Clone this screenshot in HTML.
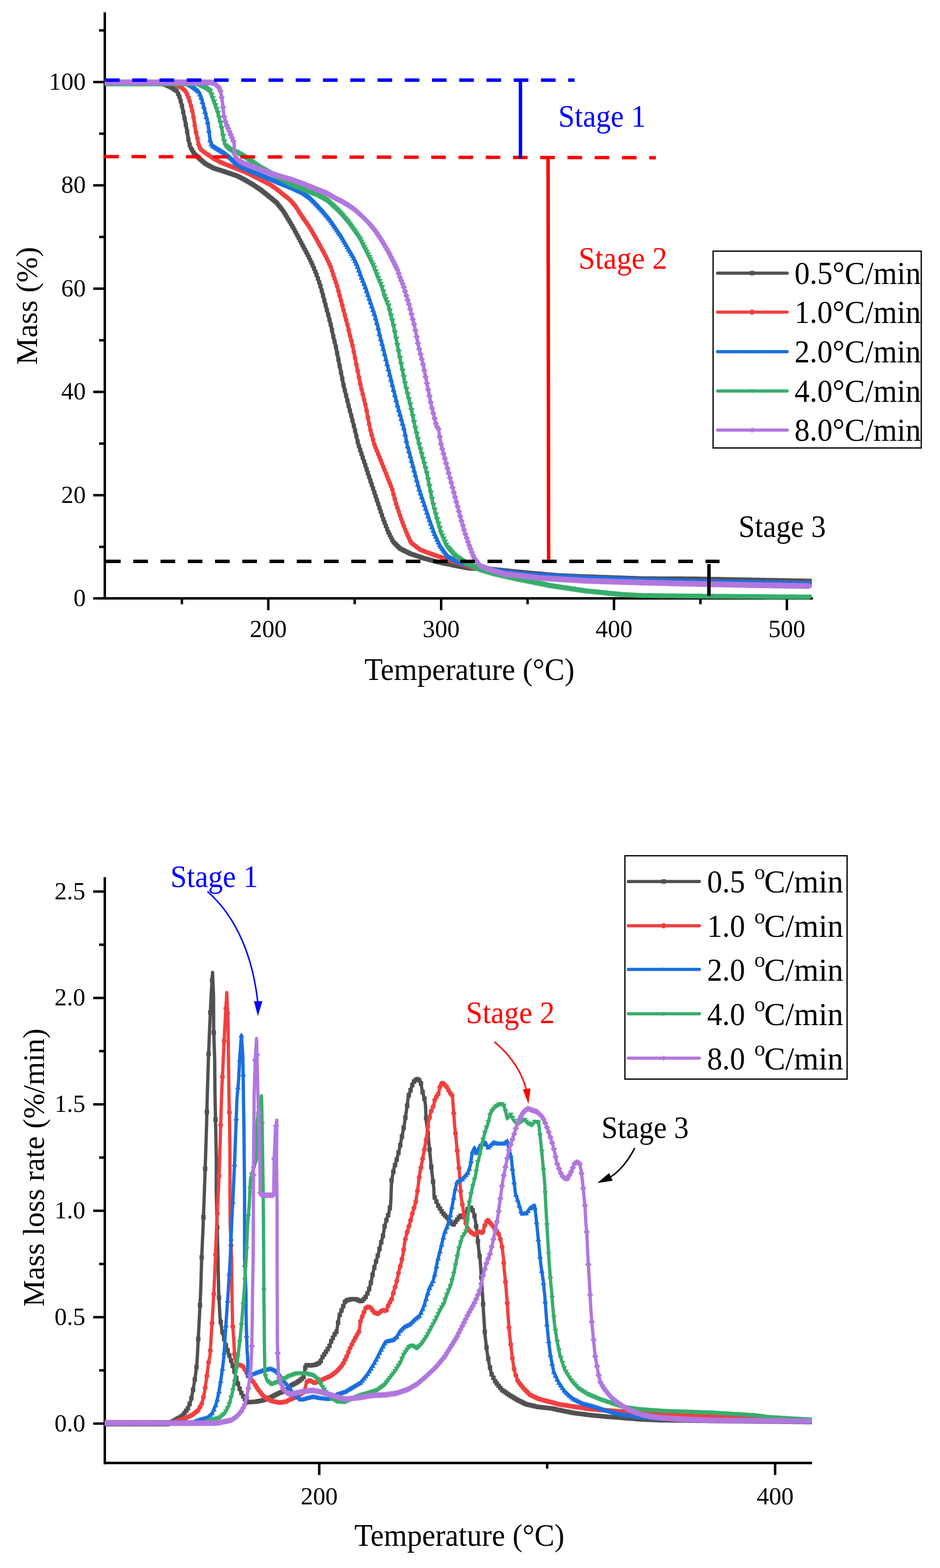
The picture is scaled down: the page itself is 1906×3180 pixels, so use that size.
<!DOCTYPE html>
<html><head><meta charset="utf-8"><title>TGA and DTG curves</title>
<style>html,body{margin:0;padding:0;background:#fff;}svg{display:block;}</style></head>
<body><svg width="1906" height="3180" viewBox="0 0 1906 3180">
<rect width="1906" height="3180" fill="#fff"/>
<g stroke="#000" stroke-width="5" fill="none">
<line x1="212.5" y1="25" x2="212.5" y2="1216"/>
<line x1="189" y1="1213.5" x2="1648" y2="1213.5"/>
<line x1="189" y1="1004.3" x2="212" y2="1004.3"/>
<line x1="189" y1="794.8" x2="212" y2="794.8"/>
<line x1="189" y1="585.4" x2="212" y2="585.4"/>
<line x1="189" y1="375.9" x2="212" y2="375.9"/>
<line x1="189" y1="166.4" x2="212" y2="166.4"/>
<line x1="201" y1="1109.1" x2="212" y2="1109.1"/>
<line x1="201" y1="899.6" x2="212" y2="899.6"/>
<line x1="201" y1="690.1" x2="212" y2="690.1"/>
<line x1="201" y1="480.6" x2="212" y2="480.6"/>
<line x1="201" y1="271.1" x2="212" y2="271.1"/>
<line x1="201" y1="61.7" x2="212" y2="61.7"/>
<line x1="544.0" y1="1213" x2="544.0" y2="1237.5"/>
<line x1="894.5" y1="1213" x2="894.5" y2="1237.5"/>
<line x1="1245.0" y1="1213" x2="1245.0" y2="1237.5"/>
<line x1="1595.5" y1="1213" x2="1595.5" y2="1237.5"/>
<line x1="368.8" y1="1213" x2="368.8" y2="1225.5"/>
<line x1="719.2" y1="1213" x2="719.2" y2="1225.5"/>
<line x1="1069.8" y1="1213" x2="1069.8" y2="1225.5"/>
<line x1="1420.2" y1="1213" x2="1420.2" y2="1225.5"/>
</g>
<defs><clipPath id="ct"><rect x="212" y="20" width="1436" height="1195.5"/></clipPath><clipPath id="cb"><rect x="212" y="1775" width="1435" height="1192.5"/></clipPath></defs>
<g fill="none" stroke-linejoin="round" stroke-linecap="butt" clip-path="url(#ct)">
<polyline points="211,169.5 330,169.5 348.1,177.6 358.9,185 364.3,197.2 369,214.7 372.3,230.9 375.7,247 379.1,264.6 381.8,282.1 385.8,298.2 393.9,311.7 402,319.5 416.5,332 433,341 448.5,345.8 464.7,351.2 480.5,356.5 497,365 513.2,374.5 529.4,385.5 545.6,398.5 560.9,411 574.3,428 585.1,445.6 594.6,461.7 604,479.2 615,500.2 625.8,520.4 635.3,540.6 643.3,560.9 650.1,581.1 655.5,601.3 660.9,621.5 666.3,641.7 671.6,661.9 675.5,681 680.6,701.3 688.7,741.7 696.8,782.2 706.9,822.6 719.2,870 726.3,900.3 736.4,930.6 746.5,961 756.6,991.3 766.7,1021.6 776.8,1051.9 786.9,1078.2 797,1098.4 811.2,1112.6 831.4,1122.7 861.7,1132.8 892,1140.9 922.4,1147 952.7,1153 1000,1154.5 1030,1157.5 1060,1160.5 1090,1163.2 1130,1166.7 1186,1169 1300,1173 1410,1173.6 1540,1176 1646,1178" stroke="#515151" stroke-width="7.6" />
<path d="M208.7 165.2h8.6v8.6h-8.6zM211.3 165.2h8.6v8.6h-8.6zM213.9 165.2h8.6v8.6h-8.6zM216.5 165.2h8.6v8.6h-8.6zM219.1 165.2h8.6v8.6h-8.6zM221.7 165.2h8.6v8.6h-8.6zM224.3 165.2h8.6v8.6h-8.6zM226.9 165.2h8.6v8.6h-8.6zM229.5 165.2h8.6v8.6h-8.6zM232.1 165.2h8.6v8.6h-8.6zM234.7 165.2h8.6v8.6h-8.6zM237.3 165.2h8.6v8.6h-8.6zM239.9 165.2h8.6v8.6h-8.6zM242.5 165.2h8.6v8.6h-8.6zM245.1 165.2h8.6v8.6h-8.6zM247.7 165.2h8.6v8.6h-8.6zM250.3 165.2h8.6v8.6h-8.6zM252.9 165.2h8.6v8.6h-8.6zM255.5 165.2h8.6v8.6h-8.6zM258.1 165.2h8.6v8.6h-8.6zM260.7 165.2h8.6v8.6h-8.6zM263.3 165.2h8.6v8.6h-8.6zM265.9 165.2h8.6v8.6h-8.6zM268.5 165.2h8.6v8.6h-8.6zM271.1 165.2h8.6v8.6h-8.6zM273.7 165.2h8.6v8.6h-8.6zM276.3 165.2h8.6v8.6h-8.6zM278.9 165.2h8.6v8.6h-8.6zM281.5 165.2h8.6v8.6h-8.6zM284.1 165.2h8.6v8.6h-8.6zM286.7 165.2h8.6v8.6h-8.6zM289.3 165.2h8.6v8.6h-8.6zM291.9 165.2h8.6v8.6h-8.6zM294.5 165.2h8.6v8.6h-8.6zM297.1 165.2h8.6v8.6h-8.6zM299.7 165.2h8.6v8.6h-8.6zM302.3 165.2h8.6v8.6h-8.6zM304.9 165.2h8.6v8.6h-8.6zM307.5 165.2h8.6v8.6h-8.6zM310.1 165.2h8.6v8.6h-8.6zM312.7 165.2h8.6v8.6h-8.6zM315.3 165.2h8.6v8.6h-8.6zM317.9 165.2h8.6v8.6h-8.6zM320.5 165.2h8.6v8.6h-8.6zM323.1 165.2h8.6v8.6h-8.6zM325.7 165.2h8.6v8.6h-8.6zM328.3 166.4h8.6v8.6h-8.6zM330.9 167.5h8.6v8.6h-8.6zM333.5 168.7h8.6v8.6h-8.6zM336.1 169.9h8.6v8.6h-8.6zM338.7 171h8.6v8.6h-8.6zM341.3 172.2h8.6v8.6h-8.6zM343.9 173.4h8.6v8.6h-8.6zM346.5 175.2h8.6v8.6h-8.6zM349.1 176.9h8.6v8.6h-8.6zM351.7 178.7h8.6v8.6h-8.6zM354.3 180.5h8.6v8.6h-8.6zM356.9 185.9h8.6v8.6h-8.6zM359.5 191.8h8.6v8.6h-8.6zM362.1 200.7h8.6v8.6h-8.6zM364.7 210.4h8.6v8.6h-8.6zM367.3 223.2h8.6v8.6h-8.6zM369.9 235.6h8.6v8.6h-8.6zM372.5 248.4h8.6v8.6h-8.6zM375.1 262.2h8.6v8.6h-8.6zM377.7 278.6h8.6v8.6h-8.6zM380.3 289.1h8.6v8.6h-8.6zM382.9 296.2h8.6v8.6h-8.6zM385.5 300.6h8.6v8.6h-8.6zM388.1 304.9h8.6v8.6h-8.6zM390.7 308.5h8.6v8.6h-8.6zM393.3 311h8.6v8.6h-8.6zM395.9 313.5h8.6v8.6h-8.6zM398.5 315.9h8.6v8.6h-8.6zM401.1 318.1h8.6v8.6h-8.6zM403.7 320.4h8.6v8.6h-8.6zM406.3 322.6h8.6v8.6h-8.6zM408.9 324.9h8.6v8.6h-8.6zM411.5 327.1h8.6v8.6h-8.6zM414.1 328.7h8.6v8.6h-8.6zM416.7 330.2h8.6v8.6h-8.6zM419.3 331.6h8.6v8.6h-8.6zM421.9 333h8.6v8.6h-8.6zM424.5 334.4h8.6v8.6h-8.6zM427.1 335.8h8.6v8.6h-8.6zM429.7 337h8.6v8.6h-8.6zM432.3 337.8h8.6v8.6h-8.6zM434.9 338.6h8.6v8.6h-8.6zM437.5 339.4h8.6v8.6h-8.6zM440.1 340.2h8.6v8.6h-8.6zM442.7 341h8.6v8.6h-8.6zM445.3 341.9h8.6v8.6h-8.6zM447.9 342.7h8.6v8.6h-8.6zM450.5 343.6h8.6v8.6h-8.6zM453.1 344.5h8.6v8.6h-8.6zM455.7 345.3h8.6v8.6h-8.6zM458.3 346.2h8.6v8.6h-8.6zM460.9 347.1h8.6v8.6h-8.6zM463.5 347.9h8.6v8.6h-8.6zM466.1 348.8h8.6v8.6h-8.6zM468.7 349.7h8.6v8.6h-8.6zM471.3 350.6h8.6v8.6h-8.6zM473.9 351.4h8.6v8.6h-8.6zM476.5 352.4h8.6v8.6h-8.6zM479.1 353.7h8.6v8.6h-8.6zM481.7 355h8.6v8.6h-8.6zM484.3 356.4h8.6v8.6h-8.6zM486.9 357.7h8.6v8.6h-8.6zM489.5 359.1h8.6v8.6h-8.6zM492.1 360.4h8.6v8.6h-8.6zM494.7 361.9h8.6v8.6h-8.6zM497.3 363.4h8.6v8.6h-8.6zM499.9 364.9h8.6v8.6h-8.6zM502.5 366.4h8.6v8.6h-8.6zM505.1 368h8.6v8.6h-8.6zM507.7 369.5h8.6v8.6h-8.6zM510.3 371.2h8.6v8.6h-8.6zM512.9 372.9h8.6v8.6h-8.6zM515.5 374.7h8.6v8.6h-8.6zM518.1 376.4h8.6v8.6h-8.6zM520.7 378.2h8.6v8.6h-8.6zM523.3 380h8.6v8.6h-8.6zM525.9 381.8h8.6v8.6h-8.6zM528.5 383.9h8.6v8.6h-8.6zM531.1 386h8.6v8.6h-8.6zM533.7 388.1h8.6v8.6h-8.6zM536.3 390.2h8.6v8.6h-8.6zM538.9 392.3h8.6v8.6h-8.6zM541.5 394.4h8.6v8.6h-8.6zM544.1 396.5h8.6v8.6h-8.6zM546.7 398.6h8.6v8.6h-8.6zM549.3 400.7h8.6v8.6h-8.6zM551.9 402.9h8.6v8.6h-8.6zM554.5 405h8.6v8.6h-8.6zM557.1 407.3h8.6v8.6h-8.6zM559.7 410.6h8.6v8.6h-8.6zM562.3 413.9h8.6v8.6h-8.6zM564.9 417.2h8.6v8.6h-8.6zM567.5 420.5h8.6v8.6h-8.6zM570.1 423.9h8.6v8.6h-8.6zM572.7 428.1h8.6v8.6h-8.6zM575.3 432.3h8.6v8.6h-8.6zM577.9 436.6h8.6v8.6h-8.6zM580.5 440.8h8.6v8.6h-8.6zM583.1 445.2h8.6v8.6h-8.6zM585.7 449.6h8.6v8.6h-8.6zM588.3 454h8.6v8.6h-8.6zM590.9 458.5h8.6v8.6h-8.6zM593.5 463.4h8.6v8.6h-8.6zM596.1 468.2h8.6v8.6h-8.6zM598.7 473h8.6v8.6h-8.6zM601.3 478h8.6v8.6h-8.6zM603.9 482.9h8.6v8.6h-8.6zM606.5 487.9h8.6v8.6h-8.6zM609.1 492.8h8.6v8.6h-8.6zM611.7 497.8h8.6v8.6h-8.6zM614.3 502.6h8.6v8.6h-8.6zM616.9 507.5h8.6v8.6h-8.6zM619.5 512.4h8.6v8.6h-8.6zM622.1 517.4h8.6v8.6h-8.6zM624.7 522.9h8.6v8.6h-8.6zM627.3 528.4h8.6v8.6h-8.6zM629.9 534h8.6v8.6h-8.6zM632.5 540.1h8.6v8.6h-8.6zM635.1 546.7h8.6v8.6h-8.6zM637.7 553.3h8.6v8.6h-8.6zM640.3 560.5h8.6v8.6h-8.6zM642.9 568.2h8.6v8.6h-8.6zM645.5 575.9h8.6v8.6h-8.6zM648.1 585.4h8.6v8.6h-8.6zM650.7 595.1h8.6v8.6h-8.6zM653.3 604.9h8.6v8.6h-8.6zM655.9 614.6h8.6v8.6h-8.6zM658.5 624.3h8.6v8.6h-8.6zM661.1 634h8.6v8.6h-8.6zM663.7 643.9h8.6v8.6h-8.6zM666.3 653.8h8.6v8.6h-8.6zM668.9 665.4h8.6v8.6h-8.6zM671.5 677.9h8.6v8.6h-8.6zM674.1 688.2h8.6v8.6h-8.6zM676.7 699h8.6v8.6h-8.6zM679.3 712h8.6v8.6h-8.6zM681.9 724.9h8.6v8.6h-8.6zM684.5 737.9h8.6v8.6h-8.6zM687.1 750.9h8.6v8.6h-8.6zM689.7 763.9h8.6v8.6h-8.6zM692.3 776.9h8.6v8.6h-8.6zM694.9 787.5h8.6v8.6h-8.6zM697.5 797.9h8.6v8.6h-8.6zM700.1 808.3h8.6v8.6h-8.6zM702.7 818.7h8.6v8.6h-8.6zM705.3 828.7h8.6v8.6h-8.6zM707.9 838.7h8.6v8.6h-8.6zM710.5 848.7h8.6v8.6h-8.6zM713.1 858.8h8.6v8.6h-8.6zM715.7 869.1h8.6v8.6h-8.6zM718.3 880.2h8.6v8.6h-8.6zM720.9 891.3h8.6v8.6h-8.6zM723.5 900.5h8.6v8.6h-8.6zM726.1 908.3h8.6v8.6h-8.6zM728.7 916.1h8.6v8.6h-8.6zM731.3 923.9h8.6v8.6h-8.6zM733.9 931.7h8.6v8.6h-8.6zM736.5 939.5h8.6v8.6h-8.6zM739.1 947.4h8.6v8.6h-8.6zM741.7 955.2h8.6v8.6h-8.6zM744.3 963h8.6v8.6h-8.6zM746.9 970.8h8.6v8.6h-8.6zM749.5 978.6h8.6v8.6h-8.6zM752.1 986.4h8.6v8.6h-8.6zM754.7 994.2h8.6v8.6h-8.6zM757.3 1002h8.6v8.6h-8.6zM759.9 1009.8h8.6v8.6h-8.6zM762.5 1017.6h8.6v8.6h-8.6zM765.1 1025.4h8.6v8.6h-8.6zM767.7 1033.2h8.6v8.6h-8.6zM770.3 1041h8.6v8.6h-8.6zM772.9 1048.6h8.6v8.6h-8.6zM775.5 1055.4h8.6v8.6h-8.6zM778.1 1062.2h8.6v8.6h-8.6zM780.7 1069h8.6v8.6h-8.6zM783.3 1075.3h8.6v8.6h-8.6zM785.9 1080.5h8.6v8.6h-8.6zM788.5 1085.7h8.6v8.6h-8.6zM791.1 1090.9h8.6v8.6h-8.6zM793.7 1095.1h8.6v8.6h-8.6zM796.3 1097.7h8.6v8.6h-8.6zM798.9 1100.3h8.6v8.6h-8.6zM801.5 1102.9h8.6v8.6h-8.6zM804.1 1105.5h8.6v8.6h-8.6zM806.7 1108.1h8.6v8.6h-8.6zM809.3 1109.5h8.6v8.6h-8.6zM811.9 1110.8h8.6v8.6h-8.6zM814.5 1112.1h8.6v8.6h-8.6zM817.1 1113.4h8.6v8.6h-8.6zM819.7 1114.7h8.6v8.6h-8.6zM822.3 1116h8.6v8.6h-8.6zM824.9 1117.3h8.6v8.6h-8.6zM827.5 1118.5h8.6v8.6h-8.6zM830.1 1119.4h8.6v8.6h-8.6zM832.7 1120.3h8.6v8.6h-8.6zM835.3 1121.1h8.6v8.6h-8.6zM837.9 1122h8.6v8.6h-8.6zM840.5 1122.9h8.6v8.6h-8.6zM843.1 1123.7h8.6v8.6h-8.6zM845.7 1124.6h8.6v8.6h-8.6zM848.3 1125.5h8.6v8.6h-8.6zM850.9 1126.3h8.6v8.6h-8.6zM853.5 1127.2h8.6v8.6h-8.6zM856.1 1128.1h8.6v8.6h-8.6zM858.7 1128.8h8.6v8.6h-8.6zM861.3 1129.5h8.6v8.6h-8.6zM863.9 1130.2h8.6v8.6h-8.6zM866.5 1130.9h8.6v8.6h-8.6zM869.1 1131.6h8.6v8.6h-8.6zM871.7 1132.3h8.6v8.6h-8.6zM874.3 1133h8.6v8.6h-8.6zM876.9 1133.7h8.6v8.6h-8.6zM879.5 1134.4h8.6v8.6h-8.6zM882.1 1135.1h8.6v8.6h-8.6zM884.7 1135.8h8.6v8.6h-8.6zM887.3 1136.5h8.6v8.6h-8.6zM889.9 1137h8.6v8.6h-8.6zM892.5 1137.6h8.6v8.6h-8.6zM895.1 1138.1h8.6v8.6h-8.6zM897.7 1138.6h8.6v8.6h-8.6zM900.3 1139.1h8.6v8.6h-8.6zM902.9 1139.7h8.6v8.6h-8.6zM905.5 1140.2h8.6v8.6h-8.6zM908.1 1140.7h8.6v8.6h-8.6zM910.7 1141.2h8.6v8.6h-8.6zM913.3 1141.7h8.6v8.6h-8.6zM915.9 1142.3h8.6v8.6h-8.6zM918.5 1142.8h8.6v8.6h-8.6zM921.1 1143.3h8.6v8.6h-8.6zM923.7 1143.8h8.6v8.6h-8.6zM926.3 1144.3h8.6v8.6h-8.6zM928.9 1144.8h8.6v8.6h-8.6zM931.5 1145.4h8.6v8.6h-8.6zM934.1 1145.9h8.6v8.6h-8.6zM936.7 1146.4h8.6v8.6h-8.6zM939.3 1146.9h8.6v8.6h-8.6zM941.9 1147.4h8.6v8.6h-8.6zM944.5 1147.9h8.6v8.6h-8.6zM947.1 1148.4h8.6v8.6h-8.6zM949.7 1148.7h8.6v8.6h-8.6zM952.3 1148.8h8.6v8.6h-8.6zM954.9 1148.9h8.6v8.6h-8.6zM957.5 1149h8.6v8.6h-8.6zM960.1 1149.1h8.6v8.6h-8.6zM962.7 1149.2h8.6v8.6h-8.6zM965.3 1149.2h8.6v8.6h-8.6zM967.9 1149.3h8.6v8.6h-8.6zM970.5 1149.4h8.6v8.6h-8.6zM973.1 1149.5h8.6v8.6h-8.6zM975.7 1149.6h8.6v8.6h-8.6zM978.3 1149.6h8.6v8.6h-8.6zM980.9 1149.7h8.6v8.6h-8.6zM983.5 1149.8h8.6v8.6h-8.6zM986.1 1149.9h8.6v8.6h-8.6zM988.7 1150h8.6v8.6h-8.6zM991.3 1150.1h8.6v8.6h-8.6zM993.9 1150.1h8.6v8.6h-8.6zM996.5 1150.3h8.6v8.6h-8.6zM999.1 1150.5h8.6v8.6h-8.6zM1001.7 1150.8h8.6v8.6h-8.6zM1004.3 1151.1h8.6v8.6h-8.6zM1006.9 1151.3h8.6v8.6h-8.6zM1009.5 1151.6h8.6v8.6h-8.6zM1012.1 1151.8h8.6v8.6h-8.6zM1014.7 1152.1h8.6v8.6h-8.6zM1017.3 1152.4h8.6v8.6h-8.6zM1019.9 1152.6h8.6v8.6h-8.6zM1022.5 1152.9h8.6v8.6h-8.6zM1025.1 1153.1h8.6v8.6h-8.6zM1027.7 1153.4h8.6v8.6h-8.6zM1030.3 1153.7h8.6v8.6h-8.6zM1032.9 1153.9h8.6v8.6h-8.6zM1035.5 1154.2h8.6v8.6h-8.6zM1038.1 1154.4h8.6v8.6h-8.6zM1040.7 1154.7h8.6v8.6h-8.6zM1043.3 1155h8.6v8.6h-8.6zM1045.9 1155.2h8.6v8.6h-8.6zM1048.5 1155.5h8.6v8.6h-8.6zM1051.1 1155.7h8.6v8.6h-8.6zM1053.7 1156h8.6v8.6h-8.6zM1056.3 1156.3h8.6v8.6h-8.6zM1058.9 1156.5h8.6v8.6h-8.6zM1061.5 1156.7h8.6v8.6h-8.6zM1064.1 1157h8.6v8.6h-8.6zM1066.7 1157.2h8.6v8.6h-8.6zM1069.3 1157.4h8.6v8.6h-8.6zM1071.9 1157.7h8.6v8.6h-8.6zM1074.5 1157.9h8.6v8.6h-8.6zM1077.1 1158.1h8.6v8.6h-8.6zM1079.7 1158.4h8.6v8.6h-8.6zM1082.3 1158.6h8.6v8.6h-8.6zM1084.9 1158.8h8.6v8.6h-8.6zM1087.5 1159.1h8.6v8.6h-8.6zM1090.1 1159.3h8.6v8.6h-8.6zM1092.7 1159.5h8.6v8.6h-8.6zM1095.3 1159.7h8.6v8.6h-8.6zM1097.9 1160h8.6v8.6h-8.6zM1100.5 1160.2h8.6v8.6h-8.6zM1103.1 1160.4h8.6v8.6h-8.6zM1105.7 1160.7h8.6v8.6h-8.6zM1108.3 1160.9h8.6v8.6h-8.6zM1110.9 1161.1h8.6v8.6h-8.6zM1113.5 1161.3h8.6v8.6h-8.6zM1116.1 1161.6h8.6v8.6h-8.6zM1118.7 1161.8h8.6v8.6h-8.6zM1121.3 1162h8.6v8.6h-8.6zM1123.9 1162.2h8.6v8.6h-8.6zM1126.5 1162.4h8.6v8.6h-8.6zM1129.1 1162.5h8.6v8.6h-8.6zM1131.7 1162.6h8.6v8.6h-8.6zM1134.3 1162.8h8.6v8.6h-8.6zM1136.9 1162.9h8.6v8.6h-8.6zM1139.5 1163h8.6v8.6h-8.6zM1142.1 1163.1h8.6v8.6h-8.6zM1144.7 1163.2h8.6v8.6h-8.6zM1147.3 1163.3h8.6v8.6h-8.6zM1149.9 1163.4h8.6v8.6h-8.6zM1152.5 1163.5h8.6v8.6h-8.6zM1155.1 1163.6h8.6v8.6h-8.6zM1157.7 1163.7h8.6v8.6h-8.6zM1160.3 1163.8h8.6v8.6h-8.6zM1162.9 1163.9h8.6v8.6h-8.6zM1165.5 1164h8.6v8.6h-8.6zM1168.1 1164.1h8.6v8.6h-8.6zM1170.7 1164.2h8.6v8.6h-8.6zM1173.3 1164.4h8.6v8.6h-8.6zM1175.9 1164.5h8.6v8.6h-8.6zM1178.5 1164.6h8.6v8.6h-8.6zM1181.1 1164.7h8.6v8.6h-8.6zM1183.7 1164.8h8.6v8.6h-8.6zM1186.3 1164.9h8.6v8.6h-8.6zM1188.9 1165h8.6v8.6h-8.6zM1191.5 1165h8.6v8.6h-8.6zM1194.1 1165.1h8.6v8.6h-8.6zM1196.7 1165.2h8.6v8.6h-8.6zM1199.3 1165.3h8.6v8.6h-8.6zM1201.9 1165.4h8.6v8.6h-8.6zM1204.5 1165.5h8.6v8.6h-8.6zM1207.1 1165.6h8.6v8.6h-8.6zM1209.7 1165.7h8.6v8.6h-8.6zM1212.3 1165.8h8.6v8.6h-8.6zM1214.9 1165.9h8.6v8.6h-8.6zM1217.5 1166h8.6v8.6h-8.6zM1220.1 1166h8.6v8.6h-8.6zM1222.7 1166.1h8.6v8.6h-8.6zM1225.3 1166.2h8.6v8.6h-8.6zM1227.9 1166.3h8.6v8.6h-8.6zM1230.5 1166.4h8.6v8.6h-8.6zM1233.1 1166.5h8.6v8.6h-8.6zM1235.7 1166.6h8.6v8.6h-8.6zM1238.3 1166.7h8.6v8.6h-8.6zM1240.9 1166.8h8.6v8.6h-8.6zM1243.5 1166.9h8.6v8.6h-8.6zM1246.1 1167h8.6v8.6h-8.6zM1248.7 1167.1h8.6v8.6h-8.6zM1251.3 1167.1h8.6v8.6h-8.6zM1253.9 1167.2h8.6v8.6h-8.6zM1256.5 1167.3h8.6v8.6h-8.6zM1259.1 1167.4h8.6v8.6h-8.6zM1261.7 1167.5h8.6v8.6h-8.6zM1264.3 1167.6h8.6v8.6h-8.6zM1266.9 1167.7h8.6v8.6h-8.6zM1269.5 1167.8h8.6v8.6h-8.6zM1272.1 1167.9h8.6v8.6h-8.6zM1274.7 1168h8.6v8.6h-8.6zM1277.3 1168.1h8.6v8.6h-8.6zM1279.9 1168.1h8.6v8.6h-8.6zM1282.5 1168.2h8.6v8.6h-8.6zM1285.1 1168.3h8.6v8.6h-8.6zM1287.7 1168.4h8.6v8.6h-8.6zM1290.3 1168.5h8.6v8.6h-8.6zM1292.9 1168.6h8.6v8.6h-8.6zM1295.5 1168.7h8.6v8.6h-8.6zM1298.1 1168.7h8.6v8.6h-8.6zM1300.7 1168.7h8.6v8.6h-8.6zM1303.3 1168.7h8.6v8.6h-8.6zM1305.9 1168.8h8.6v8.6h-8.6zM1308.5 1168.8h8.6v8.6h-8.6zM1311.1 1168.8h8.6v8.6h-8.6zM1313.7 1168.8h8.6v8.6h-8.6zM1316.3 1168.8h8.6v8.6h-8.6zM1318.9 1168.8h8.6v8.6h-8.6zM1321.5 1168.8h8.6v8.6h-8.6zM1324.1 1168.9h8.6v8.6h-8.6zM1326.7 1168.9h8.6v8.6h-8.6zM1329.3 1168.9h8.6v8.6h-8.6zM1331.9 1168.9h8.6v8.6h-8.6zM1334.5 1168.9h8.6v8.6h-8.6zM1337.1 1168.9h8.6v8.6h-8.6zM1339.7 1168.9h8.6v8.6h-8.6zM1342.3 1169h8.6v8.6h-8.6zM1344.9 1169h8.6v8.6h-8.6zM1347.5 1169h8.6v8.6h-8.6zM1350.1 1169h8.6v8.6h-8.6zM1352.7 1169h8.6v8.6h-8.6zM1355.3 1169h8.6v8.6h-8.6zM1357.9 1169h8.6v8.6h-8.6zM1360.5 1169.1h8.6v8.6h-8.6zM1363.1 1169.1h8.6v8.6h-8.6zM1365.7 1169.1h8.6v8.6h-8.6zM1368.3 1169.1h8.6v8.6h-8.6zM1370.9 1169.1h8.6v8.6h-8.6zM1373.5 1169.1h8.6v8.6h-8.6zM1376.1 1169.1h8.6v8.6h-8.6zM1378.7 1169.2h8.6v8.6h-8.6zM1381.3 1169.2h8.6v8.6h-8.6zM1383.9 1169.2h8.6v8.6h-8.6zM1386.5 1169.2h8.6v8.6h-8.6zM1389.1 1169.2h8.6v8.6h-8.6zM1391.7 1169.2h8.6v8.6h-8.6zM1394.3 1169.2h8.6v8.6h-8.6zM1396.9 1169.3h8.6v8.6h-8.6zM1399.5 1169.3h8.6v8.6h-8.6zM1402.1 1169.3h8.6v8.6h-8.6zM1404.7 1169.3h8.6v8.6h-8.6zM1407.3 1169.3h8.6v8.6h-8.6zM1409.9 1169.4h8.6v8.6h-8.6zM1412.5 1169.4h8.6v8.6h-8.6zM1415.1 1169.5h8.6v8.6h-8.6zM1417.7 1169.5h8.6v8.6h-8.6zM1420.3 1169.6h8.6v8.6h-8.6zM1422.9 1169.6h8.6v8.6h-8.6zM1425.5 1169.7h8.6v8.6h-8.6zM1428.1 1169.7h8.6v8.6h-8.6zM1430.7 1169.8h8.6v8.6h-8.6zM1433.3 1169.8h8.6v8.6h-8.6zM1435.9 1169.9h8.6v8.6h-8.6zM1438.5 1169.9h8.6v8.6h-8.6zM1441.1 1170h8.6v8.6h-8.6zM1443.7 1170h8.6v8.6h-8.6zM1446.3 1170h8.6v8.6h-8.6zM1448.9 1170.1h8.6v8.6h-8.6zM1451.5 1170.1h8.6v8.6h-8.6zM1454.1 1170.2h8.6v8.6h-8.6zM1456.7 1170.2h8.6v8.6h-8.6zM1459.3 1170.3h8.6v8.6h-8.6zM1461.9 1170.3h8.6v8.6h-8.6zM1464.5 1170.4h8.6v8.6h-8.6zM1467.1 1170.4h8.6v8.6h-8.6zM1469.7 1170.5h8.6v8.6h-8.6zM1472.3 1170.5h8.6v8.6h-8.6zM1474.9 1170.6h8.6v8.6h-8.6zM1477.5 1170.6h8.6v8.6h-8.6zM1480.1 1170.7h8.6v8.6h-8.6zM1482.7 1170.7h8.6v8.6h-8.6zM1485.3 1170.8h8.6v8.6h-8.6zM1487.9 1170.8h8.6v8.6h-8.6zM1490.5 1170.9h8.6v8.6h-8.6zM1493.1 1170.9h8.6v8.6h-8.6zM1495.7 1171h8.6v8.6h-8.6zM1498.3 1171h8.6v8.6h-8.6zM1500.9 1171.1h8.6v8.6h-8.6zM1503.5 1171.1h8.6v8.6h-8.6zM1506.1 1171.2h8.6v8.6h-8.6zM1508.7 1171.2h8.6v8.6h-8.6zM1511.3 1171.2h8.6v8.6h-8.6zM1513.9 1171.3h8.6v8.6h-8.6zM1516.5 1171.3h8.6v8.6h-8.6zM1519.1 1171.4h8.6v8.6h-8.6zM1521.7 1171.4h8.6v8.6h-8.6zM1524.3 1171.5h8.6v8.6h-8.6zM1526.9 1171.5h8.6v8.6h-8.6zM1529.5 1171.6h8.6v8.6h-8.6zM1532.1 1171.6h8.6v8.6h-8.6zM1534.7 1171.7h8.6v8.6h-8.6zM1537.3 1171.7h8.6v8.6h-8.6zM1539.9 1171.8h8.6v8.6h-8.6zM1542.5 1171.8h8.6v8.6h-8.6zM1545.1 1171.9h8.6v8.6h-8.6zM1547.7 1171.9h8.6v8.6h-8.6zM1550.3 1172h8.6v8.6h-8.6zM1552.9 1172h8.6v8.6h-8.6zM1555.5 1172.1h8.6v8.6h-8.6zM1558.1 1172.1h8.6v8.6h-8.6zM1560.7 1172.2h8.6v8.6h-8.6zM1563.3 1172.2h8.6v8.6h-8.6zM1565.9 1172.3h8.6v8.6h-8.6zM1568.5 1172.3h8.6v8.6h-8.6zM1571.1 1172.4h8.6v8.6h-8.6zM1573.7 1172.4h8.6v8.6h-8.6zM1576.3 1172.5h8.6v8.6h-8.6zM1578.9 1172.5h8.6v8.6h-8.6zM1581.5 1172.6h8.6v8.6h-8.6zM1584.1 1172.6h8.6v8.6h-8.6zM1586.7 1172.7h8.6v8.6h-8.6zM1589.3 1172.7h8.6v8.6h-8.6zM1591.9 1172.8h8.6v8.6h-8.6zM1594.5 1172.8h8.6v8.6h-8.6zM1597.1 1172.9h8.6v8.6h-8.6zM1599.7 1172.9h8.6v8.6h-8.6zM1602.3 1173h8.6v8.6h-8.6zM1604.9 1173h8.6v8.6h-8.6zM1607.5 1173.1h8.6v8.6h-8.6zM1610.1 1173.1h8.6v8.6h-8.6zM1612.7 1173.2h8.6v8.6h-8.6zM1615.3 1173.2h8.6v8.6h-8.6zM1617.9 1173.3h8.6v8.6h-8.6zM1620.5 1173.3h8.6v8.6h-8.6zM1623.1 1173.3h8.6v8.6h-8.6zM1625.7 1173.4h8.6v8.6h-8.6zM1628.3 1173.4h8.6v8.6h-8.6zM1630.9 1173.5h8.6v8.6h-8.6zM1633.5 1173.5h8.6v8.6h-8.6zM1636.1 1173.6h8.6v8.6h-8.6z" fill="#515151" stroke="none"/>
<polyline points="211,169.5 350,169.5 367,177 376.4,185 383.1,199.9 387.2,214.7 391.2,230.9 393.9,247 396.6,264.6 400.6,282.1 403.3,295.6 407,303 416.2,310.2 432.3,321 448.5,329.6 464.7,336.1 480.9,342.5 497,348.9 513.5,356.8 533.9,367.4 547.4,374.1 560.9,383.6 574.3,394.3 587.8,405.1 598.6,417.3 608,432.1 618.8,448.2 628.2,461.7 638.5,479.5 650.1,500.2 660.9,520.4 670.3,540.6 677,560.9 683.8,581.1 689.2,601.3 694.6,621.5 699.9,641.7 705.3,661.9 709.4,680 715,701.3 723.1,741.7 731.2,782.2 741.3,822.6 750.5,870 758.6,900.3 770.8,930.6 782.9,961 795,991.3 803.1,1021.6 813.2,1051.9 823.3,1078.2 833.4,1100.5 851.6,1114.6 877.9,1124.7 902.2,1132.8 932.5,1142.9 962.8,1152 1000,1155.5 1030,1161 1060,1164.5 1090,1166.8 1130,1169.3 1186,1172 1300,1176.5 1410,1179.6 1540,1181.8 1570,1181.5 1646,1182.5" stroke="#F14040" stroke-width="7.4" />
<path d="M208.2 169.5a4.8 4.8 0 1 0 9.6 0a4.8 4.8 0 1 0 -9.6 0M210.8 169.5a4.8 4.8 0 1 0 9.6 0a4.8 4.8 0 1 0 -9.6 0M213.4 169.5a4.8 4.8 0 1 0 9.6 0a4.8 4.8 0 1 0 -9.6 0M216 169.5a4.8 4.8 0 1 0 9.6 0a4.8 4.8 0 1 0 -9.6 0M218.6 169.5a4.8 4.8 0 1 0 9.6 0a4.8 4.8 0 1 0 -9.6 0M221.2 169.5a4.8 4.8 0 1 0 9.6 0a4.8 4.8 0 1 0 -9.6 0M223.8 169.5a4.8 4.8 0 1 0 9.6 0a4.8 4.8 0 1 0 -9.6 0M226.4 169.5a4.8 4.8 0 1 0 9.6 0a4.8 4.8 0 1 0 -9.6 0M229 169.5a4.8 4.8 0 1 0 9.6 0a4.8 4.8 0 1 0 -9.6 0M231.6 169.5a4.8 4.8 0 1 0 9.6 0a4.8 4.8 0 1 0 -9.6 0M234.2 169.5a4.8 4.8 0 1 0 9.6 0a4.8 4.8 0 1 0 -9.6 0M236.8 169.5a4.8 4.8 0 1 0 9.6 0a4.8 4.8 0 1 0 -9.6 0M239.4 169.5a4.8 4.8 0 1 0 9.6 0a4.8 4.8 0 1 0 -9.6 0M242 169.5a4.8 4.8 0 1 0 9.6 0a4.8 4.8 0 1 0 -9.6 0M244.6 169.5a4.8 4.8 0 1 0 9.6 0a4.8 4.8 0 1 0 -9.6 0M247.2 169.5a4.8 4.8 0 1 0 9.6 0a4.8 4.8 0 1 0 -9.6 0M249.8 169.5a4.8 4.8 0 1 0 9.6 0a4.8 4.8 0 1 0 -9.6 0M252.4 169.5a4.8 4.8 0 1 0 9.6 0a4.8 4.8 0 1 0 -9.6 0M255 169.5a4.8 4.8 0 1 0 9.6 0a4.8 4.8 0 1 0 -9.6 0M257.6 169.5a4.8 4.8 0 1 0 9.6 0a4.8 4.8 0 1 0 -9.6 0M260.2 169.5a4.8 4.8 0 1 0 9.6 0a4.8 4.8 0 1 0 -9.6 0M262.8 169.5a4.8 4.8 0 1 0 9.6 0a4.8 4.8 0 1 0 -9.6 0M265.4 169.5a4.8 4.8 0 1 0 9.6 0a4.8 4.8 0 1 0 -9.6 0M268 169.5a4.8 4.8 0 1 0 9.6 0a4.8 4.8 0 1 0 -9.6 0M270.6 169.5a4.8 4.8 0 1 0 9.6 0a4.8 4.8 0 1 0 -9.6 0M273.2 169.5a4.8 4.8 0 1 0 9.6 0a4.8 4.8 0 1 0 -9.6 0M275.8 169.5a4.8 4.8 0 1 0 9.6 0a4.8 4.8 0 1 0 -9.6 0M278.4 169.5a4.8 4.8 0 1 0 9.6 0a4.8 4.8 0 1 0 -9.6 0M281 169.5a4.8 4.8 0 1 0 9.6 0a4.8 4.8 0 1 0 -9.6 0M283.6 169.5a4.8 4.8 0 1 0 9.6 0a4.8 4.8 0 1 0 -9.6 0M286.2 169.5a4.8 4.8 0 1 0 9.6 0a4.8 4.8 0 1 0 -9.6 0M288.8 169.5a4.8 4.8 0 1 0 9.6 0a4.8 4.8 0 1 0 -9.6 0M291.4 169.5a4.8 4.8 0 1 0 9.6 0a4.8 4.8 0 1 0 -9.6 0M294 169.5a4.8 4.8 0 1 0 9.6 0a4.8 4.8 0 1 0 -9.6 0M296.6 169.5a4.8 4.8 0 1 0 9.6 0a4.8 4.8 0 1 0 -9.6 0M299.2 169.5a4.8 4.8 0 1 0 9.6 0a4.8 4.8 0 1 0 -9.6 0M301.8 169.5a4.8 4.8 0 1 0 9.6 0a4.8 4.8 0 1 0 -9.6 0M304.4 169.5a4.8 4.8 0 1 0 9.6 0a4.8 4.8 0 1 0 -9.6 0M307 169.5a4.8 4.8 0 1 0 9.6 0a4.8 4.8 0 1 0 -9.6 0M309.6 169.5a4.8 4.8 0 1 0 9.6 0a4.8 4.8 0 1 0 -9.6 0M312.2 169.5a4.8 4.8 0 1 0 9.6 0a4.8 4.8 0 1 0 -9.6 0M314.8 169.5a4.8 4.8 0 1 0 9.6 0a4.8 4.8 0 1 0 -9.6 0M317.4 169.5a4.8 4.8 0 1 0 9.6 0a4.8 4.8 0 1 0 -9.6 0M320 169.5a4.8 4.8 0 1 0 9.6 0a4.8 4.8 0 1 0 -9.6 0M322.6 169.5a4.8 4.8 0 1 0 9.6 0a4.8 4.8 0 1 0 -9.6 0M325.2 169.5a4.8 4.8 0 1 0 9.6 0a4.8 4.8 0 1 0 -9.6 0M327.8 169.5a4.8 4.8 0 1 0 9.6 0a4.8 4.8 0 1 0 -9.6 0M330.4 169.5a4.8 4.8 0 1 0 9.6 0a4.8 4.8 0 1 0 -9.6 0M333 169.5a4.8 4.8 0 1 0 9.6 0a4.8 4.8 0 1 0 -9.6 0M335.6 169.5a4.8 4.8 0 1 0 9.6 0a4.8 4.8 0 1 0 -9.6 0M338.2 169.5a4.8 4.8 0 1 0 9.6 0a4.8 4.8 0 1 0 -9.6 0M340.8 169.5a4.8 4.8 0 1 0 9.6 0a4.8 4.8 0 1 0 -9.6 0M343.4 169.5a4.8 4.8 0 1 0 9.6 0a4.8 4.8 0 1 0 -9.6 0M346 169.9a4.8 4.8 0 1 0 9.6 0a4.8 4.8 0 1 0 -9.6 0M348.6 171a4.8 4.8 0 1 0 9.6 0a4.8 4.8 0 1 0 -9.6 0M351.2 172.1a4.8 4.8 0 1 0 9.6 0a4.8 4.8 0 1 0 -9.6 0M353.8 173.3a4.8 4.8 0 1 0 9.6 0a4.8 4.8 0 1 0 -9.6 0M356.4 174.4a4.8 4.8 0 1 0 9.6 0a4.8 4.8 0 1 0 -9.6 0M359 175.6a4.8 4.8 0 1 0 9.6 0a4.8 4.8 0 1 0 -9.6 0M361.6 176.7a4.8 4.8 0 1 0 9.6 0a4.8 4.8 0 1 0 -9.6 0M364.2 178.7a4.8 4.8 0 1 0 9.6 0a4.8 4.8 0 1 0 -9.6 0M366.8 180.9a4.8 4.8 0 1 0 9.6 0a4.8 4.8 0 1 0 -9.6 0M369.4 183.1a4.8 4.8 0 1 0 9.6 0a4.8 4.8 0 1 0 -9.6 0M372 185.9a4.8 4.8 0 1 0 9.6 0a4.8 4.8 0 1 0 -9.6 0M374.6 191.7a4.8 4.8 0 1 0 9.6 0a4.8 4.8 0 1 0 -9.6 0M377.2 197.5a4.8 4.8 0 1 0 9.6 0a4.8 4.8 0 1 0 -9.6 0M379.8 205.3a4.8 4.8 0 1 0 9.6 0a4.8 4.8 0 1 0 -9.6 0M382.4 214.7a4.8 4.8 0 1 0 9.6 0a4.8 4.8 0 1 0 -9.6 0M385 225.2a4.8 4.8 0 1 0 9.6 0a4.8 4.8 0 1 0 -9.6 0M387.6 238.1a4.8 4.8 0 1 0 9.6 0a4.8 4.8 0 1 0 -9.6 0M390.2 254.2a4.8 4.8 0 1 0 9.6 0a4.8 4.8 0 1 0 -9.6 0M392.8 269a4.8 4.8 0 1 0 9.6 0a4.8 4.8 0 1 0 -9.6 0M395.4 280.4a4.8 4.8 0 1 0 9.6 0a4.8 4.8 0 1 0 -9.6 0M398 293.1a4.8 4.8 0 1 0 9.6 0a4.8 4.8 0 1 0 -9.6 0M400.6 299.8a4.8 4.8 0 1 0 9.6 0a4.8 4.8 0 1 0 -9.6 0M403.2 303.8a4.8 4.8 0 1 0 9.6 0a4.8 4.8 0 1 0 -9.6 0M405.8 305.8a4.8 4.8 0 1 0 9.6 0a4.8 4.8 0 1 0 -9.6 0M408.4 307.9a4.8 4.8 0 1 0 9.6 0a4.8 4.8 0 1 0 -9.6 0M411 309.9a4.8 4.8 0 1 0 9.6 0a4.8 4.8 0 1 0 -9.6 0M413.6 311.7a4.8 4.8 0 1 0 9.6 0a4.8 4.8 0 1 0 -9.6 0M416.2 313.4a4.8 4.8 0 1 0 9.6 0a4.8 4.8 0 1 0 -9.6 0M418.8 315.2a4.8 4.8 0 1 0 9.6 0a4.8 4.8 0 1 0 -9.6 0M421.4 316.9a4.8 4.8 0 1 0 9.6 0a4.8 4.8 0 1 0 -9.6 0M424 318.7a4.8 4.8 0 1 0 9.6 0a4.8 4.8 0 1 0 -9.6 0M426.6 320.4a4.8 4.8 0 1 0 9.6 0a4.8 4.8 0 1 0 -9.6 0M429.2 321.9a4.8 4.8 0 1 0 9.6 0a4.8 4.8 0 1 0 -9.6 0M431.8 323.3a4.8 4.8 0 1 0 9.6 0a4.8 4.8 0 1 0 -9.6 0M434.4 324.7a4.8 4.8 0 1 0 9.6 0a4.8 4.8 0 1 0 -9.6 0M437 326a4.8 4.8 0 1 0 9.6 0a4.8 4.8 0 1 0 -9.6 0M439.6 327.4a4.8 4.8 0 1 0 9.6 0a4.8 4.8 0 1 0 -9.6 0M442.2 328.8a4.8 4.8 0 1 0 9.6 0a4.8 4.8 0 1 0 -9.6 0M444.8 330a4.8 4.8 0 1 0 9.6 0a4.8 4.8 0 1 0 -9.6 0M447.4 331.1a4.8 4.8 0 1 0 9.6 0a4.8 4.8 0 1 0 -9.6 0M450 332.1a4.8 4.8 0 1 0 9.6 0a4.8 4.8 0 1 0 -9.6 0M452.6 333.2a4.8 4.8 0 1 0 9.6 0a4.8 4.8 0 1 0 -9.6 0M455.2 334.2a4.8 4.8 0 1 0 9.6 0a4.8 4.8 0 1 0 -9.6 0M457.8 335.3a4.8 4.8 0 1 0 9.6 0a4.8 4.8 0 1 0 -9.6 0M460.4 336.3a4.8 4.8 0 1 0 9.6 0a4.8 4.8 0 1 0 -9.6 0M463 337.3a4.8 4.8 0 1 0 9.6 0a4.8 4.8 0 1 0 -9.6 0M465.6 338.4a4.8 4.8 0 1 0 9.6 0a4.8 4.8 0 1 0 -9.6 0M468.2 339.4a4.8 4.8 0 1 0 9.6 0a4.8 4.8 0 1 0 -9.6 0M470.8 340.4a4.8 4.8 0 1 0 9.6 0a4.8 4.8 0 1 0 -9.6 0M473.4 341.4a4.8 4.8 0 1 0 9.6 0a4.8 4.8 0 1 0 -9.6 0M476 342.5a4.8 4.8 0 1 0 9.6 0a4.8 4.8 0 1 0 -9.6 0M478.6 343.5a4.8 4.8 0 1 0 9.6 0a4.8 4.8 0 1 0 -9.6 0M481.2 344.5a4.8 4.8 0 1 0 9.6 0a4.8 4.8 0 1 0 -9.6 0M483.8 345.6a4.8 4.8 0 1 0 9.6 0a4.8 4.8 0 1 0 -9.6 0M486.4 346.6a4.8 4.8 0 1 0 9.6 0a4.8 4.8 0 1 0 -9.6 0M489 347.6a4.8 4.8 0 1 0 9.6 0a4.8 4.8 0 1 0 -9.6 0M491.6 348.7a4.8 4.8 0 1 0 9.6 0a4.8 4.8 0 1 0 -9.6 0M494.2 349.9a4.8 4.8 0 1 0 9.6 0a4.8 4.8 0 1 0 -9.6 0M496.8 351.1a4.8 4.8 0 1 0 9.6 0a4.8 4.8 0 1 0 -9.6 0M499.4 352.3a4.8 4.8 0 1 0 9.6 0a4.8 4.8 0 1 0 -9.6 0M502 353.6a4.8 4.8 0 1 0 9.6 0a4.8 4.8 0 1 0 -9.6 0M504.6 354.8a4.8 4.8 0 1 0 9.6 0a4.8 4.8 0 1 0 -9.6 0M507.2 356.1a4.8 4.8 0 1 0 9.6 0a4.8 4.8 0 1 0 -9.6 0M509.8 357.4a4.8 4.8 0 1 0 9.6 0a4.8 4.8 0 1 0 -9.6 0M512.4 358.7a4.8 4.8 0 1 0 9.6 0a4.8 4.8 0 1 0 -9.6 0M515 360.1a4.8 4.8 0 1 0 9.6 0a4.8 4.8 0 1 0 -9.6 0M517.6 361.4a4.8 4.8 0 1 0 9.6 0a4.8 4.8 0 1 0 -9.6 0M520.2 362.8a4.8 4.8 0 1 0 9.6 0a4.8 4.8 0 1 0 -9.6 0M522.8 364.1a4.8 4.8 0 1 0 9.6 0a4.8 4.8 0 1 0 -9.6 0M525.4 365.5a4.8 4.8 0 1 0 9.6 0a4.8 4.8 0 1 0 -9.6 0M528 366.8a4.8 4.8 0 1 0 9.6 0a4.8 4.8 0 1 0 -9.6 0M530.6 368.1a4.8 4.8 0 1 0 9.6 0a4.8 4.8 0 1 0 -9.6 0M533.2 369.4a4.8 4.8 0 1 0 9.6 0a4.8 4.8 0 1 0 -9.6 0M535.8 370.7a4.8 4.8 0 1 0 9.6 0a4.8 4.8 0 1 0 -9.6 0M538.4 372a4.8 4.8 0 1 0 9.6 0a4.8 4.8 0 1 0 -9.6 0M541 373.3a4.8 4.8 0 1 0 9.6 0a4.8 4.8 0 1 0 -9.6 0M543.6 374.8a4.8 4.8 0 1 0 9.6 0a4.8 4.8 0 1 0 -9.6 0M546.2 376.6a4.8 4.8 0 1 0 9.6 0a4.8 4.8 0 1 0 -9.6 0M548.8 378.5a4.8 4.8 0 1 0 9.6 0a4.8 4.8 0 1 0 -9.6 0M551.4 380.3a4.8 4.8 0 1 0 9.6 0a4.8 4.8 0 1 0 -9.6 0M554 382.1a4.8 4.8 0 1 0 9.6 0a4.8 4.8 0 1 0 -9.6 0M556.6 384a4.8 4.8 0 1 0 9.6 0a4.8 4.8 0 1 0 -9.6 0M559.2 386.1a4.8 4.8 0 1 0 9.6 0a4.8 4.8 0 1 0 -9.6 0M561.8 388.2a4.8 4.8 0 1 0 9.6 0a4.8 4.8 0 1 0 -9.6 0M564.4 390.2a4.8 4.8 0 1 0 9.6 0a4.8 4.8 0 1 0 -9.6 0M567 392.3a4.8 4.8 0 1 0 9.6 0a4.8 4.8 0 1 0 -9.6 0M569.6 394.4a4.8 4.8 0 1 0 9.6 0a4.8 4.8 0 1 0 -9.6 0M572.2 396.5a4.8 4.8 0 1 0 9.6 0a4.8 4.8 0 1 0 -9.6 0M574.8 398.5a4.8 4.8 0 1 0 9.6 0a4.8 4.8 0 1 0 -9.6 0M577.4 400.6a4.8 4.8 0 1 0 9.6 0a4.8 4.8 0 1 0 -9.6 0M580 402.7a4.8 4.8 0 1 0 9.6 0a4.8 4.8 0 1 0 -9.6 0M582.6 404.8a4.8 4.8 0 1 0 9.6 0a4.8 4.8 0 1 0 -9.6 0M585.2 407.6a4.8 4.8 0 1 0 9.6 0a4.8 4.8 0 1 0 -9.6 0M587.8 410.5a4.8 4.8 0 1 0 9.6 0a4.8 4.8 0 1 0 -9.6 0M590.4 413.5a4.8 4.8 0 1 0 9.6 0a4.8 4.8 0 1 0 -9.6 0M593 416.4a4.8 4.8 0 1 0 9.6 0a4.8 4.8 0 1 0 -9.6 0M595.6 420.1a4.8 4.8 0 1 0 9.6 0a4.8 4.8 0 1 0 -9.6 0M598.2 424.2a4.8 4.8 0 1 0 9.6 0a4.8 4.8 0 1 0 -9.6 0M600.8 428.3a4.8 4.8 0 1 0 9.6 0a4.8 4.8 0 1 0 -9.6 0M603.4 432.4a4.8 4.8 0 1 0 9.6 0a4.8 4.8 0 1 0 -9.6 0M606 436.3a4.8 4.8 0 1 0 9.6 0a4.8 4.8 0 1 0 -9.6 0M608.6 440.2a4.8 4.8 0 1 0 9.6 0a4.8 4.8 0 1 0 -9.6 0M611.2 444a4.8 4.8 0 1 0 9.6 0a4.8 4.8 0 1 0 -9.6 0M613.8 447.9a4.8 4.8 0 1 0 9.6 0a4.8 4.8 0 1 0 -9.6 0M616.4 451.6a4.8 4.8 0 1 0 9.6 0a4.8 4.8 0 1 0 -9.6 0M619 455.4a4.8 4.8 0 1 0 9.6 0a4.8 4.8 0 1 0 -9.6 0M621.6 459.1a4.8 4.8 0 1 0 9.6 0a4.8 4.8 0 1 0 -9.6 0M624.2 463.1a4.8 4.8 0 1 0 9.6 0a4.8 4.8 0 1 0 -9.6 0M626.8 467.6a4.8 4.8 0 1 0 9.6 0a4.8 4.8 0 1 0 -9.6 0M629.4 472.1a4.8 4.8 0 1 0 9.6 0a4.8 4.8 0 1 0 -9.6 0M632 476.6a4.8 4.8 0 1 0 9.6 0a4.8 4.8 0 1 0 -9.6 0M634.6 481.1a4.8 4.8 0 1 0 9.6 0a4.8 4.8 0 1 0 -9.6 0M637.2 485.7a4.8 4.8 0 1 0 9.6 0a4.8 4.8 0 1 0 -9.6 0M639.8 490.4a4.8 4.8 0 1 0 9.6 0a4.8 4.8 0 1 0 -9.6 0M642.4 495a4.8 4.8 0 1 0 9.6 0a4.8 4.8 0 1 0 -9.6 0M645 499.7a4.8 4.8 0 1 0 9.6 0a4.8 4.8 0 1 0 -9.6 0M647.6 504.5a4.8 4.8 0 1 0 9.6 0a4.8 4.8 0 1 0 -9.6 0M650.2 509.4a4.8 4.8 0 1 0 9.6 0a4.8 4.8 0 1 0 -9.6 0M652.8 514.2a4.8 4.8 0 1 0 9.6 0a4.8 4.8 0 1 0 -9.6 0M655.4 519.1a4.8 4.8 0 1 0 9.6 0a4.8 4.8 0 1 0 -9.6 0M658 524.5a4.8 4.8 0 1 0 9.6 0a4.8 4.8 0 1 0 -9.6 0M660.6 530.1a4.8 4.8 0 1 0 9.6 0a4.8 4.8 0 1 0 -9.6 0M663.2 535.7a4.8 4.8 0 1 0 9.6 0a4.8 4.8 0 1 0 -9.6 0M665.8 541.5a4.8 4.8 0 1 0 9.6 0a4.8 4.8 0 1 0 -9.6 0M668.4 549.4a4.8 4.8 0 1 0 9.6 0a4.8 4.8 0 1 0 -9.6 0M671 557.3a4.8 4.8 0 1 0 9.6 0a4.8 4.8 0 1 0 -9.6 0M673.6 565.1a4.8 4.8 0 1 0 9.6 0a4.8 4.8 0 1 0 -9.6 0M676.2 572.8a4.8 4.8 0 1 0 9.6 0a4.8 4.8 0 1 0 -9.6 0M678.8 580.5a4.8 4.8 0 1 0 9.6 0a4.8 4.8 0 1 0 -9.6 0M681.4 590.1a4.8 4.8 0 1 0 9.6 0a4.8 4.8 0 1 0 -9.6 0M684 599.8a4.8 4.8 0 1 0 9.6 0a4.8 4.8 0 1 0 -9.6 0M686.6 609.5a4.8 4.8 0 1 0 9.6 0a4.8 4.8 0 1 0 -9.6 0M689.2 619.3a4.8 4.8 0 1 0 9.6 0a4.8 4.8 0 1 0 -9.6 0M691.8 629.1a4.8 4.8 0 1 0 9.6 0a4.8 4.8 0 1 0 -9.6 0M694.4 639a4.8 4.8 0 1 0 9.6 0a4.8 4.8 0 1 0 -9.6 0M697 648.8a4.8 4.8 0 1 0 9.6 0a4.8 4.8 0 1 0 -9.6 0M699.6 658.5a4.8 4.8 0 1 0 9.6 0a4.8 4.8 0 1 0 -9.6 0M702.2 669.4a4.8 4.8 0 1 0 9.6 0a4.8 4.8 0 1 0 -9.6 0M704.8 680.8a4.8 4.8 0 1 0 9.6 0a4.8 4.8 0 1 0 -9.6 0M707.4 690.7a4.8 4.8 0 1 0 9.6 0a4.8 4.8 0 1 0 -9.6 0M710 700.5a4.8 4.8 0 1 0 9.6 0a4.8 4.8 0 1 0 -9.6 0M712.6 713.3a4.8 4.8 0 1 0 9.6 0a4.8 4.8 0 1 0 -9.6 0M715.2 726.2a4.8 4.8 0 1 0 9.6 0a4.8 4.8 0 1 0 -9.6 0M717.8 739.2a4.8 4.8 0 1 0 9.6 0a4.8 4.8 0 1 0 -9.6 0M720.4 752.2a4.8 4.8 0 1 0 9.6 0a4.8 4.8 0 1 0 -9.6 0M723 765.2a4.8 4.8 0 1 0 9.6 0a4.8 4.8 0 1 0 -9.6 0M725.6 778.2a4.8 4.8 0 1 0 9.6 0a4.8 4.8 0 1 0 -9.6 0M728.2 789.4a4.8 4.8 0 1 0 9.6 0a4.8 4.8 0 1 0 -9.6 0M730.8 799.8a4.8 4.8 0 1 0 9.6 0a4.8 4.8 0 1 0 -9.6 0M733.4 810.2a4.8 4.8 0 1 0 9.6 0a4.8 4.8 0 1 0 -9.6 0M736 820.6a4.8 4.8 0 1 0 9.6 0a4.8 4.8 0 1 0 -9.6 0M738.6 833.4a4.8 4.8 0 1 0 9.6 0a4.8 4.8 0 1 0 -9.6 0M741.2 846.8a4.8 4.8 0 1 0 9.6 0a4.8 4.8 0 1 0 -9.6 0M743.8 860.2a4.8 4.8 0 1 0 9.6 0a4.8 4.8 0 1 0 -9.6 0M746.4 872.6a4.8 4.8 0 1 0 9.6 0a4.8 4.8 0 1 0 -9.6 0M749 882.3a4.8 4.8 0 1 0 9.6 0a4.8 4.8 0 1 0 -9.6 0M751.6 892.1a4.8 4.8 0 1 0 9.6 0a4.8 4.8 0 1 0 -9.6 0M754.2 901.3a4.8 4.8 0 1 0 9.6 0a4.8 4.8 0 1 0 -9.6 0M756.8 907.8a4.8 4.8 0 1 0 9.6 0a4.8 4.8 0 1 0 -9.6 0M759.4 914.2a4.8 4.8 0 1 0 9.6 0a4.8 4.8 0 1 0 -9.6 0M762 920.7a4.8 4.8 0 1 0 9.6 0a4.8 4.8 0 1 0 -9.6 0M764.6 927.1a4.8 4.8 0 1 0 9.6 0a4.8 4.8 0 1 0 -9.6 0M767.2 933.6a4.8 4.8 0 1 0 9.6 0a4.8 4.8 0 1 0 -9.6 0M769.8 940.1a4.8 4.8 0 1 0 9.6 0a4.8 4.8 0 1 0 -9.6 0M772.4 946.7a4.8 4.8 0 1 0 9.6 0a4.8 4.8 0 1 0 -9.6 0M775 953.2a4.8 4.8 0 1 0 9.6 0a4.8 4.8 0 1 0 -9.6 0M777.6 959.7a4.8 4.8 0 1 0 9.6 0a4.8 4.8 0 1 0 -9.6 0M780.2 966.3a4.8 4.8 0 1 0 9.6 0a4.8 4.8 0 1 0 -9.6 0M782.8 972.8a4.8 4.8 0 1 0 9.6 0a4.8 4.8 0 1 0 -9.6 0M785.4 979.3a4.8 4.8 0 1 0 9.6 0a4.8 4.8 0 1 0 -9.6 0M788 985.8a4.8 4.8 0 1 0 9.6 0a4.8 4.8 0 1 0 -9.6 0M790.6 992.8a4.8 4.8 0 1 0 9.6 0a4.8 4.8 0 1 0 -9.6 0M793.2 1002.5a4.8 4.8 0 1 0 9.6 0a4.8 4.8 0 1 0 -9.6 0M795.8 1012.2a4.8 4.8 0 1 0 9.6 0a4.8 4.8 0 1 0 -9.6 0M798.4 1021.9a4.8 4.8 0 1 0 9.6 0a4.8 4.8 0 1 0 -9.6 0M801 1029.7a4.8 4.8 0 1 0 9.6 0a4.8 4.8 0 1 0 -9.6 0M803.6 1037.5a4.8 4.8 0 1 0 9.6 0a4.8 4.8 0 1 0 -9.6 0M806.2 1045.3a4.8 4.8 0 1 0 9.6 0a4.8 4.8 0 1 0 -9.6 0M808.8 1052.9a4.8 4.8 0 1 0 9.6 0a4.8 4.8 0 1 0 -9.6 0M811.4 1059.7a4.8 4.8 0 1 0 9.6 0a4.8 4.8 0 1 0 -9.6 0M814 1066.5a4.8 4.8 0 1 0 9.6 0a4.8 4.8 0 1 0 -9.6 0M816.6 1073.3a4.8 4.8 0 1 0 9.6 0a4.8 4.8 0 1 0 -9.6 0M819.2 1079.7a4.8 4.8 0 1 0 9.6 0a4.8 4.8 0 1 0 -9.6 0M821.8 1085.5a4.8 4.8 0 1 0 9.6 0a4.8 4.8 0 1 0 -9.6 0M824.4 1091.2a4.8 4.8 0 1 0 9.6 0a4.8 4.8 0 1 0 -9.6 0M827 1097a4.8 4.8 0 1 0 9.6 0a4.8 4.8 0 1 0 -9.6 0M829.6 1101.3a4.8 4.8 0 1 0 9.6 0a4.8 4.8 0 1 0 -9.6 0M832.2 1103.3a4.8 4.8 0 1 0 9.6 0a4.8 4.8 0 1 0 -9.6 0M834.8 1105.3a4.8 4.8 0 1 0 9.6 0a4.8 4.8 0 1 0 -9.6 0M837.4 1107.3a4.8 4.8 0 1 0 9.6 0a4.8 4.8 0 1 0 -9.6 0M840 1109.3a4.8 4.8 0 1 0 9.6 0a4.8 4.8 0 1 0 -9.6 0M842.6 1111.3a4.8 4.8 0 1 0 9.6 0a4.8 4.8 0 1 0 -9.6 0M845.2 1113.4a4.8 4.8 0 1 0 9.6 0a4.8 4.8 0 1 0 -9.6 0M847.8 1115a4.8 4.8 0 1 0 9.6 0a4.8 4.8 0 1 0 -9.6 0M850.4 1116a4.8 4.8 0 1 0 9.6 0a4.8 4.8 0 1 0 -9.6 0M853 1117a4.8 4.8 0 1 0 9.6 0a4.8 4.8 0 1 0 -9.6 0M855.6 1118a4.8 4.8 0 1 0 9.6 0a4.8 4.8 0 1 0 -9.6 0M858.2 1119a4.8 4.8 0 1 0 9.6 0a4.8 4.8 0 1 0 -9.6 0M860.8 1120a4.8 4.8 0 1 0 9.6 0a4.8 4.8 0 1 0 -9.6 0M863.4 1121a4.8 4.8 0 1 0 9.6 0a4.8 4.8 0 1 0 -9.6 0M866 1122a4.8 4.8 0 1 0 9.6 0a4.8 4.8 0 1 0 -9.6 0M868.6 1123a4.8 4.8 0 1 0 9.6 0a4.8 4.8 0 1 0 -9.6 0M871.2 1124a4.8 4.8 0 1 0 9.6 0a4.8 4.8 0 1 0 -9.6 0M873.8 1124.9a4.8 4.8 0 1 0 9.6 0a4.8 4.8 0 1 0 -9.6 0M876.4 1125.8a4.8 4.8 0 1 0 9.6 0a4.8 4.8 0 1 0 -9.6 0M879 1126.7a4.8 4.8 0 1 0 9.6 0a4.8 4.8 0 1 0 -9.6 0M881.6 1127.5a4.8 4.8 0 1 0 9.6 0a4.8 4.8 0 1 0 -9.6 0M884.2 1128.4a4.8 4.8 0 1 0 9.6 0a4.8 4.8 0 1 0 -9.6 0M886.8 1129.3a4.8 4.8 0 1 0 9.6 0a4.8 4.8 0 1 0 -9.6 0M889.4 1130.1a4.8 4.8 0 1 0 9.6 0a4.8 4.8 0 1 0 -9.6 0M892 1131a4.8 4.8 0 1 0 9.6 0a4.8 4.8 0 1 0 -9.6 0M894.6 1131.9a4.8 4.8 0 1 0 9.6 0a4.8 4.8 0 1 0 -9.6 0M897.2 1132.7a4.8 4.8 0 1 0 9.6 0a4.8 4.8 0 1 0 -9.6 0M899.8 1133.6a4.8 4.8 0 1 0 9.6 0a4.8 4.8 0 1 0 -9.6 0M902.4 1134.5a4.8 4.8 0 1 0 9.6 0a4.8 4.8 0 1 0 -9.6 0M905 1135.3a4.8 4.8 0 1 0 9.6 0a4.8 4.8 0 1 0 -9.6 0M907.6 1136.2a4.8 4.8 0 1 0 9.6 0a4.8 4.8 0 1 0 -9.6 0M910.2 1137.1a4.8 4.8 0 1 0 9.6 0a4.8 4.8 0 1 0 -9.6 0M912.8 1137.9a4.8 4.8 0 1 0 9.6 0a4.8 4.8 0 1 0 -9.6 0M915.4 1138.8a4.8 4.8 0 1 0 9.6 0a4.8 4.8 0 1 0 -9.6 0M918 1139.7a4.8 4.8 0 1 0 9.6 0a4.8 4.8 0 1 0 -9.6 0M920.6 1140.5a4.8 4.8 0 1 0 9.6 0a4.8 4.8 0 1 0 -9.6 0M923.2 1141.4a4.8 4.8 0 1 0 9.6 0a4.8 4.8 0 1 0 -9.6 0M925.8 1142.3a4.8 4.8 0 1 0 9.6 0a4.8 4.8 0 1 0 -9.6 0M928.4 1143.1a4.8 4.8 0 1 0 9.6 0a4.8 4.8 0 1 0 -9.6 0M931 1143.9a4.8 4.8 0 1 0 9.6 0a4.8 4.8 0 1 0 -9.6 0M933.6 1144.7a4.8 4.8 0 1 0 9.6 0a4.8 4.8 0 1 0 -9.6 0M936.2 1145.5a4.8 4.8 0 1 0 9.6 0a4.8 4.8 0 1 0 -9.6 0M938.8 1146.2a4.8 4.8 0 1 0 9.6 0a4.8 4.8 0 1 0 -9.6 0M941.4 1147a4.8 4.8 0 1 0 9.6 0a4.8 4.8 0 1 0 -9.6 0M944 1147.8a4.8 4.8 0 1 0 9.6 0a4.8 4.8 0 1 0 -9.6 0M946.6 1148.6a4.8 4.8 0 1 0 9.6 0a4.8 4.8 0 1 0 -9.6 0M949.2 1149.4a4.8 4.8 0 1 0 9.6 0a4.8 4.8 0 1 0 -9.6 0M951.8 1150.1a4.8 4.8 0 1 0 9.6 0a4.8 4.8 0 1 0 -9.6 0M954.4 1150.9a4.8 4.8 0 1 0 9.6 0a4.8 4.8 0 1 0 -9.6 0M957 1151.7a4.8 4.8 0 1 0 9.6 0a4.8 4.8 0 1 0 -9.6 0M959.6 1152.2a4.8 4.8 0 1 0 9.6 0a4.8 4.8 0 1 0 -9.6 0M962.2 1152.4a4.8 4.8 0 1 0 9.6 0a4.8 4.8 0 1 0 -9.6 0M964.8 1152.6a4.8 4.8 0 1 0 9.6 0a4.8 4.8 0 1 0 -9.6 0M967.4 1152.9a4.8 4.8 0 1 0 9.6 0a4.8 4.8 0 1 0 -9.6 0M970 1153.1a4.8 4.8 0 1 0 9.6 0a4.8 4.8 0 1 0 -9.6 0M972.6 1153.4a4.8 4.8 0 1 0 9.6 0a4.8 4.8 0 1 0 -9.6 0M975.2 1153.6a4.8 4.8 0 1 0 9.6 0a4.8 4.8 0 1 0 -9.6 0M977.8 1153.9a4.8 4.8 0 1 0 9.6 0a4.8 4.8 0 1 0 -9.6 0M980.4 1154.1a4.8 4.8 0 1 0 9.6 0a4.8 4.8 0 1 0 -9.6 0M983 1154.4a4.8 4.8 0 1 0 9.6 0a4.8 4.8 0 1 0 -9.6 0M985.6 1154.6a4.8 4.8 0 1 0 9.6 0a4.8 4.8 0 1 0 -9.6 0M988.2 1154.8a4.8 4.8 0 1 0 9.6 0a4.8 4.8 0 1 0 -9.6 0M990.8 1155.1a4.8 4.8 0 1 0 9.6 0a4.8 4.8 0 1 0 -9.6 0M993.4 1155.3a4.8 4.8 0 1 0 9.6 0a4.8 4.8 0 1 0 -9.6 0M996 1155.6a4.8 4.8 0 1 0 9.6 0a4.8 4.8 0 1 0 -9.6 0M998.6 1156.1a4.8 4.8 0 1 0 9.6 0a4.8 4.8 0 1 0 -9.6 0M1001.2 1156.6a4.8 4.8 0 1 0 9.6 0a4.8 4.8 0 1 0 -9.6 0M1003.8 1157.1a4.8 4.8 0 1 0 9.6 0a4.8 4.8 0 1 0 -9.6 0M1006.4 1157.6a4.8 4.8 0 1 0 9.6 0a4.8 4.8 0 1 0 -9.6 0M1009 1158a4.8 4.8 0 1 0 9.6 0a4.8 4.8 0 1 0 -9.6 0M1011.6 1158.5a4.8 4.8 0 1 0 9.6 0a4.8 4.8 0 1 0 -9.6 0M1014.2 1159a4.8 4.8 0 1 0 9.6 0a4.8 4.8 0 1 0 -9.6 0M1016.8 1159.5a4.8 4.8 0 1 0 9.6 0a4.8 4.8 0 1 0 -9.6 0M1019.4 1159.9a4.8 4.8 0 1 0 9.6 0a4.8 4.8 0 1 0 -9.6 0M1022 1160.4a4.8 4.8 0 1 0 9.6 0a4.8 4.8 0 1 0 -9.6 0M1024.6 1160.9a4.8 4.8 0 1 0 9.6 0a4.8 4.8 0 1 0 -9.6 0M1027.2 1161.2a4.8 4.8 0 1 0 9.6 0a4.8 4.8 0 1 0 -9.6 0M1029.8 1161.5a4.8 4.8 0 1 0 9.6 0a4.8 4.8 0 1 0 -9.6 0M1032.4 1161.8a4.8 4.8 0 1 0 9.6 0a4.8 4.8 0 1 0 -9.6 0M1035 1162.1a4.8 4.8 0 1 0 9.6 0a4.8 4.8 0 1 0 -9.6 0M1037.6 1162.4a4.8 4.8 0 1 0 9.6 0a4.8 4.8 0 1 0 -9.6 0M1040.2 1162.8a4.8 4.8 0 1 0 9.6 0a4.8 4.8 0 1 0 -9.6 0M1042.8 1163.1a4.8 4.8 0 1 0 9.6 0a4.8 4.8 0 1 0 -9.6 0M1045.4 1163.4a4.8 4.8 0 1 0 9.6 0a4.8 4.8 0 1 0 -9.6 0M1048 1163.7a4.8 4.8 0 1 0 9.6 0a4.8 4.8 0 1 0 -9.6 0M1050.6 1164a4.8 4.8 0 1 0 9.6 0a4.8 4.8 0 1 0 -9.6 0M1053.2 1164.3a4.8 4.8 0 1 0 9.6 0a4.8 4.8 0 1 0 -9.6 0M1055.8 1164.5a4.8 4.8 0 1 0 9.6 0a4.8 4.8 0 1 0 -9.6 0M1058.4 1164.7a4.8 4.8 0 1 0 9.6 0a4.8 4.8 0 1 0 -9.6 0M1061 1164.9a4.8 4.8 0 1 0 9.6 0a4.8 4.8 0 1 0 -9.6 0M1063.6 1165.1a4.8 4.8 0 1 0 9.6 0a4.8 4.8 0 1 0 -9.6 0M1066.2 1165.3a4.8 4.8 0 1 0 9.6 0a4.8 4.8 0 1 0 -9.6 0M1068.8 1165.5a4.8 4.8 0 1 0 9.6 0a4.8 4.8 0 1 0 -9.6 0M1071.4 1165.7a4.8 4.8 0 1 0 9.6 0a4.8 4.8 0 1 0 -9.6 0M1074 1165.9a4.8 4.8 0 1 0 9.6 0a4.8 4.8 0 1 0 -9.6 0M1076.6 1166.1a4.8 4.8 0 1 0 9.6 0a4.8 4.8 0 1 0 -9.6 0M1079.2 1166.3a4.8 4.8 0 1 0 9.6 0a4.8 4.8 0 1 0 -9.6 0M1081.8 1166.5a4.8 4.8 0 1 0 9.6 0a4.8 4.8 0 1 0 -9.6 0M1084.4 1166.7a4.8 4.8 0 1 0 9.6 0a4.8 4.8 0 1 0 -9.6 0M1087 1166.9a4.8 4.8 0 1 0 9.6 0a4.8 4.8 0 1 0 -9.6 0M1089.6 1167.1a4.8 4.8 0 1 0 9.6 0a4.8 4.8 0 1 0 -9.6 0M1092.2 1167.2a4.8 4.8 0 1 0 9.6 0a4.8 4.8 0 1 0 -9.6 0M1094.8 1167.4a4.8 4.8 0 1 0 9.6 0a4.8 4.8 0 1 0 -9.6 0M1097.4 1167.6a4.8 4.8 0 1 0 9.6 0a4.8 4.8 0 1 0 -9.6 0M1100 1167.7a4.8 4.8 0 1 0 9.6 0a4.8 4.8 0 1 0 -9.6 0M1102.6 1167.9a4.8 4.8 0 1 0 9.6 0a4.8 4.8 0 1 0 -9.6 0M1105.2 1168.1a4.8 4.8 0 1 0 9.6 0a4.8 4.8 0 1 0 -9.6 0M1107.8 1168.2a4.8 4.8 0 1 0 9.6 0a4.8 4.8 0 1 0 -9.6 0M1110.4 1168.4a4.8 4.8 0 1 0 9.6 0a4.8 4.8 0 1 0 -9.6 0M1113 1168.5a4.8 4.8 0 1 0 9.6 0a4.8 4.8 0 1 0 -9.6 0M1115.6 1168.7a4.8 4.8 0 1 0 9.6 0a4.8 4.8 0 1 0 -9.6 0M1118.2 1168.9a4.8 4.8 0 1 0 9.6 0a4.8 4.8 0 1 0 -9.6 0M1120.8 1169a4.8 4.8 0 1 0 9.6 0a4.8 4.8 0 1 0 -9.6 0M1123.4 1169.2a4.8 4.8 0 1 0 9.6 0a4.8 4.8 0 1 0 -9.6 0M1126 1169.3a4.8 4.8 0 1 0 9.6 0a4.8 4.8 0 1 0 -9.6 0M1128.6 1169.5a4.8 4.8 0 1 0 9.6 0a4.8 4.8 0 1 0 -9.6 0M1131.2 1169.6a4.8 4.8 0 1 0 9.6 0a4.8 4.8 0 1 0 -9.6 0M1133.8 1169.7a4.8 4.8 0 1 0 9.6 0a4.8 4.8 0 1 0 -9.6 0M1136.4 1169.8a4.8 4.8 0 1 0 9.6 0a4.8 4.8 0 1 0 -9.6 0M1139 1170a4.8 4.8 0 1 0 9.6 0a4.8 4.8 0 1 0 -9.6 0M1141.6 1170.1a4.8 4.8 0 1 0 9.6 0a4.8 4.8 0 1 0 -9.6 0M1144.2 1170.2a4.8 4.8 0 1 0 9.6 0a4.8 4.8 0 1 0 -9.6 0M1146.8 1170.3a4.8 4.8 0 1 0 9.6 0a4.8 4.8 0 1 0 -9.6 0M1149.4 1170.5a4.8 4.8 0 1 0 9.6 0a4.8 4.8 0 1 0 -9.6 0M1152 1170.6a4.8 4.8 0 1 0 9.6 0a4.8 4.8 0 1 0 -9.6 0M1154.6 1170.7a4.8 4.8 0 1 0 9.6 0a4.8 4.8 0 1 0 -9.6 0M1157.2 1170.8a4.8 4.8 0 1 0 9.6 0a4.8 4.8 0 1 0 -9.6 0M1159.8 1171a4.8 4.8 0 1 0 9.6 0a4.8 4.8 0 1 0 -9.6 0M1162.4 1171.1a4.8 4.8 0 1 0 9.6 0a4.8 4.8 0 1 0 -9.6 0M1165 1171.2a4.8 4.8 0 1 0 9.6 0a4.8 4.8 0 1 0 -9.6 0M1167.6 1171.3a4.8 4.8 0 1 0 9.6 0a4.8 4.8 0 1 0 -9.6 0M1170.2 1171.5a4.8 4.8 0 1 0 9.6 0a4.8 4.8 0 1 0 -9.6 0M1172.8 1171.6a4.8 4.8 0 1 0 9.6 0a4.8 4.8 0 1 0 -9.6 0M1175.4 1171.7a4.8 4.8 0 1 0 9.6 0a4.8 4.8 0 1 0 -9.6 0M1178 1171.8a4.8 4.8 0 1 0 9.6 0a4.8 4.8 0 1 0 -9.6 0M1180.6 1172a4.8 4.8 0 1 0 9.6 0a4.8 4.8 0 1 0 -9.6 0M1183.2 1172.1a4.8 4.8 0 1 0 9.6 0a4.8 4.8 0 1 0 -9.6 0M1185.8 1172.2a4.8 4.8 0 1 0 9.6 0a4.8 4.8 0 1 0 -9.6 0M1188.4 1172.3a4.8 4.8 0 1 0 9.6 0a4.8 4.8 0 1 0 -9.6 0M1191 1172.4a4.8 4.8 0 1 0 9.6 0a4.8 4.8 0 1 0 -9.6 0M1193.6 1172.5a4.8 4.8 0 1 0 9.6 0a4.8 4.8 0 1 0 -9.6 0M1196.2 1172.6a4.8 4.8 0 1 0 9.6 0a4.8 4.8 0 1 0 -9.6 0M1198.8 1172.7a4.8 4.8 0 1 0 9.6 0a4.8 4.8 0 1 0 -9.6 0M1201.4 1172.8a4.8 4.8 0 1 0 9.6 0a4.8 4.8 0 1 0 -9.6 0M1204 1172.9a4.8 4.8 0 1 0 9.6 0a4.8 4.8 0 1 0 -9.6 0M1206.6 1173a4.8 4.8 0 1 0 9.6 0a4.8 4.8 0 1 0 -9.6 0M1209.2 1173.1a4.8 4.8 0 1 0 9.6 0a4.8 4.8 0 1 0 -9.6 0M1211.8 1173.2a4.8 4.8 0 1 0 9.6 0a4.8 4.8 0 1 0 -9.6 0M1214.4 1173.3a4.8 4.8 0 1 0 9.6 0a4.8 4.8 0 1 0 -9.6 0M1217 1173.4a4.8 4.8 0 1 0 9.6 0a4.8 4.8 0 1 0 -9.6 0M1219.6 1173.5a4.8 4.8 0 1 0 9.6 0a4.8 4.8 0 1 0 -9.6 0M1222.2 1173.6a4.8 4.8 0 1 0 9.6 0a4.8 4.8 0 1 0 -9.6 0M1224.8 1173.7a4.8 4.8 0 1 0 9.6 0a4.8 4.8 0 1 0 -9.6 0M1227.4 1173.8a4.8 4.8 0 1 0 9.6 0a4.8 4.8 0 1 0 -9.6 0M1230 1173.9a4.8 4.8 0 1 0 9.6 0a4.8 4.8 0 1 0 -9.6 0M1232.6 1174a4.8 4.8 0 1 0 9.6 0a4.8 4.8 0 1 0 -9.6 0M1235.2 1174.1a4.8 4.8 0 1 0 9.6 0a4.8 4.8 0 1 0 -9.6 0M1237.8 1174.2a4.8 4.8 0 1 0 9.6 0a4.8 4.8 0 1 0 -9.6 0M1240.4 1174.3a4.8 4.8 0 1 0 9.6 0a4.8 4.8 0 1 0 -9.6 0M1243 1174.4a4.8 4.8 0 1 0 9.6 0a4.8 4.8 0 1 0 -9.6 0M1245.6 1174.5a4.8 4.8 0 1 0 9.6 0a4.8 4.8 0 1 0 -9.6 0M1248.2 1174.6a4.8 4.8 0 1 0 9.6 0a4.8 4.8 0 1 0 -9.6 0M1250.8 1174.7a4.8 4.8 0 1 0 9.6 0a4.8 4.8 0 1 0 -9.6 0M1253.4 1174.8a4.8 4.8 0 1 0 9.6 0a4.8 4.8 0 1 0 -9.6 0M1256 1175a4.8 4.8 0 1 0 9.6 0a4.8 4.8 0 1 0 -9.6 0M1258.6 1175.1a4.8 4.8 0 1 0 9.6 0a4.8 4.8 0 1 0 -9.6 0M1261.2 1175.2a4.8 4.8 0 1 0 9.6 0a4.8 4.8 0 1 0 -9.6 0M1263.8 1175.3a4.8 4.8 0 1 0 9.6 0a4.8 4.8 0 1 0 -9.6 0M1266.4 1175.4a4.8 4.8 0 1 0 9.6 0a4.8 4.8 0 1 0 -9.6 0M1269 1175.5a4.8 4.8 0 1 0 9.6 0a4.8 4.8 0 1 0 -9.6 0M1271.6 1175.6a4.8 4.8 0 1 0 9.6 0a4.8 4.8 0 1 0 -9.6 0M1274.2 1175.7a4.8 4.8 0 1 0 9.6 0a4.8 4.8 0 1 0 -9.6 0M1276.8 1175.8a4.8 4.8 0 1 0 9.6 0a4.8 4.8 0 1 0 -9.6 0M1279.4 1175.9a4.8 4.8 0 1 0 9.6 0a4.8 4.8 0 1 0 -9.6 0M1282 1176a4.8 4.8 0 1 0 9.6 0a4.8 4.8 0 1 0 -9.6 0M1284.6 1176.1a4.8 4.8 0 1 0 9.6 0a4.8 4.8 0 1 0 -9.6 0M1287.2 1176.2a4.8 4.8 0 1 0 9.6 0a4.8 4.8 0 1 0 -9.6 0M1289.8 1176.3a4.8 4.8 0 1 0 9.6 0a4.8 4.8 0 1 0 -9.6 0M1292.4 1176.4a4.8 4.8 0 1 0 9.6 0a4.8 4.8 0 1 0 -9.6 0M1295 1176.5a4.8 4.8 0 1 0 9.6 0a4.8 4.8 0 1 0 -9.6 0M1297.6 1176.6a4.8 4.8 0 1 0 9.6 0a4.8 4.8 0 1 0 -9.6 0M1300.2 1176.6a4.8 4.8 0 1 0 9.6 0a4.8 4.8 0 1 0 -9.6 0M1302.8 1176.7a4.8 4.8 0 1 0 9.6 0a4.8 4.8 0 1 0 -9.6 0M1305.4 1176.8a4.8 4.8 0 1 0 9.6 0a4.8 4.8 0 1 0 -9.6 0M1308 1176.9a4.8 4.8 0 1 0 9.6 0a4.8 4.8 0 1 0 -9.6 0M1310.6 1176.9a4.8 4.8 0 1 0 9.6 0a4.8 4.8 0 1 0 -9.6 0M1313.2 1177a4.8 4.8 0 1 0 9.6 0a4.8 4.8 0 1 0 -9.6 0M1315.8 1177.1a4.8 4.8 0 1 0 9.6 0a4.8 4.8 0 1 0 -9.6 0M1318.4 1177.2a4.8 4.8 0 1 0 9.6 0a4.8 4.8 0 1 0 -9.6 0M1321 1177.2a4.8 4.8 0 1 0 9.6 0a4.8 4.8 0 1 0 -9.6 0M1323.6 1177.3a4.8 4.8 0 1 0 9.6 0a4.8 4.8 0 1 0 -9.6 0M1326.2 1177.4a4.8 4.8 0 1 0 9.6 0a4.8 4.8 0 1 0 -9.6 0M1328.8 1177.4a4.8 4.8 0 1 0 9.6 0a4.8 4.8 0 1 0 -9.6 0M1331.4 1177.5a4.8 4.8 0 1 0 9.6 0a4.8 4.8 0 1 0 -9.6 0M1334 1177.6a4.8 4.8 0 1 0 9.6 0a4.8 4.8 0 1 0 -9.6 0M1336.6 1177.7a4.8 4.8 0 1 0 9.6 0a4.8 4.8 0 1 0 -9.6 0M1339.2 1177.7a4.8 4.8 0 1 0 9.6 0a4.8 4.8 0 1 0 -9.6 0M1341.8 1177.8a4.8 4.8 0 1 0 9.6 0a4.8 4.8 0 1 0 -9.6 0M1344.4 1177.9a4.8 4.8 0 1 0 9.6 0a4.8 4.8 0 1 0 -9.6 0M1347 1178a4.8 4.8 0 1 0 9.6 0a4.8 4.8 0 1 0 -9.6 0M1349.6 1178a4.8 4.8 0 1 0 9.6 0a4.8 4.8 0 1 0 -9.6 0M1352.2 1178.1a4.8 4.8 0 1 0 9.6 0a4.8 4.8 0 1 0 -9.6 0M1354.8 1178.2a4.8 4.8 0 1 0 9.6 0a4.8 4.8 0 1 0 -9.6 0M1357.4 1178.3a4.8 4.8 0 1 0 9.6 0a4.8 4.8 0 1 0 -9.6 0M1360 1178.3a4.8 4.8 0 1 0 9.6 0a4.8 4.8 0 1 0 -9.6 0M1362.6 1178.4a4.8 4.8 0 1 0 9.6 0a4.8 4.8 0 1 0 -9.6 0M1365.2 1178.5a4.8 4.8 0 1 0 9.6 0a4.8 4.8 0 1 0 -9.6 0M1367.8 1178.5a4.8 4.8 0 1 0 9.6 0a4.8 4.8 0 1 0 -9.6 0M1370.4 1178.6a4.8 4.8 0 1 0 9.6 0a4.8 4.8 0 1 0 -9.6 0M1373 1178.7a4.8 4.8 0 1 0 9.6 0a4.8 4.8 0 1 0 -9.6 0M1375.6 1178.8a4.8 4.8 0 1 0 9.6 0a4.8 4.8 0 1 0 -9.6 0M1378.2 1178.8a4.8 4.8 0 1 0 9.6 0a4.8 4.8 0 1 0 -9.6 0M1380.8 1178.9a4.8 4.8 0 1 0 9.6 0a4.8 4.8 0 1 0 -9.6 0M1383.4 1179a4.8 4.8 0 1 0 9.6 0a4.8 4.8 0 1 0 -9.6 0M1386 1179.1a4.8 4.8 0 1 0 9.6 0a4.8 4.8 0 1 0 -9.6 0M1388.6 1179.1a4.8 4.8 0 1 0 9.6 0a4.8 4.8 0 1 0 -9.6 0M1391.2 1179.2a4.8 4.8 0 1 0 9.6 0a4.8 4.8 0 1 0 -9.6 0M1393.8 1179.3a4.8 4.8 0 1 0 9.6 0a4.8 4.8 0 1 0 -9.6 0M1396.4 1179.4a4.8 4.8 0 1 0 9.6 0a4.8 4.8 0 1 0 -9.6 0M1399 1179.4a4.8 4.8 0 1 0 9.6 0a4.8 4.8 0 1 0 -9.6 0M1401.6 1179.5a4.8 4.8 0 1 0 9.6 0a4.8 4.8 0 1 0 -9.6 0M1404.2 1179.6a4.8 4.8 0 1 0 9.6 0a4.8 4.8 0 1 0 -9.6 0M1406.8 1179.6a4.8 4.8 0 1 0 9.6 0a4.8 4.8 0 1 0 -9.6 0M1409.4 1179.7a4.8 4.8 0 1 0 9.6 0a4.8 4.8 0 1 0 -9.6 0M1412 1179.7a4.8 4.8 0 1 0 9.6 0a4.8 4.8 0 1 0 -9.6 0M1414.6 1179.8a4.8 4.8 0 1 0 9.6 0a4.8 4.8 0 1 0 -9.6 0M1417.2 1179.8a4.8 4.8 0 1 0 9.6 0a4.8 4.8 0 1 0 -9.6 0M1419.8 1179.8a4.8 4.8 0 1 0 9.6 0a4.8 4.8 0 1 0 -9.6 0M1422.4 1179.9a4.8 4.8 0 1 0 9.6 0a4.8 4.8 0 1 0 -9.6 0M1425 1179.9a4.8 4.8 0 1 0 9.6 0a4.8 4.8 0 1 0 -9.6 0M1427.6 1180a4.8 4.8 0 1 0 9.6 0a4.8 4.8 0 1 0 -9.6 0M1430.2 1180a4.8 4.8 0 1 0 9.6 0a4.8 4.8 0 1 0 -9.6 0M1432.8 1180.1a4.8 4.8 0 1 0 9.6 0a4.8 4.8 0 1 0 -9.6 0M1435.4 1180.1a4.8 4.8 0 1 0 9.6 0a4.8 4.8 0 1 0 -9.6 0M1438 1180.2a4.8 4.8 0 1 0 9.6 0a4.8 4.8 0 1 0 -9.6 0M1440.6 1180.2a4.8 4.8 0 1 0 9.6 0a4.8 4.8 0 1 0 -9.6 0M1443.2 1180.2a4.8 4.8 0 1 0 9.6 0a4.8 4.8 0 1 0 -9.6 0M1445.8 1180.3a4.8 4.8 0 1 0 9.6 0a4.8 4.8 0 1 0 -9.6 0M1448.4 1180.3a4.8 4.8 0 1 0 9.6 0a4.8 4.8 0 1 0 -9.6 0M1451 1180.4a4.8 4.8 0 1 0 9.6 0a4.8 4.8 0 1 0 -9.6 0M1453.6 1180.4a4.8 4.8 0 1 0 9.6 0a4.8 4.8 0 1 0 -9.6 0M1456.2 1180.5a4.8 4.8 0 1 0 9.6 0a4.8 4.8 0 1 0 -9.6 0M1458.8 1180.5a4.8 4.8 0 1 0 9.6 0a4.8 4.8 0 1 0 -9.6 0M1461.4 1180.6a4.8 4.8 0 1 0 9.6 0a4.8 4.8 0 1 0 -9.6 0M1464 1180.6a4.8 4.8 0 1 0 9.6 0a4.8 4.8 0 1 0 -9.6 0M1466.6 1180.6a4.8 4.8 0 1 0 9.6 0a4.8 4.8 0 1 0 -9.6 0M1469.2 1180.7a4.8 4.8 0 1 0 9.6 0a4.8 4.8 0 1 0 -9.6 0M1471.8 1180.7a4.8 4.8 0 1 0 9.6 0a4.8 4.8 0 1 0 -9.6 0M1474.4 1180.8a4.8 4.8 0 1 0 9.6 0a4.8 4.8 0 1 0 -9.6 0M1477 1180.8a4.8 4.8 0 1 0 9.6 0a4.8 4.8 0 1 0 -9.6 0M1479.6 1180.9a4.8 4.8 0 1 0 9.6 0a4.8 4.8 0 1 0 -9.6 0M1482.2 1180.9a4.8 4.8 0 1 0 9.6 0a4.8 4.8 0 1 0 -9.6 0M1484.8 1180.9a4.8 4.8 0 1 0 9.6 0a4.8 4.8 0 1 0 -9.6 0M1487.4 1181a4.8 4.8 0 1 0 9.6 0a4.8 4.8 0 1 0 -9.6 0M1490 1181a4.8 4.8 0 1 0 9.6 0a4.8 4.8 0 1 0 -9.6 0M1492.6 1181.1a4.8 4.8 0 1 0 9.6 0a4.8 4.8 0 1 0 -9.6 0M1495.2 1181.1a4.8 4.8 0 1 0 9.6 0a4.8 4.8 0 1 0 -9.6 0M1497.8 1181.2a4.8 4.8 0 1 0 9.6 0a4.8 4.8 0 1 0 -9.6 0M1500.4 1181.2a4.8 4.8 0 1 0 9.6 0a4.8 4.8 0 1 0 -9.6 0M1503 1181.3a4.8 4.8 0 1 0 9.6 0a4.8 4.8 0 1 0 -9.6 0M1505.6 1181.3a4.8 4.8 0 1 0 9.6 0a4.8 4.8 0 1 0 -9.6 0M1508.2 1181.3a4.8 4.8 0 1 0 9.6 0a4.8 4.8 0 1 0 -9.6 0M1510.8 1181.4a4.8 4.8 0 1 0 9.6 0a4.8 4.8 0 1 0 -9.6 0M1513.4 1181.4a4.8 4.8 0 1 0 9.6 0a4.8 4.8 0 1 0 -9.6 0M1516 1181.5a4.8 4.8 0 1 0 9.6 0a4.8 4.8 0 1 0 -9.6 0M1518.6 1181.5a4.8 4.8 0 1 0 9.6 0a4.8 4.8 0 1 0 -9.6 0M1521.2 1181.6a4.8 4.8 0 1 0 9.6 0a4.8 4.8 0 1 0 -9.6 0M1523.8 1181.6a4.8 4.8 0 1 0 9.6 0a4.8 4.8 0 1 0 -9.6 0M1526.4 1181.7a4.8 4.8 0 1 0 9.6 0a4.8 4.8 0 1 0 -9.6 0M1529 1181.7a4.8 4.8 0 1 0 9.6 0a4.8 4.8 0 1 0 -9.6 0M1531.6 1181.7a4.8 4.8 0 1 0 9.6 0a4.8 4.8 0 1 0 -9.6 0M1534.2 1181.8a4.8 4.8 0 1 0 9.6 0a4.8 4.8 0 1 0 -9.6 0M1536.8 1181.8a4.8 4.8 0 1 0 9.6 0a4.8 4.8 0 1 0 -9.6 0M1539.4 1181.8a4.8 4.8 0 1 0 9.6 0a4.8 4.8 0 1 0 -9.6 0M1542 1181.7a4.8 4.8 0 1 0 9.6 0a4.8 4.8 0 1 0 -9.6 0M1544.6 1181.7a4.8 4.8 0 1 0 9.6 0a4.8 4.8 0 1 0 -9.6 0M1547.2 1181.7a4.8 4.8 0 1 0 9.6 0a4.8 4.8 0 1 0 -9.6 0M1549.8 1181.7a4.8 4.8 0 1 0 9.6 0a4.8 4.8 0 1 0 -9.6 0M1552.4 1181.6a4.8 4.8 0 1 0 9.6 0a4.8 4.8 0 1 0 -9.6 0M1555 1181.6a4.8 4.8 0 1 0 9.6 0a4.8 4.8 0 1 0 -9.6 0M1557.6 1181.6a4.8 4.8 0 1 0 9.6 0a4.8 4.8 0 1 0 -9.6 0M1560.2 1181.6a4.8 4.8 0 1 0 9.6 0a4.8 4.8 0 1 0 -9.6 0M1562.8 1181.5a4.8 4.8 0 1 0 9.6 0a4.8 4.8 0 1 0 -9.6 0M1565.4 1181.5a4.8 4.8 0 1 0 9.6 0a4.8 4.8 0 1 0 -9.6 0M1568 1181.5a4.8 4.8 0 1 0 9.6 0a4.8 4.8 0 1 0 -9.6 0M1570.6 1181.6a4.8 4.8 0 1 0 9.6 0a4.8 4.8 0 1 0 -9.6 0M1573.2 1181.6a4.8 4.8 0 1 0 9.6 0a4.8 4.8 0 1 0 -9.6 0M1575.8 1181.6a4.8 4.8 0 1 0 9.6 0a4.8 4.8 0 1 0 -9.6 0M1578.4 1181.7a4.8 4.8 0 1 0 9.6 0a4.8 4.8 0 1 0 -9.6 0M1581 1181.7a4.8 4.8 0 1 0 9.6 0a4.8 4.8 0 1 0 -9.6 0M1583.6 1181.7a4.8 4.8 0 1 0 9.6 0a4.8 4.8 0 1 0 -9.6 0M1586.2 1181.8a4.8 4.8 0 1 0 9.6 0a4.8 4.8 0 1 0 -9.6 0M1588.8 1181.8a4.8 4.8 0 1 0 9.6 0a4.8 4.8 0 1 0 -9.6 0M1591.4 1181.8a4.8 4.8 0 1 0 9.6 0a4.8 4.8 0 1 0 -9.6 0M1594 1181.9a4.8 4.8 0 1 0 9.6 0a4.8 4.8 0 1 0 -9.6 0M1596.6 1181.9a4.8 4.8 0 1 0 9.6 0a4.8 4.8 0 1 0 -9.6 0M1599.2 1181.9a4.8 4.8 0 1 0 9.6 0a4.8 4.8 0 1 0 -9.6 0M1601.8 1182a4.8 4.8 0 1 0 9.6 0a4.8 4.8 0 1 0 -9.6 0M1604.4 1182a4.8 4.8 0 1 0 9.6 0a4.8 4.8 0 1 0 -9.6 0M1607 1182a4.8 4.8 0 1 0 9.6 0a4.8 4.8 0 1 0 -9.6 0M1609.6 1182.1a4.8 4.8 0 1 0 9.6 0a4.8 4.8 0 1 0 -9.6 0M1612.2 1182.1a4.8 4.8 0 1 0 9.6 0a4.8 4.8 0 1 0 -9.6 0M1614.8 1182.2a4.8 4.8 0 1 0 9.6 0a4.8 4.8 0 1 0 -9.6 0M1617.4 1182.2a4.8 4.8 0 1 0 9.6 0a4.8 4.8 0 1 0 -9.6 0M1620 1182.2a4.8 4.8 0 1 0 9.6 0a4.8 4.8 0 1 0 -9.6 0M1622.6 1182.3a4.8 4.8 0 1 0 9.6 0a4.8 4.8 0 1 0 -9.6 0M1625.2 1182.3a4.8 4.8 0 1 0 9.6 0a4.8 4.8 0 1 0 -9.6 0M1627.8 1182.3a4.8 4.8 0 1 0 9.6 0a4.8 4.8 0 1 0 -9.6 0M1630.4 1182.4a4.8 4.8 0 1 0 9.6 0a4.8 4.8 0 1 0 -9.6 0M1633 1182.4a4.8 4.8 0 1 0 9.6 0a4.8 4.8 0 1 0 -9.6 0M1635.6 1182.4a4.8 4.8 0 1 0 9.6 0a4.8 4.8 0 1 0 -9.6 0" fill="#F14040" stroke="none"/>
<polyline points="211,169.5 380,169.5 393.9,178.3 403.3,186.4 408.7,199.9 412.8,214.7 416.8,230.9 420.9,247 423.6,264.6 426,284 429.5,294.5 440,301.6 454.2,310 466.8,320 478,331 491.6,339.5 507.8,346.5 524,353 540.2,359.5 554.1,365.5 574.3,374.1 594.6,382.2 614.8,391.6 628.2,401.1 641.7,414.6 655.2,429.4 668.7,445.6 680,462 692,480 704,500.8 716,521 724.8,540 732,560.5 740.4,581.1 747.1,601.3 753.9,621.5 760.6,641.7 766,661.9 770,680 775.7,701.3 785.8,741.7 795.9,782.2 806,822.6 819.3,870 825.3,900.3 833.4,930.6 841.5,961 849.6,991.3 859.7,1021.6 869.8,1051.9 879.9,1080.2 892,1106.5 908.2,1128.8 932.5,1140.9 962.8,1149 1000,1155 1030,1160.5 1060,1164 1090,1166.3 1130,1168.8 1186,1171.5 1300,1176 1410,1179.1 1540,1181.3 1646,1183.5" stroke="#1A6FDF" stroke-width="7" />
<path d="M213 163.4l6 10.2h-12zM215.6 163.4l6 10.2h-12zM218.2 163.4l6 10.2h-12zM220.8 163.4l6 10.2h-12zM223.4 163.4l6 10.2h-12zM226 163.4l6 10.2h-12zM228.6 163.4l6 10.2h-12zM231.2 163.4l6 10.2h-12zM233.8 163.4l6 10.2h-12zM236.4 163.4l6 10.2h-12zM239 163.4l6 10.2h-12zM241.6 163.4l6 10.2h-12zM244.2 163.4l6 10.2h-12zM246.8 163.4l6 10.2h-12zM249.4 163.4l6 10.2h-12zM252 163.4l6 10.2h-12zM254.6 163.4l6 10.2h-12zM257.2 163.4l6 10.2h-12zM259.8 163.4l6 10.2h-12zM262.4 163.4l6 10.2h-12zM265 163.4l6 10.2h-12zM267.6 163.4l6 10.2h-12zM270.2 163.4l6 10.2h-12zM272.8 163.4l6 10.2h-12zM275.4 163.4l6 10.2h-12zM278 163.4l6 10.2h-12zM280.6 163.4l6 10.2h-12zM283.2 163.4l6 10.2h-12zM285.8 163.4l6 10.2h-12zM288.4 163.4l6 10.2h-12zM291 163.4l6 10.2h-12zM293.6 163.4l6 10.2h-12zM296.2 163.4l6 10.2h-12zM298.8 163.4l6 10.2h-12zM301.4 163.4l6 10.2h-12zM304 163.4l6 10.2h-12zM306.6 163.4l6 10.2h-12zM309.2 163.4l6 10.2h-12zM311.8 163.4l6 10.2h-12zM314.4 163.4l6 10.2h-12zM317 163.4l6 10.2h-12zM319.6 163.4l6 10.2h-12zM322.2 163.4l6 10.2h-12zM324.8 163.4l6 10.2h-12zM327.4 163.4l6 10.2h-12zM330 163.4l6 10.2h-12zM332.6 163.4l6 10.2h-12zM335.2 163.4l6 10.2h-12zM337.8 163.4l6 10.2h-12zM340.4 163.4l6 10.2h-12zM343 163.4l6 10.2h-12zM345.6 163.4l6 10.2h-12zM348.2 163.4l6 10.2h-12zM350.8 163.4l6 10.2h-12zM353.4 163.4l6 10.2h-12zM356 163.4l6 10.2h-12zM358.6 163.4l6 10.2h-12zM361.2 163.4l6 10.2h-12zM363.8 163.4l6 10.2h-12zM366.4 163.4l6 10.2h-12zM369 163.4l6 10.2h-12zM371.6 163.4l6 10.2h-12zM374.2 163.4l6 10.2h-12zM376.8 163.4l6 10.2h-12zM379.4 163.4l6 10.2h-12zM382 164.6l6 10.2h-12zM384.6 166.3l6 10.2h-12zM387.2 167.9l6 10.2h-12zM389.8 169.6l6 10.2h-12zM392.4 171.2l6 10.2h-12zM395 173.1l6 10.2h-12zM397.6 175.4l6 10.2h-12zM400.2 177.6l6 10.2h-12zM402.8 179.8l6 10.2h-12zM405.4 185.5l6 10.2h-12zM408 192l6 10.2h-12zM410.6 200.6l6 10.2h-12zM413.2 210.2l6 10.2h-12zM415.8 220.7l6 10.2h-12zM418.4 231.1l6 10.2h-12zM421 241.5l6 10.2h-12zM423.6 258.5l6 10.2h-12zM426.2 278.5l6 10.2h-12zM428.8 286.3l6 10.2h-12zM431.4 289.7l6 10.2h-12zM434 291.4l6 10.2h-12zM436.6 293.2l6 10.2h-12zM439.2 294.9l6 10.2h-12zM441.8 296.5l6 10.2h-12zM444.4 298.1l6 10.2h-12zM447 299.6l6 10.2h-12zM449.6 301.2l6 10.2h-12zM452.2 302.7l6 10.2h-12zM454.8 304.4l6 10.2h-12zM457.4 306.4l6 10.2h-12zM460 308.5l6 10.2h-12zM462.6 310.5l6 10.2h-12zM465.2 312.6l6 10.2h-12zM467.8 314.9l6 10.2h-12zM470.4 317.4l6 10.2h-12zM473 320l6 10.2h-12zM475.6 322.5l6 10.2h-12zM478.2 325l6 10.2h-12zM480.8 326.6l6 10.2h-12zM483.4 328.3l6 10.2h-12zM486 329.9l6 10.2h-12zM488.6 331.5l6 10.2h-12zM491.2 333.1l6 10.2h-12zM493.8 334.3l6 10.2h-12zM496.4 335.5l6 10.2h-12zM499 336.6l6 10.2h-12zM501.6 337.7l6 10.2h-12zM504.2 338.8l6 10.2h-12zM506.8 339.9l6 10.2h-12zM509.4 341l6 10.2h-12zM512 342.1l6 10.2h-12zM514.6 343.1l6 10.2h-12zM517.2 344.2l6 10.2h-12zM519.8 345.2l6 10.2h-12zM522.4 346.2l6 10.2h-12zM525 347.3l6 10.2h-12zM527.6 348.3l6 10.2h-12zM530.2 349.4l6 10.2h-12zM532.8 350.4l6 10.2h-12zM535.4 351.5l6 10.2h-12zM538 352.5l6 10.2h-12zM540.6 353.6l6 10.2h-12zM543.2 354.7l6 10.2h-12zM545.8 355.8l6 10.2h-12zM548.4 356.9l6 10.2h-12zM551 358l6 10.2h-12zM553.6 359.2l6 10.2h-12zM556.2 360.3l6 10.2h-12zM558.8 361.4l6 10.2h-12zM561.4 362.5l6 10.2h-12zM564 363.6l6 10.2h-12zM566.6 364.7l6 10.2h-12zM569.2 365.8l6 10.2h-12zM571.8 366.9l6 10.2h-12zM574.4 368l6 10.2h-12zM577 369.1l6 10.2h-12zM579.6 370.1l6 10.2h-12zM582.2 371.1l6 10.2h-12zM584.8 372.2l6 10.2h-12zM587.4 373.2l6 10.2h-12zM590 374.2l6 10.2h-12zM592.6 375.3l6 10.2h-12zM595.2 376.4l6 10.2h-12zM597.8 377.6l6 10.2h-12zM600.4 378.8l6 10.2h-12zM603 380l6 10.2h-12zM605.6 381.2l6 10.2h-12zM608.2 382.4l6 10.2h-12zM610.8 383.6l6 10.2h-12zM613.4 384.8l6 10.2h-12zM616 386.3l6 10.2h-12zM618.6 388.2l6 10.2h-12zM621.2 390l6 10.2h-12zM623.8 391.9l6 10.2h-12zM626.4 393.7l6 10.2h-12zM629 395.8l6 10.2h-12zM631.6 398.4l6 10.2h-12zM634.2 401l6 10.2h-12zM636.8 403.6l6 10.2h-12zM639.4 406.2l6 10.2h-12zM642 408.8l6 10.2h-12zM644.6 411.7l6 10.2h-12zM647.2 414.5l6 10.2h-12zM649.8 417.4l6 10.2h-12zM652.4 420.2l6 10.2h-12zM655 423.1l6 10.2h-12zM657.6 426.2l6 10.2h-12zM660.2 429.3l6 10.2h-12zM662.8 432.4l6 10.2h-12zM665.4 435.5l6 10.2h-12zM668 438.6l6 10.2h-12zM670.6 442.2l6 10.2h-12zM673.2 446l6 10.2h-12zM675.8 449.8l6 10.2h-12zM678.4 453.6l6 10.2h-12zM681 457.4l6 10.2h-12zM683.6 461.3l6 10.2h-12zM686.2 465.2l6 10.2h-12zM688.8 469.1l6 10.2h-12zM691.4 473l6 10.2h-12zM694 477.3l6 10.2h-12zM696.6 481.9l6 10.2h-12zM699.2 486.4l6 10.2h-12zM701.8 490.9l6 10.2h-12zM704.4 495.4l6 10.2h-12zM707 499.7l6 10.2h-12zM709.6 504.1l6 10.2h-12zM712.2 508.5l6 10.2h-12zM714.8 512.9l6 10.2h-12zM717.4 517.9l6 10.2h-12zM720 523.5l6 10.2h-12zM722.6 529.1l6 10.2h-12zM725.2 535l6 10.2h-12zM727.8 542.4l6 10.2h-12zM730.4 549.8l6 10.2h-12zM733 556.8l6 10.2h-12zM735.6 563.2l6 10.2h-12zM738.2 569.6l6 10.2h-12zM740.8 576.2l6 10.2h-12zM743.4 584l6 10.2h-12zM746 591.9l6 10.2h-12zM748.6 599.6l6 10.2h-12zM751.2 607.4l6 10.2h-12zM753.8 615.1l6 10.2h-12zM756.4 622.9l6 10.2h-12zM759 630.8l6 10.2h-12zM761.6 639.3l6 10.2h-12zM764.2 649l6 10.2h-12zM766.8 659.4l6 10.2h-12zM769.4 671.2l6 10.2h-12zM772 681.4l6 10.2h-12zM774.6 691.1l6 10.2h-12zM777.2 701.2l6 10.2h-12zM779.8 711.6l6 10.2h-12zM782.4 722l6 10.2h-12zM785 732.4l6 10.2h-12zM787.6 742.8l6 10.2h-12zM790.2 753.2l6 10.2h-12zM792.8 763.6l6 10.2h-12zM795.4 774.1l6 10.2h-12zM798 784.5l6 10.2h-12zM800.6 794.9l6 10.2h-12zM803.2 805.3l6 10.2h-12zM805.8 815.7l6 10.2h-12zM808.4 825l6 10.2h-12zM811 834.3l6 10.2h-12zM813.6 843.6l6 10.2h-12zM816.2 852.8l6 10.2h-12zM818.8 862.1l6 10.2h-12zM821.4 874.5l6 10.2h-12zM824 887.6l6 10.2h-12zM826.6 899l6 10.2h-12zM829.2 908.8l6 10.2h-12zM831.8 918.5l6 10.2h-12zM834.4 928.2l6 10.2h-12zM837 938l6 10.2h-12zM839.6 947.7l6 10.2h-12zM842.2 957.5l6 10.2h-12zM844.8 967.2l6 10.2h-12zM847.4 977l6 10.2h-12zM850 986.4l6 10.2h-12zM852.6 994.2l6 10.2h-12zM855.2 1002l6 10.2h-12zM857.8 1009.8l6 10.2h-12zM860.4 1017.6l6 10.2h-12zM863 1025.4l6 10.2h-12zM865.6 1033.2l6 10.2h-12zM868.2 1041l6 10.2h-12zM870.8 1048.6l6 10.2h-12zM873.4 1055.9l6 10.2h-12zM876 1063.2l6 10.2h-12zM878.6 1070.4l6 10.2h-12zM881.2 1076.9l6 10.2h-12zM883.8 1082.6l6 10.2h-12zM886.4 1088.2l6 10.2h-12zM889 1093.9l6 10.2h-12zM891.6 1099.5l6 10.2h-12zM894.2 1103.4l6 10.2h-12zM896.8 1107l6 10.2h-12zM899.4 1110.6l6 10.2h-12zM902 1114.1l6 10.2h-12zM904.6 1117.7l6 10.2h-12zM907.2 1121.3l6 10.2h-12zM909.8 1123.5l6 10.2h-12zM912.4 1124.8l6 10.2h-12zM915 1126.1l6 10.2h-12zM917.6 1127.4l6 10.2h-12zM920.2 1128.7l6 10.2h-12zM922.8 1129.9l6 10.2h-12zM925.4 1131.2l6 10.2h-12zM928 1132.5l6 10.2h-12zM930.6 1133.8l6 10.2h-12zM933.2 1135l6 10.2h-12zM935.8 1135.7l6 10.2h-12zM938.4 1136.4l6 10.2h-12zM941 1137.1l6 10.2h-12zM943.6 1137.7l6 10.2h-12zM946.2 1138.4l6 10.2h-12zM948.8 1139.1l6 10.2h-12zM951.4 1139.8l6 10.2h-12zM954 1140.5l6 10.2h-12zM956.6 1141.2l6 10.2h-12zM959.2 1141.9l6 10.2h-12zM961.8 1142.6l6 10.2h-12zM964.4 1143.1l6 10.2h-12zM967 1143.6l6 10.2h-12zM969.6 1144l6 10.2h-12zM972.2 1144.4l6 10.2h-12zM974.8 1144.8l6 10.2h-12zM977.4 1145.2l6 10.2h-12zM980 1145.7l6 10.2h-12zM982.6 1146.1l6 10.2h-12zM985.2 1146.5l6 10.2h-12zM987.8 1146.9l6 10.2h-12zM990.4 1147.3l6 10.2h-12zM993 1147.8l6 10.2h-12zM995.6 1148.2l6 10.2h-12zM998.2 1148.6l6 10.2h-12zM1000.8 1149l6 10.2h-12zM1003.4 1149.5l6 10.2h-12zM1006 1150l6 10.2h-12zM1008.6 1150.5l6 10.2h-12zM1011.2 1150.9l6 10.2h-12zM1013.8 1151.4l6 10.2h-12zM1016.4 1151.9l6 10.2h-12zM1019 1152.4l6 10.2h-12zM1021.6 1152.8l6 10.2h-12zM1024.2 1153.3l6 10.2h-12zM1026.8 1153.8l6 10.2h-12zM1029.4 1154.3l6 10.2h-12zM1032 1154.6l6 10.2h-12zM1034.6 1154.9l6 10.2h-12zM1037.2 1155.2l6 10.2h-12zM1039.8 1155.5l6 10.2h-12zM1042.4 1155.8l6 10.2h-12zM1045 1156.1l6 10.2h-12zM1047.6 1156.4l6 10.2h-12zM1050.2 1156.7l6 10.2h-12zM1052.8 1157l6 10.2h-12zM1055.4 1157.3l6 10.2h-12zM1058 1157.6l6 10.2h-12zM1060.6 1157.9l6 10.2h-12zM1063.2 1158.1l6 10.2h-12zM1065.8 1158.3l6 10.2h-12zM1068.4 1158.5l6 10.2h-12zM1071 1158.7l6 10.2h-12zM1073.6 1158.9l6 10.2h-12zM1076.2 1159.1l6 10.2h-12zM1078.8 1159.3l6 10.2h-12zM1081.4 1159.5l6 10.2h-12zM1084 1159.7l6 10.2h-12zM1086.6 1159.9l6 10.2h-12zM1089.2 1160.1l6 10.2h-12zM1091.8 1160.3l6 10.2h-12zM1094.4 1160.5l6 10.2h-12zM1097 1160.6l6 10.2h-12zM1099.6 1160.8l6 10.2h-12zM1102.2 1160.9l6 10.2h-12zM1104.8 1161.1l6 10.2h-12zM1107.4 1161.3l6 10.2h-12zM1110 1161.4l6 10.2h-12zM1112.6 1161.6l6 10.2h-12zM1115.2 1161.8l6 10.2h-12zM1117.8 1161.9l6 10.2h-12zM1120.4 1162.1l6 10.2h-12zM1123 1162.2l6 10.2h-12zM1125.6 1162.4l6 10.2h-12zM1128.2 1162.6l6 10.2h-12zM1130.8 1162.7l6 10.2h-12zM1133.4 1162.8l6 10.2h-12zM1136 1163l6 10.2h-12zM1138.6 1163.1l6 10.2h-12zM1141.2 1163.2l6 10.2h-12zM1143.8 1163.3l6 10.2h-12zM1146.4 1163.5l6 10.2h-12zM1149 1163.6l6 10.2h-12zM1151.6 1163.7l6 10.2h-12zM1154.2 1163.8l6 10.2h-12zM1156.8 1164l6 10.2h-12zM1159.4 1164.1l6 10.2h-12zM1162 1164.2l6 10.2h-12zM1164.6 1164.3l6 10.2h-12zM1167.2 1164.5l6 10.2h-12zM1169.8 1164.6l6 10.2h-12zM1172.4 1164.7l6 10.2h-12zM1175 1164.8l6 10.2h-12zM1177.6 1165l6 10.2h-12zM1180.2 1165.1l6 10.2h-12zM1182.8 1165.2l6 10.2h-12zM1185.4 1165.4l6 10.2h-12zM1188 1165.5l6 10.2h-12zM1190.6 1165.6l6 10.2h-12zM1193.2 1165.7l6 10.2h-12zM1195.8 1165.8l6 10.2h-12zM1198.4 1165.9l6 10.2h-12zM1201 1166l6 10.2h-12zM1203.6 1166.1l6 10.2h-12zM1206.2 1166.2l6 10.2h-12zM1208.8 1166.3l6 10.2h-12zM1211.4 1166.4l6 10.2h-12zM1214 1166.5l6 10.2h-12zM1216.6 1166.6l6 10.2h-12zM1219.2 1166.7l6 10.2h-12zM1221.8 1166.8l6 10.2h-12zM1224.4 1166.9l6 10.2h-12zM1227 1167l6 10.2h-12zM1229.6 1167.1l6 10.2h-12zM1232.2 1167.2l6 10.2h-12zM1234.8 1167.3l6 10.2h-12zM1237.4 1167.4l6 10.2h-12zM1240 1167.5l6 10.2h-12zM1242.6 1167.6l6 10.2h-12zM1245.2 1167.7l6 10.2h-12zM1247.8 1167.8l6 10.2h-12zM1250.4 1167.9l6 10.2h-12zM1253 1168l6 10.2h-12zM1255.6 1168.1l6 10.2h-12zM1258.2 1168.2l6 10.2h-12zM1260.8 1168.3l6 10.2h-12zM1263.4 1168.4l6 10.2h-12zM1266 1168.5l6 10.2h-12zM1268.6 1168.6l6 10.2h-12zM1271.2 1168.7l6 10.2h-12zM1273.8 1168.8l6 10.2h-12zM1276.4 1168.9l6 10.2h-12zM1279 1169.1l6 10.2h-12zM1281.6 1169.2l6 10.2h-12zM1284.2 1169.3l6 10.2h-12zM1286.8 1169.4l6 10.2h-12zM1289.4 1169.5l6 10.2h-12zM1292 1169.6l6 10.2h-12zM1294.6 1169.7l6 10.2h-12zM1297.2 1169.8l6 10.2h-12zM1299.8 1169.9l6 10.2h-12zM1302.4 1169.9l6 10.2h-12zM1305 1170l6 10.2h-12zM1307.6 1170.1l6 10.2h-12zM1310.2 1170.2l6 10.2h-12zM1312.8 1170.2l6 10.2h-12zM1315.4 1170.3l6 10.2h-12zM1318 1170.4l6 10.2h-12zM1320.6 1170.5l6 10.2h-12zM1323.2 1170.5l6 10.2h-12zM1325.8 1170.6l6 10.2h-12zM1328.4 1170.7l6 10.2h-12zM1331 1170.8l6 10.2h-12zM1333.6 1170.8l6 10.2h-12zM1336.2 1170.9l6 10.2h-12zM1338.8 1171l6 10.2h-12zM1341.4 1171l6 10.2h-12zM1344 1171.1l6 10.2h-12zM1346.6 1171.2l6 10.2h-12zM1349.2 1171.3l6 10.2h-12zM1351.8 1171.3l6 10.2h-12zM1354.4 1171.4l6 10.2h-12zM1357 1171.5l6 10.2h-12zM1359.6 1171.6l6 10.2h-12zM1362.2 1171.6l6 10.2h-12zM1364.8 1171.7l6 10.2h-12zM1367.4 1171.8l6 10.2h-12zM1370 1171.9l6 10.2h-12zM1372.6 1171.9l6 10.2h-12zM1375.2 1172l6 10.2h-12zM1377.8 1172.1l6 10.2h-12zM1380.4 1172.1l6 10.2h-12zM1383 1172.2l6 10.2h-12zM1385.6 1172.3l6 10.2h-12zM1388.2 1172.4l6 10.2h-12zM1390.8 1172.4l6 10.2h-12zM1393.4 1172.5l6 10.2h-12zM1396 1172.6l6 10.2h-12zM1398.6 1172.7l6 10.2h-12zM1401.2 1172.7l6 10.2h-12zM1403.8 1172.8l6 10.2h-12zM1406.4 1172.9l6 10.2h-12zM1409 1173l6 10.2h-12zM1411.6 1173l6 10.2h-12zM1414.2 1173.1l6 10.2h-12zM1416.8 1173.1l6 10.2h-12zM1419.4 1173.1l6 10.2h-12zM1422 1173.2l6 10.2h-12zM1424.6 1173.2l6 10.2h-12zM1427.2 1173.3l6 10.2h-12zM1429.8 1173.3l6 10.2h-12zM1432.4 1173.4l6 10.2h-12zM1435 1173.4l6 10.2h-12zM1437.6 1173.4l6 10.2h-12zM1440.2 1173.5l6 10.2h-12zM1442.8 1173.5l6 10.2h-12zM1445.4 1173.6l6 10.2h-12zM1448 1173.6l6 10.2h-12zM1450.6 1173.7l6 10.2h-12zM1453.2 1173.7l6 10.2h-12zM1455.8 1173.8l6 10.2h-12zM1458.4 1173.8l6 10.2h-12zM1461 1173.8l6 10.2h-12zM1463.6 1173.9l6 10.2h-12zM1466.2 1173.9l6 10.2h-12zM1468.8 1174l6 10.2h-12zM1471.4 1174l6 10.2h-12zM1474 1174.1l6 10.2h-12zM1476.6 1174.1l6 10.2h-12zM1479.2 1174.2l6 10.2h-12zM1481.8 1174.2l6 10.2h-12zM1484.4 1174.2l6 10.2h-12zM1487 1174.3l6 10.2h-12zM1489.6 1174.3l6 10.2h-12zM1492.2 1174.4l6 10.2h-12zM1494.8 1174.4l6 10.2h-12zM1497.4 1174.5l6 10.2h-12zM1500 1174.5l6 10.2h-12zM1502.6 1174.5l6 10.2h-12zM1505.2 1174.6l6 10.2h-12zM1507.8 1174.6l6 10.2h-12zM1510.4 1174.7l6 10.2h-12zM1513 1174.7l6 10.2h-12zM1515.6 1174.8l6 10.2h-12zM1518.2 1174.8l6 10.2h-12zM1520.8 1174.9l6 10.2h-12zM1523.4 1174.9l6 10.2h-12zM1526 1174.9l6 10.2h-12zM1528.6 1175l6 10.2h-12zM1531.2 1175l6 10.2h-12zM1533.8 1175.1l6 10.2h-12zM1536.4 1175.1l6 10.2h-12zM1539 1175.2l6 10.2h-12zM1541.6 1175.2l6 10.2h-12zM1544.2 1175.3l6 10.2h-12zM1546.8 1175.3l6 10.2h-12zM1549.4 1175.4l6 10.2h-12zM1552 1175.4l6 10.2h-12zM1554.6 1175.5l6 10.2h-12zM1557.2 1175.5l6 10.2h-12zM1559.8 1175.6l6 10.2h-12zM1562.4 1175.6l6 10.2h-12zM1565 1175.7l6 10.2h-12zM1567.6 1175.8l6 10.2h-12zM1570.2 1175.8l6 10.2h-12zM1572.8 1175.9l6 10.2h-12zM1575.4 1175.9l6 10.2h-12zM1578 1176l6 10.2h-12zM1580.6 1176l6 10.2h-12zM1583.2 1176.1l6 10.2h-12zM1585.8 1176.1l6 10.2h-12zM1588.4 1176.2l6 10.2h-12zM1591 1176.2l6 10.2h-12zM1593.6 1176.3l6 10.2h-12zM1596.2 1176.3l6 10.2h-12zM1598.8 1176.4l6 10.2h-12zM1601.4 1176.5l6 10.2h-12zM1604 1176.5l6 10.2h-12zM1606.6 1176.6l6 10.2h-12zM1609.2 1176.6l6 10.2h-12zM1611.8 1176.7l6 10.2h-12zM1614.4 1176.7l6 10.2h-12zM1617 1176.8l6 10.2h-12zM1619.6 1176.8l6 10.2h-12zM1622.2 1176.9l6 10.2h-12zM1624.8 1176.9l6 10.2h-12zM1627.4 1177l6 10.2h-12zM1630 1177l6 10.2h-12zM1632.6 1177.1l6 10.2h-12zM1635.2 1177.2l6 10.2h-12zM1637.8 1177.2l6 10.2h-12zM1640.4 1177.3l6 10.2h-12z" fill="#1A6FDF" stroke="none"/>
<polyline points="211,169.5 400,169.5 415.5,177 426.3,185 431.6,199.9 437,214.7 442.4,230.9 446.5,247 450.5,264.6 453.2,282.1 457.5,295.8 467,303.6 481.5,309.5 495,317.4 507.5,325.5 520.4,335 540.6,347 560.9,358.5 587.8,372.8 614.8,383.6 641.7,394.3 661.9,405.1 680,421.6 693.5,435.5 707,451.6 720.4,470.5 730,484.5 738,500.2 748,520 757.9,540.6 765.5,560.5 774.1,581.1 780,601.3 787.8,620.4 797.9,660.9 806,701.3 814.1,741.7 822.2,782.2 832.3,822.6 842.5,870 849.6,900.3 857.7,930.6 865.8,961 871.8,991.3 877.9,1021.6 886,1051.9 894.1,1080.2 906.2,1108.5 922.4,1126.7 942.6,1140.9 972.9,1155 1000,1163.1 1044.3,1173.1 1115.1,1187.3 1185.8,1197.9 1256.6,1205 1300,1207.3 1414.7,1208.5 1646,1210.3" stroke="#37AD6B" stroke-width="7" />
<path d="M213 176.1l6.5 -11h-13zM215.6 176.1l6.5 -11h-13zM218.2 176.1l6.5 -11h-13zM220.8 176.1l6.5 -11h-13zM223.4 176.1l6.5 -11h-13zM226 176.1l6.5 -11h-13zM228.6 176.1l6.5 -11h-13zM231.2 176.1l6.5 -11h-13zM233.8 176.1l6.5 -11h-13zM236.4 176.1l6.5 -11h-13zM239 176.1l6.5 -11h-13zM241.6 176.1l6.5 -11h-13zM244.2 176.1l6.5 -11h-13zM246.8 176.1l6.5 -11h-13zM249.4 176.1l6.5 -11h-13zM252 176.1l6.5 -11h-13zM254.6 176.1l6.5 -11h-13zM257.2 176.1l6.5 -11h-13zM259.8 176.1l6.5 -11h-13zM262.4 176.1l6.5 -11h-13zM265 176.1l6.5 -11h-13zM267.6 176.1l6.5 -11h-13zM270.2 176.1l6.5 -11h-13zM272.8 176.1l6.5 -11h-13zM275.4 176.1l6.5 -11h-13zM278 176.1l6.5 -11h-13zM280.6 176.1l6.5 -11h-13zM283.2 176.1l6.5 -11h-13zM285.8 176.1l6.5 -11h-13zM288.4 176.1l6.5 -11h-13zM291 176.1l6.5 -11h-13zM293.6 176.1l6.5 -11h-13zM296.2 176.1l6.5 -11h-13zM298.8 176.1l6.5 -11h-13zM301.4 176.1l6.5 -11h-13zM304 176.1l6.5 -11h-13zM306.6 176.1l6.5 -11h-13zM309.2 176.1l6.5 -11h-13zM311.8 176.1l6.5 -11h-13zM314.4 176.1l6.5 -11h-13zM317 176.1l6.5 -11h-13zM319.6 176.1l6.5 -11h-13zM322.2 176.1l6.5 -11h-13zM324.8 176.1l6.5 -11h-13zM327.4 176.1l6.5 -11h-13zM330 176.1l6.5 -11h-13zM332.6 176.1l6.5 -11h-13zM335.2 176.1l6.5 -11h-13zM337.8 176.1l6.5 -11h-13zM340.4 176.1l6.5 -11h-13zM343 176.1l6.5 -11h-13zM345.6 176.1l6.5 -11h-13zM348.2 176.1l6.5 -11h-13zM350.8 176.1l6.5 -11h-13zM353.4 176.1l6.5 -11h-13zM356 176.1l6.5 -11h-13zM358.6 176.1l6.5 -11h-13zM361.2 176.1l6.5 -11h-13zM363.8 176.1l6.5 -11h-13zM366.4 176.1l6.5 -11h-13zM369 176.1l6.5 -11h-13zM371.6 176.1l6.5 -11h-13zM374.2 176.1l6.5 -11h-13zM376.8 176.1l6.5 -11h-13zM379.4 176.1l6.5 -11h-13zM382 176.1l6.5 -11h-13zM384.6 176.1l6.5 -11h-13zM387.2 176.1l6.5 -11h-13zM389.8 176.1l6.5 -11h-13zM392.4 176.1l6.5 -11h-13zM395 176.1l6.5 -11h-13zM397.6 176.1l6.5 -11h-13zM400.2 176.2l6.5 -11h-13zM402.8 177.5l6.5 -11h-13zM405.4 178.7l6.5 -11h-13zM408 180l6.5 -11h-13zM410.6 181.3l6.5 -11h-13zM413.2 182.5l6.5 -11h-13zM415.8 183.9l6.5 -11h-13zM418.4 185.8l6.5 -11h-13zM421 187.7l6.5 -11h-13zM423.6 189.6l6.5 -11h-13zM426.2 191.6l6.5 -11h-13zM428.8 198.7l6.5 -11h-13zM431.4 206l6.5 -11h-13zM434 213.1l6.5 -11h-13zM436.6 220.2l6.5 -11h-13zM439.2 227.9l6.5 -11h-13zM441.8 235.7l6.5 -11h-13zM444.4 245.4l6.5 -11h-13zM447 255.8l6.5 -11h-13zM449.6 267.3l6.5 -11h-13zM452.2 282.2l6.5 -11h-13zM454.8 293.8l6.5 -11h-13zM457.4 302.1l6.5 -11h-13zM460 304.5l6.5 -11h-13zM462.6 306.6l6.5 -11h-13zM465.2 308.8l6.5 -11h-13zM467.8 310.6l6.5 -11h-13zM470.4 311.6l6.5 -11h-13zM473 312.7l6.5 -11h-13zM475.6 313.7l6.5 -11h-13zM478.2 314.8l6.5 -11h-13zM480.8 315.8l6.5 -11h-13zM483.4 317.2l6.5 -11h-13zM486 318.8l6.5 -11h-13zM488.6 320.3l6.5 -11h-13zM491.2 321.8l6.5 -11h-13zM493.8 323.3l6.5 -11h-13zM496.4 324.9l6.5 -11h-13zM499 326.6l6.5 -11h-13zM501.6 328.3l6.5 -11h-13zM504.2 330l6.5 -11h-13zM506.8 331.7l6.5 -11h-13zM509.4 333.5l6.5 -11h-13zM512 335.4l6.5 -11h-13zM514.6 337.4l6.5 -11h-13zM517.2 339.3l6.5 -11h-13zM519.8 341.2l6.5 -11h-13zM522.4 342.8l6.5 -11h-13zM525 344.4l6.5 -11h-13zM527.6 345.9l6.5 -11h-13zM530.2 347.5l6.5 -11h-13zM532.8 349l6.5 -11h-13zM535.4 350.5l6.5 -11h-13zM538 352.1l6.5 -11h-13zM540.6 353.6l6.5 -11h-13zM543.2 355.1l6.5 -11h-13zM545.8 356.6l6.5 -11h-13zM548.4 358l6.5 -11h-13zM551 359.5l6.5 -11h-13zM553.6 361l6.5 -11h-13zM556.2 362.5l6.5 -11h-13zM558.8 363.9l6.5 -11h-13zM561.4 365.4l6.5 -11h-13zM564 366.8l6.5 -11h-13zM566.6 368.2l6.5 -11h-13zM569.2 369.5l6.5 -11h-13zM571.8 370.9l6.5 -11h-13zM574.4 372.3l6.5 -11h-13zM577 373.7l6.5 -11h-13zM579.6 375.1l6.5 -11h-13zM582.2 376.5l6.5 -11h-13zM584.8 377.8l6.5 -11h-13zM587.4 379.2l6.5 -11h-13zM590 380.3l6.5 -11h-13zM592.6 381.4l6.5 -11h-13zM595.2 382.4l6.5 -11h-13zM597.8 383.4l6.5 -11h-13zM600.4 384.5l6.5 -11h-13zM603 385.5l6.5 -11h-13zM605.6 386.6l6.5 -11h-13zM608.2 387.6l6.5 -11h-13zM610.8 388.6l6.5 -11h-13zM613.4 389.7l6.5 -11h-13zM616 390.7l6.5 -11h-13zM618.6 391.7l6.5 -11h-13zM621.2 392.8l6.5 -11h-13zM623.8 393.8l6.5 -11h-13zM626.4 394.8l6.5 -11h-13zM629 395.9l6.5 -11h-13zM631.6 396.9l6.5 -11h-13zM634.2 397.9l6.5 -11h-13zM636.8 399l6.5 -11h-13zM639.4 400l6.5 -11h-13zM642 401.1l6.5 -11h-13zM644.6 402.5l6.5 -11h-13zM647.2 403.9l6.5 -11h-13zM649.8 405.3l6.5 -11h-13zM652.4 406.7l6.5 -11h-13zM655 408l6.5 -11h-13zM657.6 409.4l6.5 -11h-13zM660.2 410.8l6.5 -11h-13zM662.8 412.6l6.5 -11h-13zM665.4 414.9l6.5 -11h-13zM668 417.3l6.5 -11h-13zM670.6 419.7l6.5 -11h-13zM673.2 422l6.5 -11h-13zM675.8 424.4l6.5 -11h-13zM678.4 426.8l6.5 -11h-13zM681 429.3l6.5 -11h-13zM683.6 431.9l6.5 -11h-13zM686.2 434.6l6.5 -11h-13zM688.8 437.3l6.5 -11h-13zM691.4 440l6.5 -11h-13zM694 442.7l6.5 -11h-13zM696.6 445.8l6.5 -11h-13zM699.2 448.9l6.5 -11h-13zM701.8 452l6.5 -11h-13zM704.4 455.1l6.5 -11h-13zM707 458.2l6.5 -11h-13zM709.6 461.9l6.5 -11h-13zM712.2 465.6l6.5 -11h-13zM714.8 469.2l6.5 -11h-13zM717.4 472.9l6.5 -11h-13zM720 476.6l6.5 -11h-13zM722.6 480.3l6.5 -11h-13zM725.2 484.1l6.5 -11h-13zM727.8 487.9l6.5 -11h-13zM730.4 491.9l6.5 -11h-13zM733 497l6.5 -11h-13zM735.6 502.1l6.5 -11h-13zM738.2 507.2l6.5 -11h-13zM740.8 512.4l6.5 -11h-13zM743.4 517.5l6.5 -11h-13zM746 522.7l6.5 -11h-13zM748.6 527.9l6.5 -11h-13zM751.2 533.3l6.5 -11h-13zM753.8 538.7l6.5 -11h-13zM756.4 544.1l6.5 -11h-13zM759 550.1l6.5 -11h-13zM761.6 556.9l6.5 -11h-13zM764.2 563.7l6.5 -11h-13zM766.8 570.2l6.5 -11h-13zM769.4 576.5l6.5 -11h-13zM772 582.7l6.5 -11h-13zM774.6 589.4l6.5 -11h-13zM777.2 598.3l6.5 -11h-13zM779.8 607.2l6.5 -11h-13zM782.4 613.8l6.5 -11h-13zM785 620.2l6.5 -11h-13zM787.6 626.5l6.5 -11h-13zM790.2 636.7l6.5 -11h-13zM792.8 647.1l6.5 -11h-13zM795.4 657.5l6.5 -11h-13zM798 668l6.5 -11h-13zM800.6 681l6.5 -11h-13zM803.2 694l6.5 -11h-13zM805.8 706.9l6.5 -11h-13zM808.4 719.9l6.5 -11h-13zM811 732.9l6.5 -11h-13zM813.6 745.8l6.5 -11h-13zM816.2 758.8l6.5 -11h-13zM818.8 771.8l6.5 -11h-13zM821.4 784.8l6.5 -11h-13zM824 796l6.5 -11h-13zM826.6 806.4l6.5 -11h-13zM829.2 816.8l6.5 -11h-13zM831.8 827.2l6.5 -11h-13zM834.4 839l6.5 -11h-13zM837 851.1l6.5 -11h-13zM839.6 863.2l6.5 -11h-13zM842.2 875.2l6.5 -11h-13zM844.8 886.4l6.5 -11h-13zM847.4 897.5l6.5 -11h-13zM850 908.4l6.5 -11h-13zM852.6 918.2l6.5 -11h-13zM855.2 927.9l6.5 -11h-13zM857.8 937.6l6.5 -11h-13zM860.4 947.4l6.5 -11h-13zM863 957.1l6.5 -11h-13zM865.6 966.9l6.5 -11h-13zM868.2 979.8l6.5 -11h-13zM870.8 992.9l6.5 -11h-13zM873.4 1005.9l6.5 -11h-13zM876 1018.8l6.5 -11h-13zM878.6 1030.8l6.5 -11h-13zM881.2 1040.6l6.5 -11h-13zM883.8 1050.3l6.5 -11h-13zM886.4 1059.9l6.5 -11h-13zM889 1069l6.5 -11h-13zM891.6 1078.1l6.5 -11h-13zM894.2 1087.1l6.5 -11h-13zM896.8 1093.1l6.5 -11h-13zM899.4 1099.2l6.5 -11h-13zM902 1105.3l6.5 -11h-13zM904.6 1111.4l6.5 -11h-13zM907.2 1116.3l6.5 -11h-13zM909.8 1119.2l6.5 -11h-13zM912.4 1122.1l6.5 -11h-13zM915 1125l6.5 -11h-13zM917.6 1127.9l6.5 -11h-13zM920.2 1130.9l6.5 -11h-13zM922.8 1133.6l6.5 -11h-13zM925.4 1135.4l6.5 -11h-13zM928 1137.3l6.5 -11h-13zM930.6 1139.1l6.5 -11h-13zM933.2 1140.9l6.5 -11h-13zM935.8 1142.7l6.5 -11h-13zM938.4 1144.6l6.5 -11h-13zM941 1146.4l6.5 -11h-13zM943.6 1148l6.5 -11h-13zM946.2 1149.2l6.5 -11h-13zM948.8 1150.4l6.5 -11h-13zM951.4 1151.6l6.5 -11h-13zM954 1152.8l6.5 -11h-13zM956.6 1154l6.5 -11h-13zM959.2 1155.3l6.5 -11h-13zM961.8 1156.5l6.5 -11h-13zM964.4 1157.7l6.5 -11h-13zM967 1158.9l6.5 -11h-13zM969.6 1160.1l6.5 -11h-13zM972.2 1161.3l6.5 -11h-13zM974.8 1162.2l6.5 -11h-13zM977.4 1163l6.5 -11h-13zM980 1163.8l6.5 -11h-13zM982.6 1164.5l6.5 -11h-13zM985.2 1165.3l6.5 -11h-13zM987.8 1166.1l6.5 -11h-13zM990.4 1166.9l6.5 -11h-13zM993 1167.6l6.5 -11h-13zM995.6 1168.4l6.5 -11h-13zM998.2 1169.2l6.5 -11h-13zM1000.8 1169.9l6.5 -11h-13zM1003.4 1170.5l6.5 -11h-13zM1006 1171.1l6.5 -11h-13zM1008.6 1171.7l6.5 -11h-13zM1011.2 1172.3l6.5 -11h-13zM1013.8 1172.8l6.5 -11h-13zM1016.4 1173.4l6.5 -11h-13zM1019 1174l6.5 -11h-13zM1021.6 1174.6l6.5 -11h-13zM1024.2 1175.2l6.5 -11h-13zM1026.8 1175.8l6.5 -11h-13zM1029.4 1176.4l6.5 -11h-13zM1032 1177l6.5 -11h-13zM1034.6 1177.5l6.5 -11h-13zM1037.2 1178.1l6.5 -11h-13zM1039.8 1178.7l6.5 -11h-13zM1042.4 1179.3l6.5 -11h-13zM1045 1179.9l6.5 -11h-13zM1047.6 1180.4l6.5 -11h-13zM1050.2 1180.9l6.5 -11h-13zM1052.8 1181.4l6.5 -11h-13zM1055.4 1182l6.5 -11h-13zM1058 1182.5l6.5 -11h-13zM1060.6 1183l6.5 -11h-13zM1063.2 1183.5l6.5 -11h-13zM1065.8 1184l6.5 -11h-13zM1068.4 1184.6l6.5 -11h-13zM1071 1185.1l6.5 -11h-13zM1073.6 1185.6l6.5 -11h-13zM1076.2 1186.1l6.5 -11h-13zM1078.8 1186.6l6.5 -11h-13zM1081.4 1187.2l6.5 -11h-13zM1084 1187.7l6.5 -11h-13zM1086.6 1188.2l6.5 -11h-13zM1089.2 1188.7l6.5 -11h-13zM1091.8 1189.3l6.5 -11h-13zM1094.4 1189.8l6.5 -11h-13zM1097 1190.3l6.5 -11h-13zM1099.6 1190.8l6.5 -11h-13zM1102.2 1191.3l6.5 -11h-13zM1104.8 1191.9l6.5 -11h-13zM1107.4 1192.4l6.5 -11h-13zM1110 1192.9l6.5 -11h-13zM1112.6 1193.4l6.5 -11h-13zM1115.2 1193.9l6.5 -11h-13zM1117.8 1194.3l6.5 -11h-13zM1120.4 1194.7l6.5 -11h-13zM1123 1195.1l6.5 -11h-13zM1125.6 1195.5l6.5 -11h-13zM1128.2 1195.9l6.5 -11h-13zM1130.8 1196.3l6.5 -11h-13zM1133.4 1196.7l6.5 -11h-13zM1136 1197.1l6.5 -11h-13zM1138.6 1197.5l6.5 -11h-13zM1141.2 1197.8l6.5 -11h-13zM1143.8 1198.2l6.5 -11h-13zM1146.4 1198.6l6.5 -11h-13zM1149 1199l6.5 -11h-13zM1151.6 1199.4l6.5 -11h-13zM1154.2 1199.8l6.5 -11h-13zM1156.8 1200.2l6.5 -11h-13zM1159.4 1200.6l6.5 -11h-13zM1162 1201l6.5 -11h-13zM1164.6 1201.4l6.5 -11h-13zM1167.2 1201.7l6.5 -11h-13zM1169.8 1202.1l6.5 -11h-13zM1172.4 1202.5l6.5 -11h-13zM1175 1202.9l6.5 -11h-13zM1177.6 1203.3l6.5 -11h-13zM1180.2 1203.7l6.5 -11h-13zM1182.8 1204.1l6.5 -11h-13zM1185.4 1204.5l6.5 -11h-13zM1188 1204.8l6.5 -11h-13zM1190.6 1205l6.5 -11h-13zM1193.2 1205.3l6.5 -11h-13zM1195.8 1205.5l6.5 -11h-13zM1198.4 1205.8l6.5 -11h-13zM1201 1206.1l6.5 -11h-13zM1203.6 1206.3l6.5 -11h-13zM1206.2 1206.6l6.5 -11h-13zM1208.8 1206.8l6.5 -11h-13zM1211.4 1207.1l6.5 -11h-13zM1214 1207.4l6.5 -11h-13zM1216.6 1207.6l6.5 -11h-13zM1219.2 1207.9l6.5 -11h-13zM1221.8 1208.1l6.5 -11h-13zM1224.4 1208.4l6.5 -11h-13zM1227 1208.7l6.5 -11h-13zM1229.6 1208.9l6.5 -11h-13zM1232.2 1209.2l6.5 -11h-13zM1234.8 1209.4l6.5 -11h-13zM1237.4 1209.7l6.5 -11h-13zM1240 1210l6.5 -11h-13zM1242.6 1210.2l6.5 -11h-13zM1245.2 1210.5l6.5 -11h-13zM1247.8 1210.7l6.5 -11h-13zM1250.4 1211l6.5 -11h-13zM1253 1211.3l6.5 -11h-13zM1255.6 1211.5l6.5 -11h-13zM1258.2 1211.7l6.5 -11h-13zM1260.8 1211.9l6.5 -11h-13zM1263.4 1212l6.5 -11h-13zM1266 1212.1l6.5 -11h-13zM1268.6 1212.3l6.5 -11h-13zM1271.2 1212.4l6.5 -11h-13zM1273.8 1212.5l6.5 -11h-13zM1276.4 1212.7l6.5 -11h-13zM1279 1212.8l6.5 -11h-13zM1281.6 1213l6.5 -11h-13zM1284.2 1213.1l6.5 -11h-13zM1286.8 1213.2l6.5 -11h-13zM1289.4 1213.4l6.5 -11h-13zM1292 1213.5l6.5 -11h-13zM1294.6 1213.6l6.5 -11h-13zM1297.2 1213.8l6.5 -11h-13zM1299.8 1213.9l6.5 -11h-13zM1302.4 1214l6.5 -11h-13zM1305 1214l6.5 -11h-13zM1307.6 1214l6.5 -11h-13zM1310.2 1214l6.5 -11h-13zM1312.8 1214.1l6.5 -11h-13zM1315.4 1214.1l6.5 -11h-13zM1318 1214.1l6.5 -11h-13zM1320.6 1214.1l6.5 -11h-13zM1323.2 1214.2l6.5 -11h-13zM1325.8 1214.2l6.5 -11h-13zM1328.4 1214.2l6.5 -11h-13zM1331 1214.3l6.5 -11h-13zM1333.6 1214.3l6.5 -11h-13zM1336.2 1214.3l6.5 -11h-13zM1338.8 1214.3l6.5 -11h-13zM1341.4 1214.4l6.5 -11h-13zM1344 1214.4l6.5 -11h-13zM1346.6 1214.4l6.5 -11h-13zM1349.2 1214.4l6.5 -11h-13zM1351.8 1214.5l6.5 -11h-13zM1354.4 1214.5l6.5 -11h-13zM1357 1214.5l6.5 -11h-13zM1359.6 1214.6l6.5 -11h-13zM1362.2 1214.6l6.5 -11h-13zM1364.8 1214.6l6.5 -11h-13zM1367.4 1214.6l6.5 -11h-13zM1370 1214.7l6.5 -11h-13zM1372.6 1214.7l6.5 -11h-13zM1375.2 1214.7l6.5 -11h-13zM1377.8 1214.7l6.5 -11h-13zM1380.4 1214.8l6.5 -11h-13zM1383 1214.8l6.5 -11h-13zM1385.6 1214.8l6.5 -11h-13zM1388.2 1214.9l6.5 -11h-13zM1390.8 1214.9l6.5 -11h-13zM1393.4 1214.9l6.5 -11h-13zM1396 1214.9l6.5 -11h-13zM1398.6 1215l6.5 -11h-13zM1401.2 1215l6.5 -11h-13zM1403.8 1215l6.5 -11h-13zM1406.4 1215l6.5 -11h-13zM1409 1215.1l6.5 -11h-13zM1411.6 1215.1l6.5 -11h-13zM1414.2 1215.1l6.5 -11h-13zM1416.8 1215.1l6.5 -11h-13zM1419.4 1215.2l6.5 -11h-13zM1422 1215.2l6.5 -11h-13zM1424.6 1215.2l6.5 -11h-13zM1427.2 1215.2l6.5 -11h-13zM1429.8 1215.2l6.5 -11h-13zM1432.4 1215.3l6.5 -11h-13zM1435 1215.3l6.5 -11h-13zM1437.6 1215.3l6.5 -11h-13zM1440.2 1215.3l6.5 -11h-13zM1442.8 1215.3l6.5 -11h-13zM1445.4 1215.4l6.5 -11h-13zM1448 1215.4l6.5 -11h-13zM1450.6 1215.4l6.5 -11h-13zM1453.2 1215.4l6.5 -11h-13zM1455.8 1215.4l6.5 -11h-13zM1458.4 1215.5l6.5 -11h-13zM1461 1215.5l6.5 -11h-13zM1463.6 1215.5l6.5 -11h-13zM1466.2 1215.5l6.5 -11h-13zM1468.8 1215.6l6.5 -11h-13zM1471.4 1215.6l6.5 -11h-13zM1474 1215.6l6.5 -11h-13zM1476.6 1215.6l6.5 -11h-13zM1479.2 1215.6l6.5 -11h-13zM1481.8 1215.7l6.5 -11h-13zM1484.4 1215.7l6.5 -11h-13zM1487 1215.7l6.5 -11h-13zM1489.6 1215.7l6.5 -11h-13zM1492.2 1215.7l6.5 -11h-13zM1494.8 1215.8l6.5 -11h-13zM1497.4 1215.8l6.5 -11h-13zM1500 1215.8l6.5 -11h-13zM1502.6 1215.8l6.5 -11h-13zM1505.2 1215.8l6.5 -11h-13zM1507.8 1215.9l6.5 -11h-13zM1510.4 1215.9l6.5 -11h-13zM1513 1215.9l6.5 -11h-13zM1515.6 1215.9l6.5 -11h-13zM1518.2 1215.9l6.5 -11h-13zM1520.8 1216l6.5 -11h-13zM1523.4 1216l6.5 -11h-13zM1526 1216l6.5 -11h-13zM1528.6 1216l6.5 -11h-13zM1531.2 1216l6.5 -11h-13zM1533.8 1216.1l6.5 -11h-13zM1536.4 1216.1l6.5 -11h-13zM1539 1216.1l6.5 -11h-13zM1541.6 1216.1l6.5 -11h-13zM1544.2 1216.1l6.5 -11h-13zM1546.8 1216.2l6.5 -11h-13zM1549.4 1216.2l6.5 -11h-13zM1552 1216.2l6.5 -11h-13zM1554.6 1216.2l6.5 -11h-13zM1557.2 1216.2l6.5 -11h-13zM1559.8 1216.3l6.5 -11h-13zM1562.4 1216.3l6.5 -11h-13zM1565 1216.3l6.5 -11h-13zM1567.6 1216.3l6.5 -11h-13zM1570.2 1216.3l6.5 -11h-13zM1572.8 1216.4l6.5 -11h-13zM1575.4 1216.4l6.5 -11h-13zM1578 1216.4l6.5 -11h-13zM1580.6 1216.4l6.5 -11h-13zM1583.2 1216.4l6.5 -11h-13zM1585.8 1216.5l6.5 -11h-13zM1588.4 1216.5l6.5 -11h-13zM1591 1216.5l6.5 -11h-13zM1593.6 1216.5l6.5 -11h-13zM1596.2 1216.5l6.5 -11h-13zM1598.8 1216.6l6.5 -11h-13zM1601.4 1216.6l6.5 -11h-13zM1604 1216.6l6.5 -11h-13zM1606.6 1216.6l6.5 -11h-13zM1609.2 1216.6l6.5 -11h-13zM1611.8 1216.7l6.5 -11h-13zM1614.4 1216.7l6.5 -11h-13zM1617 1216.7l6.5 -11h-13zM1619.6 1216.7l6.5 -11h-13zM1622.2 1216.7l6.5 -11h-13zM1624.8 1216.8l6.5 -11h-13zM1627.4 1216.8l6.5 -11h-13zM1630 1216.8l6.5 -11h-13zM1632.6 1216.8l6.5 -11h-13zM1635.2 1216.8l6.5 -11h-13zM1637.8 1216.9l6.5 -11h-13zM1640.4 1216.9l6.5 -11h-13z" fill="#37AD6B" stroke="none"/>
<polyline points="211,167 427.6,167 434.3,169 443.8,177 447.1,185 449.2,194.5 451.9,214.7 453.9,233.6 457.3,247 462.6,260.5 469.4,276.7 474.8,290.2 475,305 476,317 480.5,322.5 486,327 497,332.5 513.5,338 531,345 546,350.5 560.5,355.4 587.8,363.3 614.8,372.8 641.7,383.6 661.9,391.6 680,402 693.5,408.5 707,416.6 720.4,426 733.9,438.2 747.4,451.6 760.9,467.8 774.3,488 787.8,510.9 798.6,532.5 806.7,548.7 810.1,560 818.1,580 818.1,580 830.2,620.4 840.4,660.9 848.4,701.3 858.5,741.7 866.6,782.2 874.7,822.6 884.8,863 889,870 894.1,900.3 902.2,930.6 910.2,961 918.3,991.3 926.4,1021.6 934.5,1051.9 942.6,1080.2 950.7,1104.5 960.8,1130.8 972.9,1147 987.1,1153 1000,1157.1 1020.8,1163.7 1091.5,1171.9 1185.8,1177.8 1300,1181.4 1439.6,1184.8 1539.4,1186.8 1646,1188.6" stroke="#B177DE" stroke-width="7" />
<path d="M213 160.5l6.5 6.5l-6.5 6.5l-6.5 -6.5zM215.6 160.5l6.5 6.5l-6.5 6.5l-6.5 -6.5zM218.2 160.5l6.5 6.5l-6.5 6.5l-6.5 -6.5zM220.8 160.5l6.5 6.5l-6.5 6.5l-6.5 -6.5zM223.4 160.5l6.5 6.5l-6.5 6.5l-6.5 -6.5zM226 160.5l6.5 6.5l-6.5 6.5l-6.5 -6.5zM228.6 160.5l6.5 6.5l-6.5 6.5l-6.5 -6.5zM231.2 160.5l6.5 6.5l-6.5 6.5l-6.5 -6.5zM233.8 160.5l6.5 6.5l-6.5 6.5l-6.5 -6.5zM236.4 160.5l6.5 6.5l-6.5 6.5l-6.5 -6.5zM239 160.5l6.5 6.5l-6.5 6.5l-6.5 -6.5zM241.6 160.5l6.5 6.5l-6.5 6.5l-6.5 -6.5zM244.2 160.5l6.5 6.5l-6.5 6.5l-6.5 -6.5zM246.8 160.5l6.5 6.5l-6.5 6.5l-6.5 -6.5zM249.4 160.5l6.5 6.5l-6.5 6.5l-6.5 -6.5zM252 160.5l6.5 6.5l-6.5 6.5l-6.5 -6.5zM254.6 160.5l6.5 6.5l-6.5 6.5l-6.5 -6.5zM257.2 160.5l6.5 6.5l-6.5 6.5l-6.5 -6.5zM259.8 160.5l6.5 6.5l-6.5 6.5l-6.5 -6.5zM262.4 160.5l6.5 6.5l-6.5 6.5l-6.5 -6.5zM265 160.5l6.5 6.5l-6.5 6.5l-6.5 -6.5zM267.6 160.5l6.5 6.5l-6.5 6.5l-6.5 -6.5zM270.2 160.5l6.5 6.5l-6.5 6.5l-6.5 -6.5zM272.8 160.5l6.5 6.5l-6.5 6.5l-6.5 -6.5zM275.4 160.5l6.5 6.5l-6.5 6.5l-6.5 -6.5zM278 160.5l6.5 6.5l-6.5 6.5l-6.5 -6.5zM280.6 160.5l6.5 6.5l-6.5 6.5l-6.5 -6.5zM283.2 160.5l6.5 6.5l-6.5 6.5l-6.5 -6.5zM285.8 160.5l6.5 6.5l-6.5 6.5l-6.5 -6.5zM288.4 160.5l6.5 6.5l-6.5 6.5l-6.5 -6.5zM291 160.5l6.5 6.5l-6.5 6.5l-6.5 -6.5zM293.6 160.5l6.5 6.5l-6.5 6.5l-6.5 -6.5zM296.2 160.5l6.5 6.5l-6.5 6.5l-6.5 -6.5zM298.8 160.5l6.5 6.5l-6.5 6.5l-6.5 -6.5zM301.4 160.5l6.5 6.5l-6.5 6.5l-6.5 -6.5zM304 160.5l6.5 6.5l-6.5 6.5l-6.5 -6.5zM306.6 160.5l6.5 6.5l-6.5 6.5l-6.5 -6.5zM309.2 160.5l6.5 6.5l-6.5 6.5l-6.5 -6.5zM311.8 160.5l6.5 6.5l-6.5 6.5l-6.5 -6.5zM314.4 160.5l6.5 6.5l-6.5 6.5l-6.5 -6.5zM317 160.5l6.5 6.5l-6.5 6.5l-6.5 -6.5zM319.6 160.5l6.5 6.5l-6.5 6.5l-6.5 -6.5zM322.2 160.5l6.5 6.5l-6.5 6.5l-6.5 -6.5zM324.8 160.5l6.5 6.5l-6.5 6.5l-6.5 -6.5zM327.4 160.5l6.5 6.5l-6.5 6.5l-6.5 -6.5zM330 160.5l6.5 6.5l-6.5 6.5l-6.5 -6.5zM332.6 160.5l6.5 6.5l-6.5 6.5l-6.5 -6.5zM335.2 160.5l6.5 6.5l-6.5 6.5l-6.5 -6.5zM337.8 160.5l6.5 6.5l-6.5 6.5l-6.5 -6.5zM340.4 160.5l6.5 6.5l-6.5 6.5l-6.5 -6.5zM343 160.5l6.5 6.5l-6.5 6.5l-6.5 -6.5zM345.6 160.5l6.5 6.5l-6.5 6.5l-6.5 -6.5zM348.2 160.5l6.5 6.5l-6.5 6.5l-6.5 -6.5zM350.8 160.5l6.5 6.5l-6.5 6.5l-6.5 -6.5zM353.4 160.5l6.5 6.5l-6.5 6.5l-6.5 -6.5zM356 160.5l6.5 6.5l-6.5 6.5l-6.5 -6.5zM358.6 160.5l6.5 6.5l-6.5 6.5l-6.5 -6.5zM361.2 160.5l6.5 6.5l-6.5 6.5l-6.5 -6.5zM363.8 160.5l6.5 6.5l-6.5 6.5l-6.5 -6.5zM366.4 160.5l6.5 6.5l-6.5 6.5l-6.5 -6.5zM369 160.5l6.5 6.5l-6.5 6.5l-6.5 -6.5zM371.6 160.5l6.5 6.5l-6.5 6.5l-6.5 -6.5zM374.2 160.5l6.5 6.5l-6.5 6.5l-6.5 -6.5zM376.8 160.5l6.5 6.5l-6.5 6.5l-6.5 -6.5zM379.4 160.5l6.5 6.5l-6.5 6.5l-6.5 -6.5zM382 160.5l6.5 6.5l-6.5 6.5l-6.5 -6.5zM384.6 160.5l6.5 6.5l-6.5 6.5l-6.5 -6.5zM387.2 160.5l6.5 6.5l-6.5 6.5l-6.5 -6.5zM389.8 160.5l6.5 6.5l-6.5 6.5l-6.5 -6.5zM392.4 160.5l6.5 6.5l-6.5 6.5l-6.5 -6.5zM395 160.5l6.5 6.5l-6.5 6.5l-6.5 -6.5zM397.6 160.5l6.5 6.5l-6.5 6.5l-6.5 -6.5zM400.2 160.5l6.5 6.5l-6.5 6.5l-6.5 -6.5zM402.8 160.5l6.5 6.5l-6.5 6.5l-6.5 -6.5zM405.4 160.5l6.5 6.5l-6.5 6.5l-6.5 -6.5zM408 160.5l6.5 6.5l-6.5 6.5l-6.5 -6.5zM410.6 160.5l6.5 6.5l-6.5 6.5l-6.5 -6.5zM413.2 160.5l6.5 6.5l-6.5 6.5l-6.5 -6.5zM415.8 160.5l6.5 6.5l-6.5 6.5l-6.5 -6.5zM418.4 160.5l6.5 6.5l-6.5 6.5l-6.5 -6.5zM421 160.5l6.5 6.5l-6.5 6.5l-6.5 -6.5zM423.6 160.5l6.5 6.5l-6.5 6.5l-6.5 -6.5zM426.2 160.5l6.5 6.5l-6.5 6.5l-6.5 -6.5zM428.8 160.9l6.5 6.5l-6.5 6.5l-6.5 -6.5zM431.4 161.6l6.5 6.5l-6.5 6.5l-6.5 -6.5zM434 162.4l6.5 6.5l-6.5 6.5l-6.5 -6.5zM436.6 164.4l6.5 6.5l-6.5 6.5l-6.5 -6.5zM439.2 166.6l6.5 6.5l-6.5 6.5l-6.5 -6.5zM441.8 168.8l6.5 6.5l-6.5 6.5l-6.5 -6.5zM444.4 172l6.5 6.5l-6.5 6.5l-6.5 -6.5zM447 178.3l6.5 6.5l-6.5 6.5l-6.5 -6.5zM449.6 191l6.5 6.5l-6.5 6.5l-6.5 -6.5zM452.2 211l6.5 6.5l-6.5 6.5l-6.5 -6.5zM454.8 230.6l6.5 6.5l-6.5 6.5l-6.5 -6.5zM457.4 240.8l6.5 6.5l-6.5 6.5l-6.5 -6.5zM460 247.4l6.5 6.5l-6.5 6.5l-6.5 -6.5zM462.6 254l6.5 6.5l-6.5 6.5l-6.5 -6.5zM465.2 260.2l6.5 6.5l-6.5 6.5l-6.5 -6.5zM467.8 266.4l6.5 6.5l-6.5 6.5l-6.5 -6.5zM470.4 272.7l6.5 6.5l-6.5 6.5l-6.5 -6.5zM473 279.2l6.5 6.5l-6.5 6.5l-6.5 -6.5zM475.6 305.7l6.5 6.5l-6.5 6.5l-6.5 -6.5zM478.2 313.2l6.5 6.5l-6.5 6.5l-6.5 -6.5zM480.8 316.2l6.5 6.5l-6.5 6.5l-6.5 -6.5zM483.4 318.4l6.5 6.5l-6.5 6.5l-6.5 -6.5zM486 320.5l6.5 6.5l-6.5 6.5l-6.5 -6.5zM488.6 321.8l6.5 6.5l-6.5 6.5l-6.5 -6.5zM491.2 323.1l6.5 6.5l-6.5 6.5l-6.5 -6.5zM493.8 324.4l6.5 6.5l-6.5 6.5l-6.5 -6.5zM496.4 325.7l6.5 6.5l-6.5 6.5l-6.5 -6.5zM499 326.7l6.5 6.5l-6.5 6.5l-6.5 -6.5zM501.6 327.5l6.5 6.5l-6.5 6.5l-6.5 -6.5zM504.2 328.4l6.5 6.5l-6.5 6.5l-6.5 -6.5zM506.8 329.3l6.5 6.5l-6.5 6.5l-6.5 -6.5zM509.4 330.1l6.5 6.5l-6.5 6.5l-6.5 -6.5zM512 331l6.5 6.5l-6.5 6.5l-6.5 -6.5zM514.6 331.9l6.5 6.5l-6.5 6.5l-6.5 -6.5zM517.2 333l6.5 6.5l-6.5 6.5l-6.5 -6.5zM519.8 334l6.5 6.5l-6.5 6.5l-6.5 -6.5zM522.4 335.1l6.5 6.5l-6.5 6.5l-6.5 -6.5zM525 336.1l6.5 6.5l-6.5 6.5l-6.5 -6.5zM527.6 337.1l6.5 6.5l-6.5 6.5l-6.5 -6.5zM530.2 338.2l6.5 6.5l-6.5 6.5l-6.5 -6.5zM532.8 339.2l6.5 6.5l-6.5 6.5l-6.5 -6.5zM535.4 340.1l6.5 6.5l-6.5 6.5l-6.5 -6.5zM538 341.1l6.5 6.5l-6.5 6.5l-6.5 -6.5zM540.6 342l6.5 6.5l-6.5 6.5l-6.5 -6.5zM543.2 343l6.5 6.5l-6.5 6.5l-6.5 -6.5zM545.8 343.9l6.5 6.5l-6.5 6.5l-6.5 -6.5zM548.4 344.8l6.5 6.5l-6.5 6.5l-6.5 -6.5zM551 345.7l6.5 6.5l-6.5 6.5l-6.5 -6.5zM553.6 346.6l6.5 6.5l-6.5 6.5l-6.5 -6.5zM556.2 347.4l6.5 6.5l-6.5 6.5l-6.5 -6.5zM558.8 348.3l6.5 6.5l-6.5 6.5l-6.5 -6.5zM561.4 349.2l6.5 6.5l-6.5 6.5l-6.5 -6.5zM564 349.9l6.5 6.5l-6.5 6.5l-6.5 -6.5zM566.6 350.7l6.5 6.5l-6.5 6.5l-6.5 -6.5zM569.2 351.4l6.5 6.5l-6.5 6.5l-6.5 -6.5zM571.8 352.2l6.5 6.5l-6.5 6.5l-6.5 -6.5zM574.4 352.9l6.5 6.5l-6.5 6.5l-6.5 -6.5zM577 353.7l6.5 6.5l-6.5 6.5l-6.5 -6.5zM579.6 354.4l6.5 6.5l-6.5 6.5l-6.5 -6.5zM582.2 355.2l6.5 6.5l-6.5 6.5l-6.5 -6.5zM584.8 355.9l6.5 6.5l-6.5 6.5l-6.5 -6.5zM587.4 356.7l6.5 6.5l-6.5 6.5l-6.5 -6.5zM590 357.6l6.5 6.5l-6.5 6.5l-6.5 -6.5zM592.6 358.5l6.5 6.5l-6.5 6.5l-6.5 -6.5zM595.2 359.4l6.5 6.5l-6.5 6.5l-6.5 -6.5zM597.8 360.3l6.5 6.5l-6.5 6.5l-6.5 -6.5zM600.4 361.2l6.5 6.5l-6.5 6.5l-6.5 -6.5zM603 362.1l6.5 6.5l-6.5 6.5l-6.5 -6.5zM605.6 363.1l6.5 6.5l-6.5 6.5l-6.5 -6.5zM608.2 364l6.5 6.5l-6.5 6.5l-6.5 -6.5zM610.8 364.9l6.5 6.5l-6.5 6.5l-6.5 -6.5zM613.4 365.8l6.5 6.5l-6.5 6.5l-6.5 -6.5zM616 366.8l6.5 6.5l-6.5 6.5l-6.5 -6.5zM618.6 367.8l6.5 6.5l-6.5 6.5l-6.5 -6.5zM621.2 368.9l6.5 6.5l-6.5 6.5l-6.5 -6.5zM623.8 369.9l6.5 6.5l-6.5 6.5l-6.5 -6.5zM626.4 371l6.5 6.5l-6.5 6.5l-6.5 -6.5zM629 372l6.5 6.5l-6.5 6.5l-6.5 -6.5zM631.6 373l6.5 6.5l-6.5 6.5l-6.5 -6.5zM634.2 374.1l6.5 6.5l-6.5 6.5l-6.5 -6.5zM636.8 375.1l6.5 6.5l-6.5 6.5l-6.5 -6.5zM639.4 376.2l6.5 6.5l-6.5 6.5l-6.5 -6.5zM642 377.2l6.5 6.5l-6.5 6.5l-6.5 -6.5zM644.6 378.2l6.5 6.5l-6.5 6.5l-6.5 -6.5zM647.2 379.3l6.5 6.5l-6.5 6.5l-6.5 -6.5zM649.8 380.3l6.5 6.5l-6.5 6.5l-6.5 -6.5zM652.4 381.3l6.5 6.5l-6.5 6.5l-6.5 -6.5zM655 382.4l6.5 6.5l-6.5 6.5l-6.5 -6.5zM657.6 383.4l6.5 6.5l-6.5 6.5l-6.5 -6.5zM660.2 384.4l6.5 6.5l-6.5 6.5l-6.5 -6.5zM662.8 385.6l6.5 6.5l-6.5 6.5l-6.5 -6.5zM665.4 387.1l6.5 6.5l-6.5 6.5l-6.5 -6.5zM668 388.6l6.5 6.5l-6.5 6.5l-6.5 -6.5zM670.6 390.1l6.5 6.5l-6.5 6.5l-6.5 -6.5zM673.2 391.6l6.5 6.5l-6.5 6.5l-6.5 -6.5zM675.8 393.1l6.5 6.5l-6.5 6.5l-6.5 -6.5zM678.4 394.6l6.5 6.5l-6.5 6.5l-6.5 -6.5zM681 396l6.5 6.5l-6.5 6.5l-6.5 -6.5zM683.6 397.2l6.5 6.5l-6.5 6.5l-6.5 -6.5zM686.2 398.5l6.5 6.5l-6.5 6.5l-6.5 -6.5zM688.8 399.7l6.5 6.5l-6.5 6.5l-6.5 -6.5zM691.4 401l6.5 6.5l-6.5 6.5l-6.5 -6.5zM694 402.3l6.5 6.5l-6.5 6.5l-6.5 -6.5zM696.6 403.9l6.5 6.5l-6.5 6.5l-6.5 -6.5zM699.2 405.4l6.5 6.5l-6.5 6.5l-6.5 -6.5zM701.8 407l6.5 6.5l-6.5 6.5l-6.5 -6.5zM704.4 408.5l6.5 6.5l-6.5 6.5l-6.5 -6.5zM707 410.1l6.5 6.5l-6.5 6.5l-6.5 -6.5zM709.6 411.9l6.5 6.5l-6.5 6.5l-6.5 -6.5zM712.2 413.7l6.5 6.5l-6.5 6.5l-6.5 -6.5zM714.8 415.6l6.5 6.5l-6.5 6.5l-6.5 -6.5zM717.4 417.4l6.5 6.5l-6.5 6.5l-6.5 -6.5zM720 419.2l6.5 6.5l-6.5 6.5l-6.5 -6.5zM722.6 421.5l6.5 6.5l-6.5 6.5l-6.5 -6.5zM725.2 423.8l6.5 6.5l-6.5 6.5l-6.5 -6.5zM727.8 426.2l6.5 6.5l-6.5 6.5l-6.5 -6.5zM730.4 428.5l6.5 6.5l-6.5 6.5l-6.5 -6.5zM733 430.9l6.5 6.5l-6.5 6.5l-6.5 -6.5zM735.6 433.4l6.5 6.5l-6.5 6.5l-6.5 -6.5zM738.2 436l6.5 6.5l-6.5 6.5l-6.5 -6.5zM740.8 438.5l6.5 6.5l-6.5 6.5l-6.5 -6.5zM743.4 441.1l6.5 6.5l-6.5 6.5l-6.5 -6.5zM746 443.7l6.5 6.5l-6.5 6.5l-6.5 -6.5zM748.6 446.5l6.5 6.5l-6.5 6.5l-6.5 -6.5zM751.2 449.7l6.5 6.5l-6.5 6.5l-6.5 -6.5zM753.8 452.8l6.5 6.5l-6.5 6.5l-6.5 -6.5zM756.4 455.9l6.5 6.5l-6.5 6.5l-6.5 -6.5zM759 459l6.5 6.5l-6.5 6.5l-6.5 -6.5zM761.6 462.4l6.5 6.5l-6.5 6.5l-6.5 -6.5zM764.2 466.3l6.5 6.5l-6.5 6.5l-6.5 -6.5zM766.8 470.2l6.5 6.5l-6.5 6.5l-6.5 -6.5zM769.4 474.1l6.5 6.5l-6.5 6.5l-6.5 -6.5zM772 478l6.5 6.5l-6.5 6.5l-6.5 -6.5zM774.6 482l6.5 6.5l-6.5 6.5l-6.5 -6.5zM777.2 486.4l6.5 6.5l-6.5 6.5l-6.5 -6.5zM779.8 490.8l6.5 6.5l-6.5 6.5l-6.5 -6.5zM782.4 495.2l6.5 6.5l-6.5 6.5l-6.5 -6.5zM785 499.7l6.5 6.5l-6.5 6.5l-6.5 -6.5zM787.6 504.1l6.5 6.5l-6.5 6.5l-6.5 -6.5zM790.2 509.2l6.5 6.5l-6.5 6.5l-6.5 -6.5zM792.8 514.4l6.5 6.5l-6.5 6.5l-6.5 -6.5zM795.4 519.6l6.5 6.5l-6.5 6.5l-6.5 -6.5zM798 524.8l6.5 6.5l-6.5 6.5l-6.5 -6.5zM800.6 530l6.5 6.5l-6.5 6.5l-6.5 -6.5zM803.2 535.2l6.5 6.5l-6.5 6.5l-6.5 -6.5zM805.8 540.4l6.5 6.5l-6.5 6.5l-6.5 -6.5zM808.4 547.9l6.5 6.5l-6.5 6.5l-6.5 -6.5zM811 555.8l6.5 6.5l-6.5 6.5l-6.5 -6.5zM813.6 562.3l6.5 6.5l-6.5 6.5l-6.5 -6.5zM816.2 568.8l6.5 6.5l-6.5 6.5l-6.5 -6.5zM818.8 575.8l6.5 6.5l-6.5 6.5l-6.5 -6.5zM821.4 584.5l6.5 6.5l-6.5 6.5l-6.5 -6.5zM824 593.2l6.5 6.5l-6.5 6.5l-6.5 -6.5zM826.6 601.9l6.5 6.5l-6.5 6.5l-6.5 -6.5zM829.2 610.6l6.5 6.5l-6.5 6.5l-6.5 -6.5zM831.8 620.3l6.5 6.5l-6.5 6.5l-6.5 -6.5zM834.4 630.6l6.5 6.5l-6.5 6.5l-6.5 -6.5zM837 640.9l6.5 6.5l-6.5 6.5l-6.5 -6.5zM839.6 651.2l6.5 6.5l-6.5 6.5l-6.5 -6.5zM842.2 663.5l6.5 6.5l-6.5 6.5l-6.5 -6.5zM844.8 676.6l6.5 6.5l-6.5 6.5l-6.5 -6.5zM847.4 689.8l6.5 6.5l-6.5 6.5l-6.5 -6.5zM850 701.2l6.5 6.5l-6.5 6.5l-6.5 -6.5zM852.6 711.6l6.5 6.5l-6.5 6.5l-6.5 -6.5zM855.2 722l6.5 6.5l-6.5 6.5l-6.5 -6.5zM857.8 732.4l6.5 6.5l-6.5 6.5l-6.5 -6.5zM860.4 744.7l6.5 6.5l-6.5 6.5l-6.5 -6.5zM863 757.7l6.5 6.5l-6.5 6.5l-6.5 -6.5zM865.6 770.7l6.5 6.5l-6.5 6.5l-6.5 -6.5zM868.2 783.7l6.5 6.5l-6.5 6.5l-6.5 -6.5zM870.8 796.6l6.5 6.5l-6.5 6.5l-6.5 -6.5zM873.4 809.6l6.5 6.5l-6.5 6.5l-6.5 -6.5zM876 821.3l6.5 6.5l-6.5 6.5l-6.5 -6.5zM878.6 831.7l6.5 6.5l-6.5 6.5l-6.5 -6.5zM881.2 842.1l6.5 6.5l-6.5 6.5l-6.5 -6.5zM883.8 852.5l6.5 6.5l-6.5 6.5l-6.5 -6.5zM886.4 859.2l6.5 6.5l-6.5 6.5l-6.5 -6.5zM889 863.5l6.5 6.5l-6.5 6.5l-6.5 -6.5zM891.6 878.9l6.5 6.5l-6.5 6.5l-6.5 -6.5zM894.2 894.2l6.5 6.5l-6.5 6.5l-6.5 -6.5zM896.8 903.9l6.5 6.5l-6.5 6.5l-6.5 -6.5zM899.4 913.6l6.5 6.5l-6.5 6.5l-6.5 -6.5zM902 923.4l6.5 6.5l-6.5 6.5l-6.5 -6.5zM904.6 933.2l6.5 6.5l-6.5 6.5l-6.5 -6.5zM907.2 943.1l6.5 6.5l-6.5 6.5l-6.5 -6.5zM909.8 953l6.5 6.5l-6.5 6.5l-6.5 -6.5zM912.4 962.7l6.5 6.5l-6.5 6.5l-6.5 -6.5zM915 972.5l6.5 6.5l-6.5 6.5l-6.5 -6.5zM917.6 982.2l6.5 6.5l-6.5 6.5l-6.5 -6.5zM920.2 991.9l6.5 6.5l-6.5 6.5l-6.5 -6.5zM922.8 1001.6l6.5 6.5l-6.5 6.5l-6.5 -6.5zM925.4 1011.4l6.5 6.5l-6.5 6.5l-6.5 -6.5zM928 1021.1l6.5 6.5l-6.5 6.5l-6.5 -6.5zM930.6 1030.8l6.5 6.5l-6.5 6.5l-6.5 -6.5zM933.2 1040.5l6.5 6.5l-6.5 6.5l-6.5 -6.5zM935.8 1049.9l6.5 6.5l-6.5 6.5l-6.5 -6.5zM938.4 1059l6.5 6.5l-6.5 6.5l-6.5 -6.5zM941 1068.1l6.5 6.5l-6.5 6.5l-6.5 -6.5zM943.6 1076.7l6.5 6.5l-6.5 6.5l-6.5 -6.5zM946.2 1084.5l6.5 6.5l-6.5 6.5l-6.5 -6.5zM948.8 1092.3l6.5 6.5l-6.5 6.5l-6.5 -6.5zM951.4 1099.8l6.5 6.5l-6.5 6.5l-6.5 -6.5zM954 1106.6l6.5 6.5l-6.5 6.5l-6.5 -6.5zM956.6 1113.4l6.5 6.5l-6.5 6.5l-6.5 -6.5zM959.2 1120.1l6.5 6.5l-6.5 6.5l-6.5 -6.5zM961.8 1125.6l6.5 6.5l-6.5 6.5l-6.5 -6.5zM964.4 1129.1l6.5 6.5l-6.5 6.5l-6.5 -6.5zM967 1132.6l6.5 6.5l-6.5 6.5l-6.5 -6.5zM969.6 1136.1l6.5 6.5l-6.5 6.5l-6.5 -6.5zM972.2 1139.6l6.5 6.5l-6.5 6.5l-6.5 -6.5zM974.8 1141.3l6.5 6.5l-6.5 6.5l-6.5 -6.5zM977.4 1142.4l6.5 6.5l-6.5 6.5l-6.5 -6.5zM980 1143.5l6.5 6.5l-6.5 6.5l-6.5 -6.5zM982.6 1144.6l6.5 6.5l-6.5 6.5l-6.5 -6.5zM985.2 1145.7l6.5 6.5l-6.5 6.5l-6.5 -6.5zM987.8 1146.7l6.5 6.5l-6.5 6.5l-6.5 -6.5zM990.4 1147.5l6.5 6.5l-6.5 6.5l-6.5 -6.5zM993 1148.4l6.5 6.5l-6.5 6.5l-6.5 -6.5zM995.6 1149.2l6.5 6.5l-6.5 6.5l-6.5 -6.5zM998.2 1150l6.5 6.5l-6.5 6.5l-6.5 -6.5zM1000.8 1150.9l6.5 6.5l-6.5 6.5l-6.5 -6.5zM1003.4 1151.7l6.5 6.5l-6.5 6.5l-6.5 -6.5zM1006 1152.5l6.5 6.5l-6.5 6.5l-6.5 -6.5zM1008.6 1153.3l6.5 6.5l-6.5 6.5l-6.5 -6.5zM1011.2 1154.2l6.5 6.5l-6.5 6.5l-6.5 -6.5zM1013.8 1155l6.5 6.5l-6.5 6.5l-6.5 -6.5zM1016.4 1155.8l6.5 6.5l-6.5 6.5l-6.5 -6.5zM1019 1156.6l6.5 6.5l-6.5 6.5l-6.5 -6.5zM1021.6 1157.3l6.5 6.5l-6.5 6.5l-6.5 -6.5zM1024.2 1157.6l6.5 6.5l-6.5 6.5l-6.5 -6.5zM1026.8 1157.9l6.5 6.5l-6.5 6.5l-6.5 -6.5zM1029.4 1158.2l6.5 6.5l-6.5 6.5l-6.5 -6.5zM1032 1158.5l6.5 6.5l-6.5 6.5l-6.5 -6.5zM1034.6 1158.8l6.5 6.5l-6.5 6.5l-6.5 -6.5zM1037.2 1159.1l6.5 6.5l-6.5 6.5l-6.5 -6.5zM1039.8 1159.4l6.5 6.5l-6.5 6.5l-6.5 -6.5zM1042.4 1159.7l6.5 6.5l-6.5 6.5l-6.5 -6.5zM1045 1160l6.5 6.5l-6.5 6.5l-6.5 -6.5zM1047.6 1160.3l6.5 6.5l-6.5 6.5l-6.5 -6.5zM1050.2 1160.6l6.5 6.5l-6.5 6.5l-6.5 -6.5zM1052.8 1160.9l6.5 6.5l-6.5 6.5l-6.5 -6.5zM1055.4 1161.2l6.5 6.5l-6.5 6.5l-6.5 -6.5zM1058 1161.5l6.5 6.5l-6.5 6.5l-6.5 -6.5zM1060.6 1161.8l6.5 6.5l-6.5 6.5l-6.5 -6.5zM1063.2 1162.1l6.5 6.5l-6.5 6.5l-6.5 -6.5zM1065.8 1162.4l6.5 6.5l-6.5 6.5l-6.5 -6.5zM1068.4 1162.7l6.5 6.5l-6.5 6.5l-6.5 -6.5zM1071 1163l6.5 6.5l-6.5 6.5l-6.5 -6.5zM1073.6 1163.3l6.5 6.5l-6.5 6.5l-6.5 -6.5zM1076.2 1163.6l6.5 6.5l-6.5 6.5l-6.5 -6.5zM1078.8 1163.9l6.5 6.5l-6.5 6.5l-6.5 -6.5zM1081.4 1164.2l6.5 6.5l-6.5 6.5l-6.5 -6.5zM1084 1164.5l6.5 6.5l-6.5 6.5l-6.5 -6.5zM1086.6 1164.8l6.5 6.5l-6.5 6.5l-6.5 -6.5zM1089.2 1165.1l6.5 6.5l-6.5 6.5l-6.5 -6.5zM1091.8 1165.4l6.5 6.5l-6.5 6.5l-6.5 -6.5zM1094.4 1165.6l6.5 6.5l-6.5 6.5l-6.5 -6.5zM1097 1165.7l6.5 6.5l-6.5 6.5l-6.5 -6.5zM1099.6 1165.9l6.5 6.5l-6.5 6.5l-6.5 -6.5zM1102.2 1166.1l6.5 6.5l-6.5 6.5l-6.5 -6.5zM1104.8 1166.2l6.5 6.5l-6.5 6.5l-6.5 -6.5zM1107.4 1166.4l6.5 6.5l-6.5 6.5l-6.5 -6.5zM1110 1166.6l6.5 6.5l-6.5 6.5l-6.5 -6.5zM1112.6 1166.7l6.5 6.5l-6.5 6.5l-6.5 -6.5zM1115.2 1166.9l6.5 6.5l-6.5 6.5l-6.5 -6.5zM1117.8 1167l6.5 6.5l-6.5 6.5l-6.5 -6.5zM1120.4 1167.2l6.5 6.5l-6.5 6.5l-6.5 -6.5zM1123 1167.4l6.5 6.5l-6.5 6.5l-6.5 -6.5zM1125.6 1167.5l6.5 6.5l-6.5 6.5l-6.5 -6.5zM1128.2 1167.7l6.5 6.5l-6.5 6.5l-6.5 -6.5zM1130.8 1167.9l6.5 6.5l-6.5 6.5l-6.5 -6.5zM1133.4 1168l6.5 6.5l-6.5 6.5l-6.5 -6.5zM1136 1168.2l6.5 6.5l-6.5 6.5l-6.5 -6.5zM1138.6 1168.3l6.5 6.5l-6.5 6.5l-6.5 -6.5zM1141.2 1168.5l6.5 6.5l-6.5 6.5l-6.5 -6.5zM1143.8 1168.7l6.5 6.5l-6.5 6.5l-6.5 -6.5zM1146.4 1168.8l6.5 6.5l-6.5 6.5l-6.5 -6.5zM1149 1169l6.5 6.5l-6.5 6.5l-6.5 -6.5zM1151.6 1169.2l6.5 6.5l-6.5 6.5l-6.5 -6.5zM1154.2 1169.3l6.5 6.5l-6.5 6.5l-6.5 -6.5zM1156.8 1169.5l6.5 6.5l-6.5 6.5l-6.5 -6.5zM1159.4 1169.6l6.5 6.5l-6.5 6.5l-6.5 -6.5zM1162 1169.8l6.5 6.5l-6.5 6.5l-6.5 -6.5zM1164.6 1170l6.5 6.5l-6.5 6.5l-6.5 -6.5zM1167.2 1170.1l6.5 6.5l-6.5 6.5l-6.5 -6.5zM1169.8 1170.3l6.5 6.5l-6.5 6.5l-6.5 -6.5zM1172.4 1170.5l6.5 6.5l-6.5 6.5l-6.5 -6.5zM1175 1170.6l6.5 6.5l-6.5 6.5l-6.5 -6.5zM1177.6 1170.8l6.5 6.5l-6.5 6.5l-6.5 -6.5zM1180.2 1170.9l6.5 6.5l-6.5 6.5l-6.5 -6.5zM1182.8 1171.1l6.5 6.5l-6.5 6.5l-6.5 -6.5zM1185.4 1171.3l6.5 6.5l-6.5 6.5l-6.5 -6.5zM1188 1171.4l6.5 6.5l-6.5 6.5l-6.5 -6.5zM1190.6 1171.5l6.5 6.5l-6.5 6.5l-6.5 -6.5zM1193.2 1171.5l6.5 6.5l-6.5 6.5l-6.5 -6.5zM1195.8 1171.6l6.5 6.5l-6.5 6.5l-6.5 -6.5zM1198.4 1171.7l6.5 6.5l-6.5 6.5l-6.5 -6.5zM1201 1171.8l6.5 6.5l-6.5 6.5l-6.5 -6.5zM1203.6 1171.9l6.5 6.5l-6.5 6.5l-6.5 -6.5zM1206.2 1171.9l6.5 6.5l-6.5 6.5l-6.5 -6.5zM1208.8 1172l6.5 6.5l-6.5 6.5l-6.5 -6.5zM1211.4 1172.1l6.5 6.5l-6.5 6.5l-6.5 -6.5zM1214 1172.2l6.5 6.5l-6.5 6.5l-6.5 -6.5zM1216.6 1172.3l6.5 6.5l-6.5 6.5l-6.5 -6.5zM1219.2 1172.4l6.5 6.5l-6.5 6.5l-6.5 -6.5zM1221.8 1172.4l6.5 6.5l-6.5 6.5l-6.5 -6.5zM1224.4 1172.5l6.5 6.5l-6.5 6.5l-6.5 -6.5zM1227 1172.6l6.5 6.5l-6.5 6.5l-6.5 -6.5zM1229.6 1172.7l6.5 6.5l-6.5 6.5l-6.5 -6.5zM1232.2 1172.8l6.5 6.5l-6.5 6.5l-6.5 -6.5zM1234.8 1172.8l6.5 6.5l-6.5 6.5l-6.5 -6.5zM1237.4 1172.9l6.5 6.5l-6.5 6.5l-6.5 -6.5zM1240 1173l6.5 6.5l-6.5 6.5l-6.5 -6.5zM1242.6 1173.1l6.5 6.5l-6.5 6.5l-6.5 -6.5zM1245.2 1173.2l6.5 6.5l-6.5 6.5l-6.5 -6.5zM1247.8 1173.3l6.5 6.5l-6.5 6.5l-6.5 -6.5zM1250.4 1173.3l6.5 6.5l-6.5 6.5l-6.5 -6.5zM1253 1173.4l6.5 6.5l-6.5 6.5l-6.5 -6.5zM1255.6 1173.5l6.5 6.5l-6.5 6.5l-6.5 -6.5zM1258.2 1173.6l6.5 6.5l-6.5 6.5l-6.5 -6.5zM1260.8 1173.7l6.5 6.5l-6.5 6.5l-6.5 -6.5zM1263.4 1173.7l6.5 6.5l-6.5 6.5l-6.5 -6.5zM1266 1173.8l6.5 6.5l-6.5 6.5l-6.5 -6.5zM1268.6 1173.9l6.5 6.5l-6.5 6.5l-6.5 -6.5zM1271.2 1174l6.5 6.5l-6.5 6.5l-6.5 -6.5zM1273.8 1174.1l6.5 6.5l-6.5 6.5l-6.5 -6.5zM1276.4 1174.2l6.5 6.5l-6.5 6.5l-6.5 -6.5zM1279 1174.2l6.5 6.5l-6.5 6.5l-6.5 -6.5zM1281.6 1174.3l6.5 6.5l-6.5 6.5l-6.5 -6.5zM1284.2 1174.4l6.5 6.5l-6.5 6.5l-6.5 -6.5zM1286.8 1174.5l6.5 6.5l-6.5 6.5l-6.5 -6.5zM1289.4 1174.6l6.5 6.5l-6.5 6.5l-6.5 -6.5zM1292 1174.6l6.5 6.5l-6.5 6.5l-6.5 -6.5zM1294.6 1174.7l6.5 6.5l-6.5 6.5l-6.5 -6.5zM1297.2 1174.8l6.5 6.5l-6.5 6.5l-6.5 -6.5zM1299.8 1174.9l6.5 6.5l-6.5 6.5l-6.5 -6.5zM1302.4 1175l6.5 6.5l-6.5 6.5l-6.5 -6.5zM1305 1175l6.5 6.5l-6.5 6.5l-6.5 -6.5zM1307.6 1175.1l6.5 6.5l-6.5 6.5l-6.5 -6.5zM1310.2 1175.1l6.5 6.5l-6.5 6.5l-6.5 -6.5zM1312.8 1175.2l6.5 6.5l-6.5 6.5l-6.5 -6.5zM1315.4 1175.3l6.5 6.5l-6.5 6.5l-6.5 -6.5zM1318 1175.3l6.5 6.5l-6.5 6.5l-6.5 -6.5zM1320.6 1175.4l6.5 6.5l-6.5 6.5l-6.5 -6.5zM1323.2 1175.5l6.5 6.5l-6.5 6.5l-6.5 -6.5zM1325.8 1175.5l6.5 6.5l-6.5 6.5l-6.5 -6.5zM1328.4 1175.6l6.5 6.5l-6.5 6.5l-6.5 -6.5zM1331 1175.7l6.5 6.5l-6.5 6.5l-6.5 -6.5zM1333.6 1175.7l6.5 6.5l-6.5 6.5l-6.5 -6.5zM1336.2 1175.8l6.5 6.5l-6.5 6.5l-6.5 -6.5zM1338.8 1175.8l6.5 6.5l-6.5 6.5l-6.5 -6.5zM1341.4 1175.9l6.5 6.5l-6.5 6.5l-6.5 -6.5zM1344 1176l6.5 6.5l-6.5 6.5l-6.5 -6.5zM1346.6 1176l6.5 6.5l-6.5 6.5l-6.5 -6.5zM1349.2 1176.1l6.5 6.5l-6.5 6.5l-6.5 -6.5zM1351.8 1176.2l6.5 6.5l-6.5 6.5l-6.5 -6.5zM1354.4 1176.2l6.5 6.5l-6.5 6.5l-6.5 -6.5zM1357 1176.3l6.5 6.5l-6.5 6.5l-6.5 -6.5zM1359.6 1176.4l6.5 6.5l-6.5 6.5l-6.5 -6.5zM1362.2 1176.4l6.5 6.5l-6.5 6.5l-6.5 -6.5zM1364.8 1176.5l6.5 6.5l-6.5 6.5l-6.5 -6.5zM1367.4 1176.5l6.5 6.5l-6.5 6.5l-6.5 -6.5zM1370 1176.6l6.5 6.5l-6.5 6.5l-6.5 -6.5zM1372.6 1176.7l6.5 6.5l-6.5 6.5l-6.5 -6.5zM1375.2 1176.7l6.5 6.5l-6.5 6.5l-6.5 -6.5zM1377.8 1176.8l6.5 6.5l-6.5 6.5l-6.5 -6.5zM1380.4 1176.9l6.5 6.5l-6.5 6.5l-6.5 -6.5zM1383 1176.9l6.5 6.5l-6.5 6.5l-6.5 -6.5zM1385.6 1177l6.5 6.5l-6.5 6.5l-6.5 -6.5zM1388.2 1177l6.5 6.5l-6.5 6.5l-6.5 -6.5zM1390.8 1177.1l6.5 6.5l-6.5 6.5l-6.5 -6.5zM1393.4 1177.2l6.5 6.5l-6.5 6.5l-6.5 -6.5zM1396 1177.2l6.5 6.5l-6.5 6.5l-6.5 -6.5zM1398.6 1177.3l6.5 6.5l-6.5 6.5l-6.5 -6.5zM1401.2 1177.4l6.5 6.5l-6.5 6.5l-6.5 -6.5zM1403.8 1177.4l6.5 6.5l-6.5 6.5l-6.5 -6.5zM1406.4 1177.5l6.5 6.5l-6.5 6.5l-6.5 -6.5zM1409 1177.6l6.5 6.5l-6.5 6.5l-6.5 -6.5zM1411.6 1177.6l6.5 6.5l-6.5 6.5l-6.5 -6.5zM1414.2 1177.7l6.5 6.5l-6.5 6.5l-6.5 -6.5zM1416.8 1177.7l6.5 6.5l-6.5 6.5l-6.5 -6.5zM1419.4 1177.8l6.5 6.5l-6.5 6.5l-6.5 -6.5zM1422 1177.9l6.5 6.5l-6.5 6.5l-6.5 -6.5zM1424.6 1177.9l6.5 6.5l-6.5 6.5l-6.5 -6.5zM1427.2 1178l6.5 6.5l-6.5 6.5l-6.5 -6.5zM1429.8 1178.1l6.5 6.5l-6.5 6.5l-6.5 -6.5zM1432.4 1178.1l6.5 6.5l-6.5 6.5l-6.5 -6.5zM1435 1178.2l6.5 6.5l-6.5 6.5l-6.5 -6.5zM1437.6 1178.3l6.5 6.5l-6.5 6.5l-6.5 -6.5zM1440.2 1178.3l6.5 6.5l-6.5 6.5l-6.5 -6.5zM1442.8 1178.4l6.5 6.5l-6.5 6.5l-6.5 -6.5zM1445.4 1178.4l6.5 6.5l-6.5 6.5l-6.5 -6.5zM1448 1178.5l6.5 6.5l-6.5 6.5l-6.5 -6.5zM1450.6 1178.5l6.5 6.5l-6.5 6.5l-6.5 -6.5zM1453.2 1178.6l6.5 6.5l-6.5 6.5l-6.5 -6.5zM1455.8 1178.6l6.5 6.5l-6.5 6.5l-6.5 -6.5zM1458.4 1178.7l6.5 6.5l-6.5 6.5l-6.5 -6.5zM1461 1178.7l6.5 6.5l-6.5 6.5l-6.5 -6.5zM1463.6 1178.8l6.5 6.5l-6.5 6.5l-6.5 -6.5zM1466.2 1178.8l6.5 6.5l-6.5 6.5l-6.5 -6.5zM1468.8 1178.9l6.5 6.5l-6.5 6.5l-6.5 -6.5zM1471.4 1178.9l6.5 6.5l-6.5 6.5l-6.5 -6.5zM1474 1179l6.5 6.5l-6.5 6.5l-6.5 -6.5zM1476.6 1179l6.5 6.5l-6.5 6.5l-6.5 -6.5zM1479.2 1179.1l6.5 6.5l-6.5 6.5l-6.5 -6.5zM1481.8 1179.1l6.5 6.5l-6.5 6.5l-6.5 -6.5zM1484.4 1179.2l6.5 6.5l-6.5 6.5l-6.5 -6.5zM1487 1179.2l6.5 6.5l-6.5 6.5l-6.5 -6.5zM1489.6 1179.3l6.5 6.5l-6.5 6.5l-6.5 -6.5zM1492.2 1179.4l6.5 6.5l-6.5 6.5l-6.5 -6.5zM1494.8 1179.4l6.5 6.5l-6.5 6.5l-6.5 -6.5zM1497.4 1179.5l6.5 6.5l-6.5 6.5l-6.5 -6.5zM1500 1179.5l6.5 6.5l-6.5 6.5l-6.5 -6.5zM1502.6 1179.6l6.5 6.5l-6.5 6.5l-6.5 -6.5zM1505.2 1179.6l6.5 6.5l-6.5 6.5l-6.5 -6.5zM1507.8 1179.7l6.5 6.5l-6.5 6.5l-6.5 -6.5zM1510.4 1179.7l6.5 6.5l-6.5 6.5l-6.5 -6.5zM1513 1179.8l6.5 6.5l-6.5 6.5l-6.5 -6.5zM1515.6 1179.8l6.5 6.5l-6.5 6.5l-6.5 -6.5zM1518.2 1179.9l6.5 6.5l-6.5 6.5l-6.5 -6.5zM1520.8 1179.9l6.5 6.5l-6.5 6.5l-6.5 -6.5zM1523.4 1180l6.5 6.5l-6.5 6.5l-6.5 -6.5zM1526 1180l6.5 6.5l-6.5 6.5l-6.5 -6.5zM1528.6 1180.1l6.5 6.5l-6.5 6.5l-6.5 -6.5zM1531.2 1180.1l6.5 6.5l-6.5 6.5l-6.5 -6.5zM1533.8 1180.2l6.5 6.5l-6.5 6.5l-6.5 -6.5zM1536.4 1180.2l6.5 6.5l-6.5 6.5l-6.5 -6.5zM1539 1180.3l6.5 6.5l-6.5 6.5l-6.5 -6.5zM1541.6 1180.3l6.5 6.5l-6.5 6.5l-6.5 -6.5zM1544.2 1180.4l6.5 6.5l-6.5 6.5l-6.5 -6.5zM1546.8 1180.4l6.5 6.5l-6.5 6.5l-6.5 -6.5zM1549.4 1180.5l6.5 6.5l-6.5 6.5l-6.5 -6.5zM1552 1180.5l6.5 6.5l-6.5 6.5l-6.5 -6.5zM1554.6 1180.6l6.5 6.5l-6.5 6.5l-6.5 -6.5zM1557.2 1180.6l6.5 6.5l-6.5 6.5l-6.5 -6.5zM1559.8 1180.6l6.5 6.5l-6.5 6.5l-6.5 -6.5zM1562.4 1180.7l6.5 6.5l-6.5 6.5l-6.5 -6.5zM1565 1180.7l6.5 6.5l-6.5 6.5l-6.5 -6.5zM1567.6 1180.8l6.5 6.5l-6.5 6.5l-6.5 -6.5zM1570.2 1180.8l6.5 6.5l-6.5 6.5l-6.5 -6.5zM1572.8 1180.9l6.5 6.5l-6.5 6.5l-6.5 -6.5zM1575.4 1180.9l6.5 6.5l-6.5 6.5l-6.5 -6.5zM1578 1181l6.5 6.5l-6.5 6.5l-6.5 -6.5zM1580.6 1181l6.5 6.5l-6.5 6.5l-6.5 -6.5zM1583.2 1181l6.5 6.5l-6.5 6.5l-6.5 -6.5zM1585.8 1181.1l6.5 6.5l-6.5 6.5l-6.5 -6.5zM1588.4 1181.1l6.5 6.5l-6.5 6.5l-6.5 -6.5zM1591 1181.2l6.5 6.5l-6.5 6.5l-6.5 -6.5zM1593.6 1181.2l6.5 6.5l-6.5 6.5l-6.5 -6.5zM1596.2 1181.3l6.5 6.5l-6.5 6.5l-6.5 -6.5zM1598.8 1181.3l6.5 6.5l-6.5 6.5l-6.5 -6.5zM1601.4 1181.3l6.5 6.5l-6.5 6.5l-6.5 -6.5zM1604 1181.4l6.5 6.5l-6.5 6.5l-6.5 -6.5zM1606.6 1181.4l6.5 6.5l-6.5 6.5l-6.5 -6.5zM1609.2 1181.5l6.5 6.5l-6.5 6.5l-6.5 -6.5zM1611.8 1181.5l6.5 6.5l-6.5 6.5l-6.5 -6.5zM1614.4 1181.6l6.5 6.5l-6.5 6.5l-6.5 -6.5zM1617 1181.6l6.5 6.5l-6.5 6.5l-6.5 -6.5zM1619.6 1181.7l6.5 6.5l-6.5 6.5l-6.5 -6.5zM1622.2 1181.7l6.5 6.5l-6.5 6.5l-6.5 -6.5zM1624.8 1181.7l6.5 6.5l-6.5 6.5l-6.5 -6.5zM1627.4 1181.8l6.5 6.5l-6.5 6.5l-6.5 -6.5zM1630 1181.8l6.5 6.5l-6.5 6.5l-6.5 -6.5zM1632.6 1181.9l6.5 6.5l-6.5 6.5l-6.5 -6.5zM1635.2 1181.9l6.5 6.5l-6.5 6.5l-6.5 -6.5zM1637.8 1182l6.5 6.5l-6.5 6.5l-6.5 -6.5zM1640.4 1182l6.5 6.5l-6.5 6.5l-6.5 -6.5z" fill="#B177DE" stroke="none"/>
</g>
<g fill="none">
<line x1="212.9" y1="162.5" x2="1165" y2="162.5" stroke="#0000FF" stroke-width="6.8" stroke-dasharray="29.7 25.55"/>
<line x1="211.3" y1="317.6" x2="1330" y2="319.85" stroke="#FF0000" stroke-width="6.8" stroke-dasharray="29.7 25.55"/>
<line x1="215" y1="1138.5" x2="1459" y2="1138.5" stroke="#000000" stroke-width="6.8" stroke-dasharray="29.7 25.55"/>
<line x1="1055.3" y1="162" x2="1055.3" y2="321.5" stroke="#0000FF" stroke-width="7"/>
<line x1="1111.3" y1="321" x2="1112.4" y2="1136" stroke="#FF0000" stroke-width="7"/>
<line x1="1437.5" y1="1144" x2="1437.5" y2="1208.7" stroke="#000000" stroke-width="7"/>
</g>
<g font-family="Liberation Serif, 'Times New Roman', serif" font-size="50" fill="#000">
<text x="174" y="1229.3" text-anchor="end">0</text>
<text x="174" y="1019.8" text-anchor="end">20</text>
<text x="174" y="810.3" text-anchor="end">40</text>
<text x="174" y="600.9" text-anchor="end">60</text>
<text x="174" y="391.4" text-anchor="end">80</text>
<text x="174" y="181.9" text-anchor="end">100</text>
<text x="544.0" y="1292" text-anchor="middle">200</text>
<text x="894.5" y="1292" text-anchor="middle">300</text>
<text x="1245.0" y="1292" text-anchor="middle">400</text>
<text x="1595.5" y="1292" text-anchor="middle">500</text>
</g>
<text font-family="Liberation Serif, 'Times New Roman', serif" font-size="64" transform="translate(739,1378.8) scale(0.948,1)">Temperature (°C)</text>
<text font-family="Liberation Serif, 'Times New Roman', serif" font-size="62" transform="translate(75,740) rotate(-90)">Mass (%)</text>
<text font-family="Liberation Serif, 'Times New Roman', serif" font-size="64" fill="#0000FF" transform="translate(1132,257.4) scale(0.935,1)">Stage 1</text>
<text font-family="Liberation Serif, 'Times New Roman', serif" font-size="64" fill="#FF0000" transform="translate(1173,544.7) scale(0.947,1)">Stage 2</text>
<text font-family="Liberation Serif, 'Times New Roman', serif" font-size="64" fill="#000" transform="translate(1497.5,1089) scale(0.931,1)">Stage 3</text>
<rect x="1445.9" y="509.3" width="422.1" height="399.2" fill="#fff" stroke="#000" stroke-width="2.6"/>
<line x1="1455" y1="553.9" x2="1596" y2="553.9" stroke="#515151" stroke-width="6.5" stroke-linecap="round"/>
<text font-family="Liberation Serif, 'Times New Roman', serif" font-size="66" transform="translate(1611,575.5) scale(0.935,1)">0.5°C/min</text>
<path d="M1520.5 549.4h9v9h-9z" fill="#515151"/>
<line x1="1455" y1="633.1" x2="1596" y2="633.1" stroke="#F14040" stroke-width="6.5" stroke-linecap="round"/>
<text font-family="Liberation Serif, 'Times New Roman', serif" font-size="66" transform="translate(1611,654.7) scale(0.935,1)">1.0°C/min</text>
<path d="M1520.2 633.1a4.8 4.8 0 1 0 9.5 0a4.8 4.8 0 1 0 -9.5 0" fill="#F14040"/>
<line x1="1455" y1="713.3" x2="1596" y2="713.3" stroke="#1A6FDF" stroke-width="6.5" stroke-linecap="round"/>
<text font-family="Liberation Serif, 'Times New Roman', serif" font-size="66" transform="translate(1611,734.9) scale(0.935,1)">2.0°C/min</text>
<path d="M1525 708.7l4.5 7.6h-9z" fill="#1A6FDF"/>
<line x1="1455" y1="793.0" x2="1596" y2="793.0" stroke="#37AD6B" stroke-width="6.5" stroke-linecap="round"/>
<text font-family="Liberation Serif, 'Times New Roman', serif" font-size="66" transform="translate(1611,814.6) scale(0.935,1)">4.0°C/min</text>
<path d="M1525 798.1l5 -8.5h-10z" fill="#37AD6B"/>
<line x1="1455" y1="872.2" x2="1596" y2="872.2" stroke="#B177DE" stroke-width="6.5" stroke-linecap="round"/>
<text font-family="Liberation Serif, 'Times New Roman', serif" font-size="66" transform="translate(1611,893.8) scale(0.935,1)">8.0°C/min</text>
<path d="M1525 866.7l5.5 5.5l-5.5 5.5l-5.5 -5.5z" fill="#B177DE"/>
<g stroke="#000" stroke-width="5" fill="none">
<line x1="212.5" y1="1779" x2="212.5" y2="2969.5"/>
<line x1="210" y1="2967.1" x2="1646.6" y2="2967.1"/>
<line x1="189" y1="2887.1" x2="212" y2="2887.1"/>
<line x1="189" y1="2671.3" x2="212" y2="2671.3"/>
<line x1="189" y1="2455.5" x2="212" y2="2455.5"/>
<line x1="189" y1="2239.7" x2="212" y2="2239.7"/>
<line x1="189" y1="2023.9" x2="212" y2="2023.9"/>
<line x1="189" y1="1808.1" x2="212" y2="1808.1"/>
<line x1="201" y1="2779.2" x2="212" y2="2779.2"/>
<line x1="201" y1="2563.4" x2="212" y2="2563.4"/>
<line x1="201" y1="2347.6" x2="212" y2="2347.6"/>
<line x1="201" y1="2131.8" x2="212" y2="2131.8"/>
<line x1="201" y1="1916.0" x2="212" y2="1916.0"/>
<line x1="647.3" y1="2967" x2="647.3" y2="2991.5"/>
<line x1="1571.7" y1="2967" x2="1571.7" y2="2991.5"/>
<line x1="1109.5" y1="2967" x2="1109.5" y2="2978.5"/>
</g>
<g fill="none" stroke-linejoin="round" stroke-linecap="butt" clip-path="url(#cb)">
<polyline points="211,2888.5 340,2888.5 356.2,2879.3 369.1,2872 380.4,2857.5 386.9,2841.3 391.8,2817 395.8,2792.8 399,2768.5 400.2,2750 403.6,2684.8 407,2617.4 409,2550 411.9,2484.8 414.4,2417.4 416.7,2350 418.8,2284.8 420.4,2217.4 422.5,2150 425.1,2084.8 428,2020 431,1972 433,2020 433.2,2084.8 435.3,2150 435.9,2217.4 437.3,2284.8 438.6,2350 438.5,2417.4 440.4,2484.8 442,2550 443.3,2617.4 446,2671.3 450.1,2698.2 457.3,2726.5 466.1,2752.3 474.2,2776.6 480.7,2800.9 487.2,2820.3 495.3,2836.4 503.3,2843.7 517.9,2842.9 534.1,2839.7 550.2,2833.2 566.4,2825.1 580,2820.3 589.4,2810 602.3,2803.5 615.3,2793.8 618.5,2776 620.1,2767.9 628.2,2769.5 639.5,2767.9 649.2,2763.1 654.1,2751.8 660.6,2742 667,2732.3 671.9,2719.4 678.4,2706.5 682.6,2700 687.5,2670.2 694,2654.1 700.4,2637.9 711.8,2634.7 721.5,2634.7 732.8,2639.5 740.9,2631.4 747.3,2618.5 752.2,2600.7 757,2578.1 761.9,2560.3 766.7,2544.1 771.6,2524.7 776.4,2506.9 780.5,2484.3 784.5,2471.3 788.6,2460 792.3,2440 794,2394.1 798.8,2369.8 805.3,2348.8 810.1,2329.4 815,2305.1 819.8,2280.9 824.7,2248.5 827.9,2224.3 832.3,2211.6 837.7,2195.5 845.3,2187.5 852.8,2193.3 856.1,2211.6 860.4,2227.8 862.5,2238.6 864.3,2272.8 868.4,2305.1 871.6,2337.5 874.8,2369.8 879.7,2410.2 880,2424.9 888.1,2444.3 897.8,2460.4 907.5,2470.1 918.8,2484.7 926.9,2473.4 933.4,2465.3 941.5,2468.5 947.9,2452.3 956,2449.1 960.9,2460.4 964.1,2476.6 967.3,2500.9 970.6,2533.2 973.8,2557.5 975.4,2581.7 977,2606 978.7,2630.2 980.3,2660 983.5,2708.5 987.5,2740.9 991.6,2765.1 996.4,2786.1 1004.5,2802.3 1017.5,2818.5 1033.6,2829.8 1049.8,2839.5 1066,2847.6 1090.2,2853.3 1120,2856.5 1132.3,2859.4 1164.7,2865.8 1197,2869.9 1229.4,2873.1 1261.7,2875.5 1302.2,2878.8 1340,2880.4 1500,2882.5 1646,2884" stroke="#515151" stroke-width="6.7" />
<path d="M208.5 2884h9v9h-9zM212 2884h9v9h-9zM215.5 2884h9v9h-9zM219 2884h9v9h-9zM222.5 2884h9v9h-9zM226 2884h9v9h-9zM229.5 2884h9v9h-9zM233 2884h9v9h-9zM236.5 2884h9v9h-9zM240 2884h9v9h-9zM243.5 2884h9v9h-9zM247 2884h9v9h-9zM250.5 2884h9v9h-9zM254 2884h9v9h-9zM257.5 2884h9v9h-9zM261 2884h9v9h-9zM264.5 2884h9v9h-9zM268 2884h9v9h-9zM271.5 2884h9v9h-9zM275 2884h9v9h-9zM278.5 2884h9v9h-9zM282 2884h9v9h-9zM285.5 2884h9v9h-9zM289 2884h9v9h-9zM292.5 2884h9v9h-9zM296 2884h9v9h-9zM299.5 2884h9v9h-9zM303 2884h9v9h-9zM306.5 2884h9v9h-9zM310 2884h9v9h-9zM313.5 2884h9v9h-9zM317 2884h9v9h-9zM320.5 2884h9v9h-9zM324 2884h9v9h-9zM327.5 2884h9v9h-9zM331 2884h9v9h-9zM334.5 2884h9v9h-9zM338 2882.6h9v9h-9zM341.5 2880.6h9v9h-9zM345 2878.6h9v9h-9zM348.5 2876.6h9v9h-9zM352 2874.6h9v9h-9zM355.5 2872.6h9v9h-9zM359 2870.7h9v9h-9zM362.5 2868.7h9v9h-9zM366 2865.7h9v9h-9zM369.5 2861.2h9v9h-9zM373 2856.7h9v9h-9zM376.5 2851.5h9v9h-9zM380 2842.8h9v9h-9zM383.5 2831.3h9v9h-9zM387 2814h9v9h-9zM390.5 2793.1h9v9h-9zM394 2767.8h9v9h-9zM397.5 2711h9v9h-9zM401 2642.6h9v9h-9zM404.5 2545.5h9v9h-9zM408 2464.1h9v9h-9zM411.5 2366h9v9h-9zM415 2250.8h9v9h-9zM418.5 2133h9v9h-9zM422 2049h9v9h-9zM425.5 1983.5h9v9h-9zM429 2089.6h9v9h-9zM432.5 2265.9h9v9h-9zM436 2484.4h9v9h-9zM439.5 2626.9h9v9h-9zM443 2676.6h9v9h-9zM446.5 2697.2h9v9h-9zM450 2711h9v9h-9zM453.5 2724.1h9v9h-9zM457 2734.3h9v9h-9zM460.5 2744.6h9v9h-9zM464 2755h9v9h-9zM467.5 2765.5h9v9h-9zM471 2777h9v9h-9zM474.5 2790h9v9h-9zM478 2801.8h9v9h-9zM481.5 2812.2h9v9h-9zM485 2820.4h9v9h-9zM488.5 2827.3h9v9h-9zM492 2833h9v9h-9zM495.5 2836.2h9v9h-9zM499 2839.2h9v9h-9zM502.5 2839h9v9h-9zM506 2838.8h9v9h-9zM509.5 2838.6h9v9h-9zM513 2838.4h9v9h-9zM516.5 2837.8h9v9h-9zM520 2837.1h9v9h-9zM523.5 2836.4h9v9h-9zM527 2835.7h9v9h-9zM530.5 2834.8h9v9h-9zM534 2833.4h9v9h-9zM537.5 2832h9v9h-9zM541 2830.6h9v9h-9zM544.5 2829.2h9v9h-9zM548 2827.5h9v9h-9zM551.5 2825.8h9v9h-9zM555 2824h9v9h-9zM558.5 2822.3h9v9h-9zM562 2820.6h9v9h-9zM565.5 2819.3h9v9h-9zM569 2818.1h9v9h-9zM572.5 2816.9h9v9h-9zM576 2815.3h9v9h-9zM579.5 2811.4h9v9h-9zM583 2807.6h9v9h-9zM586.5 2804.7h9v9h-9zM590 2802.9h9v9h-9zM593.5 2801.2h9v9h-9zM597 2799.4h9v9h-9zM600.5 2797h9v9h-9zM604 2794.4h9v9h-9zM607.5 2791.8h9v9h-9zM611 2788.2h9v9h-9zM614.5 2769h9v9h-9zM618 2763.9h9v9h-9zM621.5 2764.6h9v9h-9zM625 2764.8h9v9h-9zM628.5 2764.3h9v9h-9zM632 2763.8h9v9h-9zM635.5 2763.2h9v9h-9zM639 2761.4h9v9h-9zM642.5 2759.7h9v9h-9zM646 2755.6h9v9h-9zM649.5 2747.5h9v9h-9zM653 2742.2h9v9h-9zM656.5 2736.9h9v9h-9zM660 2731.6h9v9h-9zM663.5 2725.2h9v9h-9zM667 2716h9v9h-9zM670.5 2708.7h9v9h-9zM674 2701.8h9v9h-9zM677.5 2696.4h9v9h-9zM681 2677.9h9v9h-9zM684.5 2662h9v9h-9zM688 2653.3h9v9h-9zM691.5 2644.5h9v9h-9zM695 2635.7h9v9h-9zM698.5 2632.7h9v9h-9zM702 2631.7h9v9h-9zM705.5 2630.7h9v9h-9zM709 2630.2h9v9h-9zM712.5 2630.2h9v9h-9zM716 2630.2h9v9h-9zM719.5 2631.3h9v9h-9zM723 2632.7h9v9h-9zM726.5 2634.2h9v9h-9zM730 2633.3h9v9h-9zM733.5 2629.8h9v9h-9zM737 2625.7h9v9h-9zM740.5 2618.6h9v9h-9zM744 2609.6h9v9h-9zM747.5 2596.9h9v9h-9zM751 2580.7h9v9h-9zM754.5 2566.3h9v9h-9zM758 2553.8h9v9h-9zM761.5 2542h9v9h-9zM765 2528.5h9v9h-9zM768.5 2515h9v9h-9zM772 2501.8h9v9h-9zM775.5 2482.6h9v9h-9zM779 2470.1h9v9h-9zM782.5 2459.9h9v9h-9zM786 2445.2h9v9h-9zM789.5 2389.6h9v9h-9zM793 2371.9h9v9h-9zM796.5 2358.2h9v9h-9zM800 2346.9h9v9h-9zM803.5 2333.4h9v9h-9zM807 2318h9v9h-9zM810.5 2300.6h9v9h-9zM814 2283h9v9h-9zM817.5 2261.9h9v9h-9zM821 2238h9v9h-9zM824.5 2216.6h9v9h-9zM828 2206.5h9v9h-9zM831.5 2196.1h9v9h-9zM835 2189.1h9v9h-9zM838.5 2185.4h9v9h-9zM842 2183.9h9v9h-9zM845.5 2186.6h9v9h-9zM849 2192.7h9v9h-9zM852.5 2210.5h9v9h-9zM856 2223.8h9v9h-9zM859.5 2262.6h9v9h-9zM863 2293.5h9v9h-9zM866.5 2326.9h9v9h-9zM870 2362.3h9v9h-9zM873.5 2391.7h9v9h-9zM877 2424h9v9h-9zM880.5 2432.4h9v9h-9zM884 2440.5h9v9h-9zM887.5 2446.3h9v9h-9zM891 2452.1h9v9h-9zM894.5 2457.1h9v9h-9zM898 2460.6h9v9h-9zM901.5 2464.1h9v9h-9zM905 2468.2h9v9h-9zM908.5 2472.7h9v9h-9zM912 2477.2h9v9h-9zM915.5 2478.5h9v9h-9zM919 2473.6h9v9h-9zM922.5 2468.8h9v9h-9zM926 2464.4h9v9h-9zM929.5 2461h9v9h-9zM933 2462.4h9v9h-9zM936.5 2463.8h9v9h-9zM940 2456.4h9v9h-9zM943.5 2447.8h9v9h-9zM947 2446.4h9v9h-9zM950.5 2445h9v9h-9zM954 2450.4h9v9h-9zM957.5 2461.5h9v9h-9zM961 2482.7h9v9h-9zM964.5 2513h9v9h-9zM968 2543.1h9v9h-9zM971.5 2586.3h9v9h-9zM975 2640.6h9v9h-9zM978.5 2696.4h9v9h-9zM982 2728.3h9v9h-9zM985.5 2751.2h9v9h-9zM989 2768.9h9v9h-9zM992.5 2782.8h9v9h-9zM996 2789.8h9v9h-9zM999.5 2796.8h9v9h-9zM1003 2801.5h9v9h-9zM1006.5 2805.9h9v9h-9zM1010 2810.3h9v9h-9zM1013.5 2814.4h9v9h-9zM1017 2816.8h9v9h-9zM1020.5 2819.3h9v9h-9zM1024 2821.7h9v9h-9zM1027.5 2824.2h9v9h-9zM1031 2826.4h9v9h-9zM1034.5 2828.5h9v9h-9zM1038 2830.6h9v9h-9zM1041.5 2832.7h9v9h-9zM1045 2834.8h9v9h-9zM1048.5 2836.6h9v9h-9zM1052 2838.3h9v9h-9zM1055.5 2840.1h9v9h-9zM1059 2841.8h9v9h-9zM1062.5 2843.3h9v9h-9zM1066 2844.2h9v9h-9zM1069.5 2845h9v9h-9zM1073 2845.8h9v9h-9zM1076.5 2846.6h9v9h-9zM1080 2847.5h9v9h-9zM1083.5 2848.3h9v9h-9zM1087 2848.9h9v9h-9zM1090.5 2849.3h9v9h-9zM1094 2849.7h9v9h-9zM1097.5 2850.1h9v9h-9zM1101 2850.4h9v9h-9zM1104.5 2850.8h9v9h-9zM1108 2851.2h9v9h-9zM1111.5 2851.6h9v9h-9zM1115 2851.9h9v9h-9zM1118.5 2852.7h9v9h-9zM1122 2853.5h9v9h-9zM1125.5 2854.4h9v9h-9zM1129 2855.1h9v9h-9zM1132.5 2855.8h9v9h-9zM1136 2856.5h9v9h-9zM1139.5 2857.2h9v9h-9zM1143 2857.9h9v9h-9zM1146.5 2858.6h9v9h-9zM1150 2859.3h9v9h-9zM1153.5 2860h9v9h-9zM1157 2860.7h9v9h-9zM1160.5 2861.3h9v9h-9zM1164 2861.8h9v9h-9zM1167.5 2862.2h9v9h-9zM1171 2862.7h9v9h-9zM1174.5 2863.1h9v9h-9zM1178 2863.6h9v9h-9zM1181.5 2864h9v9h-9zM1185 2864.4h9v9h-9zM1188.5 2864.9h9v9h-9zM1192 2865.3h9v9h-9zM1195.5 2865.7h9v9h-9zM1199 2866h9v9h-9zM1202.5 2866.4h9v9h-9zM1206 2866.7h9v9h-9zM1209.5 2867.1h9v9h-9zM1213 2867.4h9v9h-9zM1216.5 2867.8h9v9h-9zM1220 2868.1h9v9h-9zM1223.5 2868.5h9v9h-9zM1227 2868.8h9v9h-9zM1230.5 2869h9v9h-9zM1234 2869.3h9v9h-9zM1237.5 2869.5h9v9h-9zM1241 2869.8h9v9h-9zM1244.5 2870.1h9v9h-9zM1248 2870.3h9v9h-9zM1251.5 2870.6h9v9h-9zM1255 2870.8h9v9h-9zM1258.5 2871.1h9v9h-9zM1262 2871.4h9v9h-9zM1265.5 2871.7h9v9h-9zM1269 2872h9v9h-9zM1272.5 2872.2h9v9h-9zM1276 2872.5h9v9h-9zM1279.5 2872.8h9v9h-9zM1283 2873.1h9v9h-9zM1286.5 2873.4h9v9h-9zM1290 2873.7h9v9h-9zM1293.5 2874h9v9h-9zM1297 2874.2h9v9h-9zM1300.5 2874.4h9v9h-9zM1304 2874.6h9v9h-9zM1307.5 2874.7h9v9h-9zM1311 2874.9h9v9h-9zM1314.5 2875h9v9h-9zM1318 2875.2h9v9h-9zM1321.5 2875.3h9v9h-9zM1325 2875.5h9v9h-9zM1328.5 2875.6h9v9h-9zM1332 2875.8h9v9h-9zM1335.5 2875.9h9v9h-9zM1339 2875.9h9v9h-9zM1342.5 2876h9v9h-9zM1346 2876h9v9h-9zM1349.5 2876.1h9v9h-9zM1353 2876.1h9v9h-9zM1356.5 2876.2h9v9h-9zM1360 2876.2h9v9h-9zM1363.5 2876.3h9v9h-9zM1367 2876.3h9v9h-9zM1370.5 2876.4h9v9h-9zM1374 2876.4h9v9h-9zM1377.5 2876.5h9v9h-9zM1381 2876.5h9v9h-9zM1384.5 2876.5h9v9h-9zM1388 2876.6h9v9h-9zM1391.5 2876.6h9v9h-9zM1395 2876.7h9v9h-9zM1398.5 2876.7h9v9h-9zM1402 2876.8h9v9h-9zM1405.5 2876.8h9v9h-9zM1409 2876.9h9v9h-9zM1412.5 2876.9h9v9h-9zM1416 2877h9v9h-9zM1419.5 2877h9v9h-9zM1423 2877h9v9h-9zM1426.5 2877.1h9v9h-9zM1430 2877.1h9v9h-9zM1433.5 2877.2h9v9h-9zM1437 2877.2h9v9h-9zM1440.5 2877.3h9v9h-9zM1444 2877.3h9v9h-9zM1447.5 2877.4h9v9h-9zM1451 2877.4h9v9h-9zM1454.5 2877.5h9v9h-9zM1458 2877.5h9v9h-9zM1461.5 2877.6h9v9h-9zM1465 2877.6h9v9h-9zM1468.5 2877.6h9v9h-9zM1472 2877.7h9v9h-9zM1475.5 2877.7h9v9h-9zM1479 2877.8h9v9h-9zM1482.5 2877.8h9v9h-9zM1486 2877.9h9v9h-9zM1489.5 2877.9h9v9h-9zM1493 2878h9v9h-9zM1496.5 2878h9v9h-9zM1500 2878h9v9h-9zM1503.5 2878.1h9v9h-9zM1507 2878.1h9v9h-9zM1510.5 2878.2h9v9h-9zM1514 2878.2h9v9h-9zM1517.5 2878.2h9v9h-9zM1521 2878.3h9v9h-9zM1524.5 2878.3h9v9h-9zM1528 2878.3h9v9h-9zM1531.5 2878.4h9v9h-9zM1535 2878.4h9v9h-9zM1538.5 2878.4h9v9h-9zM1542 2878.5h9v9h-9zM1545.5 2878.5h9v9h-9zM1549 2878.5h9v9h-9zM1552.5 2878.6h9v9h-9zM1556 2878.6h9v9h-9zM1559.5 2878.7h9v9h-9zM1563 2878.7h9v9h-9zM1566.5 2878.7h9v9h-9zM1570 2878.8h9v9h-9zM1573.5 2878.8h9v9h-9zM1577 2878.8h9v9h-9zM1580.5 2878.9h9v9h-9zM1584 2878.9h9v9h-9zM1587.5 2878.9h9v9h-9zM1591 2879h9v9h-9zM1594.5 2879h9v9h-9zM1598 2879.1h9v9h-9zM1601.5 2879.1h9v9h-9zM1605 2879.1h9v9h-9zM1608.5 2879.2h9v9h-9zM1612 2879.2h9v9h-9zM1615.5 2879.2h9v9h-9zM1619 2879.3h9v9h-9zM1622.5 2879.3h9v9h-9zM1626 2879.3h9v9h-9zM1629.5 2879.4h9v9h-9zM1633 2879.4h9v9h-9zM1636.5 2879.4h9v9h-9z" fill="#515151" stroke="none"/>
<polyline points="211,2885 350,2885 372.3,2877.7 388.5,2870.4 401.5,2860.7 409.5,2846.1 414.4,2825.1 419.2,2792.8 423.3,2760.4 425.8,2750 429.9,2684.8 433.9,2617.4 436.8,2550 439.3,2484.8 442.7,2417.4 445.4,2350 447.4,2284.8 449.4,2217.4 452.6,2150 456,2080 459.8,2013 462.5,2080 463.3,2150 464.2,2217.4 465.6,2284.8 466.3,2350 466.3,2417.4 466.8,2484.8 469.5,2550 470.3,2617.4 471.6,2684.8 474.2,2720 475.8,2752.3 480.7,2766.9 492,2770.1 498.5,2781.5 505,2792.8 514.7,2804.1 522.8,2817 534.1,2831.6 550.2,2841.3 566.4,2844.5 580,2842.9 586.2,2839.1 602.3,2832.6 618.5,2821.3 620.1,2808.4 623.4,2800.3 629.8,2800.3 637.9,2805.1 644.4,2801.9 655.7,2797 670.3,2790.6 683.2,2780.9 694.5,2767.9 702.6,2751.8 709.1,2735.6 717.2,2719.4 725.3,2704.9 728.2,2700 731.2,2678.3 737.6,2662.2 742.5,2650.8 750.6,2650.8 758.7,2662.2 766.7,2664.6 774.8,2657.3 782.9,2658.9 787.8,2646 794.2,2634.7 799.1,2616.9 803.9,2600.7 808.8,2578.1 813.6,2560.3 817.7,2540.9 820.1,2521.5 825,2500.4 831.4,2479.4 836.3,2460 842.5,2440 847.3,2410.2 850.6,2382.7 855.4,2358.5 860.3,2332.6 865.1,2305.1 868.4,2277.6 873.2,2256.6 879.7,2240.4 881.9,2229 889.5,2217 892.7,2200.9 897,2195.5 905.7,2204.1 912.1,2216 917.5,2222.4 918.6,2238.6 921.7,2280.9 925,2313.2 928.2,2345.6 931.4,2377.9 933.6,2410.2 934.5,2423.2 938.2,2447.5 941.5,2468.5 946.3,2487.9 952.8,2497.6 962.5,2504.1 970.6,2497.6 978.7,2500.9 981.9,2487.9 988.4,2473.4 996.4,2483.1 1006.1,2494.4 1012.6,2505.7 1017.5,2525.1 1020.7,2549.4 1022.3,2573.6 1025.6,2606 1028.8,2646.4 1029.6,2660 1032,2692.3 1035.3,2724.7 1039.3,2757 1043.3,2781.3 1049.8,2800.7 1061.1,2815.3 1074.1,2828.2 1090.2,2836.3 1106.4,2841.1 1120,2844.4 1132.3,2848 1164.7,2852.9 1197,2857.7 1237.5,2861 1277.9,2864.2 1340,2865.8 1500,2875 1646,2882" stroke="#F14040" stroke-width="6.7" />
<path d="M208 2885a5 5 0 1 0 10 0a5 5 0 1 0 -10 0M211.5 2885a5 5 0 1 0 10 0a5 5 0 1 0 -10 0M215 2885a5 5 0 1 0 10 0a5 5 0 1 0 -10 0M218.5 2885a5 5 0 1 0 10 0a5 5 0 1 0 -10 0M222 2885a5 5 0 1 0 10 0a5 5 0 1 0 -10 0M225.5 2885a5 5 0 1 0 10 0a5 5 0 1 0 -10 0M229 2885a5 5 0 1 0 10 0a5 5 0 1 0 -10 0M232.5 2885a5 5 0 1 0 10 0a5 5 0 1 0 -10 0M236 2885a5 5 0 1 0 10 0a5 5 0 1 0 -10 0M239.5 2885a5 5 0 1 0 10 0a5 5 0 1 0 -10 0M243 2885a5 5 0 1 0 10 0a5 5 0 1 0 -10 0M246.5 2885a5 5 0 1 0 10 0a5 5 0 1 0 -10 0M250 2885a5 5 0 1 0 10 0a5 5 0 1 0 -10 0M253.5 2885a5 5 0 1 0 10 0a5 5 0 1 0 -10 0M257 2885a5 5 0 1 0 10 0a5 5 0 1 0 -10 0M260.5 2885a5 5 0 1 0 10 0a5 5 0 1 0 -10 0M264 2885a5 5 0 1 0 10 0a5 5 0 1 0 -10 0M267.5 2885a5 5 0 1 0 10 0a5 5 0 1 0 -10 0M271 2885a5 5 0 1 0 10 0a5 5 0 1 0 -10 0M274.5 2885a5 5 0 1 0 10 0a5 5 0 1 0 -10 0M278 2885a5 5 0 1 0 10 0a5 5 0 1 0 -10 0M281.5 2885a5 5 0 1 0 10 0a5 5 0 1 0 -10 0M285 2885a5 5 0 1 0 10 0a5 5 0 1 0 -10 0M288.5 2885a5 5 0 1 0 10 0a5 5 0 1 0 -10 0M292 2885a5 5 0 1 0 10 0a5 5 0 1 0 -10 0M295.5 2885a5 5 0 1 0 10 0a5 5 0 1 0 -10 0M299 2885a5 5 0 1 0 10 0a5 5 0 1 0 -10 0M302.5 2885a5 5 0 1 0 10 0a5 5 0 1 0 -10 0M306 2885a5 5 0 1 0 10 0a5 5 0 1 0 -10 0M309.5 2885a5 5 0 1 0 10 0a5 5 0 1 0 -10 0M313 2885a5 5 0 1 0 10 0a5 5 0 1 0 -10 0M316.5 2885a5 5 0 1 0 10 0a5 5 0 1 0 -10 0M320 2885a5 5 0 1 0 10 0a5 5 0 1 0 -10 0M323.5 2885a5 5 0 1 0 10 0a5 5 0 1 0 -10 0M327 2885a5 5 0 1 0 10 0a5 5 0 1 0 -10 0M330.5 2885a5 5 0 1 0 10 0a5 5 0 1 0 -10 0M334 2885a5 5 0 1 0 10 0a5 5 0 1 0 -10 0M337.5 2885a5 5 0 1 0 10 0a5 5 0 1 0 -10 0M341 2885a5 5 0 1 0 10 0a5 5 0 1 0 -10 0M344.5 2885a5 5 0 1 0 10 0a5 5 0 1 0 -10 0M348 2884a5 5 0 1 0 10 0a5 5 0 1 0 -10 0M351.5 2882.9a5 5 0 1 0 10 0a5 5 0 1 0 -10 0M355 2881.7a5 5 0 1 0 10 0a5 5 0 1 0 -10 0M358.5 2880.6a5 5 0 1 0 10 0a5 5 0 1 0 -10 0M362 2879.4a5 5 0 1 0 10 0a5 5 0 1 0 -10 0M365.5 2878.3a5 5 0 1 0 10 0a5 5 0 1 0 -10 0M369 2876.9a5 5 0 1 0 10 0a5 5 0 1 0 -10 0M372.5 2875.4a5 5 0 1 0 10 0a5 5 0 1 0 -10 0M376 2873.8a5 5 0 1 0 10 0a5 5 0 1 0 -10 0M379.5 2872.2a5 5 0 1 0 10 0a5 5 0 1 0 -10 0M383 2870.6a5 5 0 1 0 10 0a5 5 0 1 0 -10 0M386.5 2868.2a5 5 0 1 0 10 0a5 5 0 1 0 -10 0M390 2865.6a5 5 0 1 0 10 0a5 5 0 1 0 -10 0M393.5 2862.9a5 5 0 1 0 10 0a5 5 0 1 0 -10 0M397 2859.8a5 5 0 1 0 10 0a5 5 0 1 0 -10 0M400.5 2853.4a5 5 0 1 0 10 0a5 5 0 1 0 -10 0M404 2847a5 5 0 1 0 10 0a5 5 0 1 0 -10 0M407.5 2833.2a5 5 0 1 0 10 0a5 5 0 1 0 -10 0M411 2814.3a5 5 0 1 0 10 0a5 5 0 1 0 -10 0M414.5 2790.4a5 5 0 1 0 10 0a5 5 0 1 0 -10 0M418 2762.8a5 5 0 1 0 10 0a5 5 0 1 0 -10 0M421.5 2738.9a5 5 0 1 0 10 0a5 5 0 1 0 -10 0M425 2683.1a5 5 0 1 0 10 0a5 5 0 1 0 -10 0M428.5 2624.1a5 5 0 1 0 10 0a5 5 0 1 0 -10 0M432 2544.8a5 5 0 1 0 10 0a5 5 0 1 0 -10 0M435.5 2461a5 5 0 1 0 10 0a5 5 0 1 0 -10 0M439 2384.9a5 5 0 1 0 10 0a5 5 0 1 0 -10 0M442.5 2281.4a5 5 0 1 0 10 0a5 5 0 1 0 -10 0M446 2183.7a5 5 0 1 0 10 0a5 5 0 1 0 -10 0M449.5 2110.9a5 5 0 1 0 10 0a5 5 0 1 0 -10 0M453 2044.7a5 5 0 1 0 10 0a5 5 0 1 0 -10 0M456.5 2055.2a5 5 0 1 0 10 0a5 5 0 1 0 -10 0M460 2255.9a5 5 0 1 0 10 0a5 5 0 1 0 -10 0M463.5 2525.9a5 5 0 1 0 10 0a5 5 0 1 0 -10 0M467 2690.2a5 5 0 1 0 10 0a5 5 0 1 0 -10 0M470.5 2746.2a5 5 0 1 0 10 0a5 5 0 1 0 -10 0M474 2761.8a5 5 0 1 0 10 0a5 5 0 1 0 -10 0M477.5 2767.4a5 5 0 1 0 10 0a5 5 0 1 0 -10 0M481 2768.4a5 5 0 1 0 10 0a5 5 0 1 0 -10 0M484.5 2769.4a5 5 0 1 0 10 0a5 5 0 1 0 -10 0M488 2771.9a5 5 0 1 0 10 0a5 5 0 1 0 -10 0M491.5 2778a5 5 0 1 0 10 0a5 5 0 1 0 -10 0M495 2784.1a5 5 0 1 0 10 0a5 5 0 1 0 -10 0M498.5 2790.2a5 5 0 1 0 10 0a5 5 0 1 0 -10 0M502 2795.1a5 5 0 1 0 10 0a5 5 0 1 0 -10 0M505.5 2799.2a5 5 0 1 0 10 0a5 5 0 1 0 -10 0M509 2803.3a5 5 0 1 0 10 0a5 5 0 1 0 -10 0M512.5 2808.6a5 5 0 1 0 10 0a5 5 0 1 0 -10 0M516 2814.1a5 5 0 1 0 10 0a5 5 0 1 0 -10 0M519.5 2819.2a5 5 0 1 0 10 0a5 5 0 1 0 -10 0M523 2823.7a5 5 0 1 0 10 0a5 5 0 1 0 -10 0M526.5 2828.2a5 5 0 1 0 10 0a5 5 0 1 0 -10 0M530 2832.1a5 5 0 1 0 10 0a5 5 0 1 0 -10 0M533.5 2834.3a5 5 0 1 0 10 0a5 5 0 1 0 -10 0M537 2836.4a5 5 0 1 0 10 0a5 5 0 1 0 -10 0M540.5 2838.5a5 5 0 1 0 10 0a5 5 0 1 0 -10 0M544 2840.6a5 5 0 1 0 10 0a5 5 0 1 0 -10 0M547.5 2841.8a5 5 0 1 0 10 0a5 5 0 1 0 -10 0M551 2842.4a5 5 0 1 0 10 0a5 5 0 1 0 -10 0M554.5 2843.1a5 5 0 1 0 10 0a5 5 0 1 0 -10 0M558 2843.8a5 5 0 1 0 10 0a5 5 0 1 0 -10 0M561.5 2844.5a5 5 0 1 0 10 0a5 5 0 1 0 -10 0M565 2844.1a5 5 0 1 0 10 0a5 5 0 1 0 -10 0M568.5 2843.7a5 5 0 1 0 10 0a5 5 0 1 0 -10 0M572 2843.3a5 5 0 1 0 10 0a5 5 0 1 0 -10 0M575.5 2842.6a5 5 0 1 0 10 0a5 5 0 1 0 -10 0M579 2840.4a5 5 0 1 0 10 0a5 5 0 1 0 -10 0M582.5 2838.6a5 5 0 1 0 10 0a5 5 0 1 0 -10 0M586 2837.2a5 5 0 1 0 10 0a5 5 0 1 0 -10 0M589.5 2835.7a5 5 0 1 0 10 0a5 5 0 1 0 -10 0M593 2834.3a5 5 0 1 0 10 0a5 5 0 1 0 -10 0M596.5 2832.9a5 5 0 1 0 10 0a5 5 0 1 0 -10 0M600 2830.7a5 5 0 1 0 10 0a5 5 0 1 0 -10 0M603.5 2828.3a5 5 0 1 0 10 0a5 5 0 1 0 -10 0M607 2825.8a5 5 0 1 0 10 0a5 5 0 1 0 -10 0M610.5 2823.4a5 5 0 1 0 10 0a5 5 0 1 0 -10 0M614 2817.3a5 5 0 1 0 10 0a5 5 0 1 0 -10 0M617.5 2802.5a5 5 0 1 0 10 0a5 5 0 1 0 -10 0M621 2800.3a5 5 0 1 0 10 0a5 5 0 1 0 -10 0M624.5 2800.3a5 5 0 1 0 10 0a5 5 0 1 0 -10 0M628 2802.2a5 5 0 1 0 10 0a5 5 0 1 0 -10 0M631.5 2804.3a5 5 0 1 0 10 0a5 5 0 1 0 -10 0M635 2804.1a5 5 0 1 0 10 0a5 5 0 1 0 -10 0M638.5 2802.3a5 5 0 1 0 10 0a5 5 0 1 0 -10 0M642 2800.8a5 5 0 1 0 10 0a5 5 0 1 0 -10 0M645.5 2799.3a5 5 0 1 0 10 0a5 5 0 1 0 -10 0M649 2797.7a5 5 0 1 0 10 0a5 5 0 1 0 -10 0M652.5 2796.2a5 5 0 1 0 10 0a5 5 0 1 0 -10 0M656 2794.7a5 5 0 1 0 10 0a5 5 0 1 0 -10 0M659.5 2793.1a5 5 0 1 0 10 0a5 5 0 1 0 -10 0M663 2791.6a5 5 0 1 0 10 0a5 5 0 1 0 -10 0M666.5 2789.7a5 5 0 1 0 10 0a5 5 0 1 0 -10 0M670 2787.1a5 5 0 1 0 10 0a5 5 0 1 0 -10 0M673.5 2784.4a5 5 0 1 0 10 0a5 5 0 1 0 -10 0M677 2781.8a5 5 0 1 0 10 0a5 5 0 1 0 -10 0M680.5 2778.3a5 5 0 1 0 10 0a5 5 0 1 0 -10 0M684 2774.2a5 5 0 1 0 10 0a5 5 0 1 0 -10 0M687.5 2770.2a5 5 0 1 0 10 0a5 5 0 1 0 -10 0M691 2764.9a5 5 0 1 0 10 0a5 5 0 1 0 -10 0M694.5 2758a5 5 0 1 0 10 0a5 5 0 1 0 -10 0M698 2750.8a5 5 0 1 0 10 0a5 5 0 1 0 -10 0M701.5 2742.1a5 5 0 1 0 10 0a5 5 0 1 0 -10 0M705 2733.8a5 5 0 1 0 10 0a5 5 0 1 0 -10 0M708.5 2726.8a5 5 0 1 0 10 0a5 5 0 1 0 -10 0M712 2719.8a5 5 0 1 0 10 0a5 5 0 1 0 -10 0M715.5 2713.5a5 5 0 1 0 10 0a5 5 0 1 0 -10 0M719 2707.2a5 5 0 1 0 10 0a5 5 0 1 0 -10 0M722.5 2701.2a5 5 0 1 0 10 0a5 5 0 1 0 -10 0M726 2679.7a5 5 0 1 0 10 0a5 5 0 1 0 -10 0M729.5 2670a5 5 0 1 0 10 0a5 5 0 1 0 -10 0M733 2661.3a5 5 0 1 0 10 0a5 5 0 1 0 -10 0M736.5 2653.1a5 5 0 1 0 10 0a5 5 0 1 0 -10 0M740 2650.8a5 5 0 1 0 10 0a5 5 0 1 0 -10 0M743.5 2650.8a5 5 0 1 0 10 0a5 5 0 1 0 -10 0M747 2652.8a5 5 0 1 0 10 0a5 5 0 1 0 -10 0M750.5 2657.7a5 5 0 1 0 10 0a5 5 0 1 0 -10 0M754 2662.3a5 5 0 1 0 10 0a5 5 0 1 0 -10 0M757.5 2663.3a5 5 0 1 0 10 0a5 5 0 1 0 -10 0M761 2664.4a5 5 0 1 0 10 0a5 5 0 1 0 -10 0M764.5 2662.1a5 5 0 1 0 10 0a5 5 0 1 0 -10 0M768 2658.9a5 5 0 1 0 10 0a5 5 0 1 0 -10 0M771.5 2657.6a5 5 0 1 0 10 0a5 5 0 1 0 -10 0M775 2658.3a5 5 0 1 0 10 0a5 5 0 1 0 -10 0M778.5 2657.3a5 5 0 1 0 10 0a5 5 0 1 0 -10 0M782 2648.1a5 5 0 1 0 10 0a5 5 0 1 0 -10 0M785.5 2641.2a5 5 0 1 0 10 0a5 5 0 1 0 -10 0M789 2635.1a5 5 0 1 0 10 0a5 5 0 1 0 -10 0M792.5 2622.7a5 5 0 1 0 10 0a5 5 0 1 0 -10 0M796 2610.5a5 5 0 1 0 10 0a5 5 0 1 0 -10 0M799.5 2597.9a5 5 0 1 0 10 0a5 5 0 1 0 -10 0M803 2581.8a5 5 0 1 0 10 0a5 5 0 1 0 -10 0M806.5 2568.1a5 5 0 1 0 10 0a5 5 0 1 0 -10 0M810 2553.7a5 5 0 1 0 10 0a5 5 0 1 0 -10 0M813.5 2534.4a5 5 0 1 0 10 0a5 5 0 1 0 -10 0M817 2513.3a5 5 0 1 0 10 0a5 5 0 1 0 -10 0M820.5 2498.8a5 5 0 1 0 10 0a5 5 0 1 0 -10 0M824 2487.3a5 5 0 1 0 10 0a5 5 0 1 0 -10 0M827.5 2475a5 5 0 1 0 10 0a5 5 0 1 0 -10 0M831 2461.2a5 5 0 1 0 10 0a5 5 0 1 0 -10 0M834.5 2449.7a5 5 0 1 0 10 0a5 5 0 1 0 -10 0M838 2436.9a5 5 0 1 0 10 0a5 5 0 1 0 -10 0M841.5 2415.2a5 5 0 1 0 10 0a5 5 0 1 0 -10 0M845 2387.7a5 5 0 1 0 10 0a5 5 0 1 0 -10 0M848.5 2368.1a5 5 0 1 0 10 0a5 5 0 1 0 -10 0M852 2350a5 5 0 1 0 10 0a5 5 0 1 0 -10 0M855.5 2331.5a5 5 0 1 0 10 0a5 5 0 1 0 -10 0M859 2311.4a5 5 0 1 0 10 0a5 5 0 1 0 -10 0M862.5 2285.1a5 5 0 1 0 10 0a5 5 0 1 0 -10 0M866 2266.2a5 5 0 1 0 10 0a5 5 0 1 0 -10 0M869.5 2253.4a5 5 0 1 0 10 0a5 5 0 1 0 -10 0M873 2244.6a5 5 0 1 0 10 0a5 5 0 1 0 -10 0M876.5 2231.1a5 5 0 1 0 10 0a5 5 0 1 0 -10 0M880 2224.1a5 5 0 1 0 10 0a5 5 0 1 0 -10 0M883.5 2218.6a5 5 0 1 0 10 0a5 5 0 1 0 -10 0M887 2204.4a5 5 0 1 0 10 0a5 5 0 1 0 -10 0M890.5 2197.4a5 5 0 1 0 10 0a5 5 0 1 0 -10 0M894 2197.5a5 5 0 1 0 10 0a5 5 0 1 0 -10 0M897.5 2200.9a5 5 0 1 0 10 0a5 5 0 1 0 -10 0M901 2204.7a5 5 0 1 0 10 0a5 5 0 1 0 -10 0M904.5 2211.2a5 5 0 1 0 10 0a5 5 0 1 0 -10 0M908 2217.1a5 5 0 1 0 10 0a5 5 0 1 0 -10 0M911.5 2221.2a5 5 0 1 0 10 0a5 5 0 1 0 -10 0M915 2257.7a5 5 0 1 0 10 0a5 5 0 1 0 -10 0M918.5 2298.5a5 5 0 1 0 10 0a5 5 0 1 0 -10 0M922 2333.4a5 5 0 1 0 10 0a5 5 0 1 0 -10 0M925.5 2368.8a5 5 0 1 0 10 0a5 5 0 1 0 -10 0M929 2416a5 5 0 1 0 10 0a5 5 0 1 0 -10 0M932.5 2442.9a5 5 0 1 0 10 0a5 5 0 1 0 -10 0M936 2465.3a5 5 0 1 0 10 0a5 5 0 1 0 -10 0M939.5 2480.6a5 5 0 1 0 10 0a5 5 0 1 0 -10 0M943 2490.4a5 5 0 1 0 10 0a5 5 0 1 0 -10 0M946.5 2495.7a5 5 0 1 0 10 0a5 5 0 1 0 -10 0M950 2499.1a5 5 0 1 0 10 0a5 5 0 1 0 -10 0M953.5 2501.4a5 5 0 1 0 10 0a5 5 0 1 0 -10 0M957 2503.8a5 5 0 1 0 10 0a5 5 0 1 0 -10 0M960.5 2501.7a5 5 0 1 0 10 0a5 5 0 1 0 -10 0M964 2498.9a5 5 0 1 0 10 0a5 5 0 1 0 -10 0M967.5 2498.4a5 5 0 1 0 10 0a5 5 0 1 0 -10 0M971 2499.8a5 5 0 1 0 10 0a5 5 0 1 0 -10 0M974.5 2497.7a5 5 0 1 0 10 0a5 5 0 1 0 -10 0M978 2485.4a5 5 0 1 0 10 0a5 5 0 1 0 -10 0M981.5 2477.6a5 5 0 1 0 10 0a5 5 0 1 0 -10 0M985 2475.3a5 5 0 1 0 10 0a5 5 0 1 0 -10 0M988.5 2479.6a5 5 0 1 0 10 0a5 5 0 1 0 -10 0M992 2483.8a5 5 0 1 0 10 0a5 5 0 1 0 -10 0M995.5 2487.9a5 5 0 1 0 10 0a5 5 0 1 0 -10 0M999 2492a5 5 0 1 0 10 0a5 5 0 1 0 -10 0M1002.5 2496.8a5 5 0 1 0 10 0a5 5 0 1 0 -10 0M1006 2502.9a5 5 0 1 0 10 0a5 5 0 1 0 -10 0M1009.5 2513.2a5 5 0 1 0 10 0a5 5 0 1 0 -10 0M1013 2528.9a5 5 0 1 0 10 0a5 5 0 1 0 -10 0M1016.5 2561.5a5 5 0 1 0 10 0a5 5 0 1 0 -10 0M1020 2600.1a5 5 0 1 0 10 0a5 5 0 1 0 -10 0M1023.5 2642.6a5 5 0 1 0 10 0a5 5 0 1 0 -10 0M1027 2692.3a5 5 0 1 0 10 0a5 5 0 1 0 -10 0M1030.5 2726.3a5 5 0 1 0 10 0a5 5 0 1 0 -10 0M1034 2754.6a5 5 0 1 0 10 0a5 5 0 1 0 -10 0M1037.5 2776.4a5 5 0 1 0 10 0a5 5 0 1 0 -10 0M1041 2789.4a5 5 0 1 0 10 0a5 5 0 1 0 -10 0M1044.5 2799.8a5 5 0 1 0 10 0a5 5 0 1 0 -10 0M1048 2804.8a5 5 0 1 0 10 0a5 5 0 1 0 -10 0M1051.5 2809.4a5 5 0 1 0 10 0a5 5 0 1 0 -10 0M1055 2813.9a5 5 0 1 0 10 0a5 5 0 1 0 -10 0M1058.5 2817.7a5 5 0 1 0 10 0a5 5 0 1 0 -10 0M1062 2821.2a5 5 0 1 0 10 0a5 5 0 1 0 -10 0M1065.5 2824.6a5 5 0 1 0 10 0a5 5 0 1 0 -10 0M1069 2828.1a5 5 0 1 0 10 0a5 5 0 1 0 -10 0M1072.5 2829.9a5 5 0 1 0 10 0a5 5 0 1 0 -10 0M1076 2831.7a5 5 0 1 0 10 0a5 5 0 1 0 -10 0M1079.5 2833.4a5 5 0 1 0 10 0a5 5 0 1 0 -10 0M1083 2835.2a5 5 0 1 0 10 0a5 5 0 1 0 -10 0M1086.5 2836.7a5 5 0 1 0 10 0a5 5 0 1 0 -10 0M1090 2837.7a5 5 0 1 0 10 0a5 5 0 1 0 -10 0M1093.5 2838.8a5 5 0 1 0 10 0a5 5 0 1 0 -10 0M1097 2839.8a5 5 0 1 0 10 0a5 5 0 1 0 -10 0M1100.5 2840.8a5 5 0 1 0 10 0a5 5 0 1 0 -10 0M1104 2841.7a5 5 0 1 0 10 0a5 5 0 1 0 -10 0M1107.5 2842.6a5 5 0 1 0 10 0a5 5 0 1 0 -10 0M1111 2843.4a5 5 0 1 0 10 0a5 5 0 1 0 -10 0M1114.5 2844.3a5 5 0 1 0 10 0a5 5 0 1 0 -10 0M1118 2845.3a5 5 0 1 0 10 0a5 5 0 1 0 -10 0M1121.5 2846.3a5 5 0 1 0 10 0a5 5 0 1 0 -10 0M1125 2847.3a5 5 0 1 0 10 0a5 5 0 1 0 -10 0M1128.5 2848.2a5 5 0 1 0 10 0a5 5 0 1 0 -10 0M1132 2848.7a5 5 0 1 0 10 0a5 5 0 1 0 -10 0M1135.5 2849.2a5 5 0 1 0 10 0a5 5 0 1 0 -10 0M1139 2849.8a5 5 0 1 0 10 0a5 5 0 1 0 -10 0M1142.5 2850.3a5 5 0 1 0 10 0a5 5 0 1 0 -10 0M1146 2850.8a5 5 0 1 0 10 0a5 5 0 1 0 -10 0M1149.5 2851.4a5 5 0 1 0 10 0a5 5 0 1 0 -10 0M1153 2851.9a5 5 0 1 0 10 0a5 5 0 1 0 -10 0M1156.5 2852.4a5 5 0 1 0 10 0a5 5 0 1 0 -10 0M1160 2852.9a5 5 0 1 0 10 0a5 5 0 1 0 -10 0M1163.5 2853.5a5 5 0 1 0 10 0a5 5 0 1 0 -10 0M1167 2854a5 5 0 1 0 10 0a5 5 0 1 0 -10 0M1170.5 2854.5a5 5 0 1 0 10 0a5 5 0 1 0 -10 0M1174 2855a5 5 0 1 0 10 0a5 5 0 1 0 -10 0M1177.5 2855.5a5 5 0 1 0 10 0a5 5 0 1 0 -10 0M1181 2856.1a5 5 0 1 0 10 0a5 5 0 1 0 -10 0M1184.5 2856.6a5 5 0 1 0 10 0a5 5 0 1 0 -10 0M1188 2857.1a5 5 0 1 0 10 0a5 5 0 1 0 -10 0M1191.5 2857.6a5 5 0 1 0 10 0a5 5 0 1 0 -10 0M1195 2857.9a5 5 0 1 0 10 0a5 5 0 1 0 -10 0M1198.5 2858.2a5 5 0 1 0 10 0a5 5 0 1 0 -10 0M1202 2858.5a5 5 0 1 0 10 0a5 5 0 1 0 -10 0M1205.5 2858.8a5 5 0 1 0 10 0a5 5 0 1 0 -10 0M1209 2859.1a5 5 0 1 0 10 0a5 5 0 1 0 -10 0M1212.5 2859.4a5 5 0 1 0 10 0a5 5 0 1 0 -10 0M1216 2859.7a5 5 0 1 0 10 0a5 5 0 1 0 -10 0M1219.5 2859.9a5 5 0 1 0 10 0a5 5 0 1 0 -10 0M1223 2860.2a5 5 0 1 0 10 0a5 5 0 1 0 -10 0M1226.5 2860.5a5 5 0 1 0 10 0a5 5 0 1 0 -10 0M1230 2860.8a5 5 0 1 0 10 0a5 5 0 1 0 -10 0M1233.5 2861.1a5 5 0 1 0 10 0a5 5 0 1 0 -10 0M1237 2861.4a5 5 0 1 0 10 0a5 5 0 1 0 -10 0M1240.5 2861.6a5 5 0 1 0 10 0a5 5 0 1 0 -10 0M1244 2861.9a5 5 0 1 0 10 0a5 5 0 1 0 -10 0M1247.5 2862.2a5 5 0 1 0 10 0a5 5 0 1 0 -10 0M1251 2862.5a5 5 0 1 0 10 0a5 5 0 1 0 -10 0M1254.5 2862.7a5 5 0 1 0 10 0a5 5 0 1 0 -10 0M1258 2863a5 5 0 1 0 10 0a5 5 0 1 0 -10 0M1261.5 2863.3a5 5 0 1 0 10 0a5 5 0 1 0 -10 0M1265 2863.6a5 5 0 1 0 10 0a5 5 0 1 0 -10 0M1268.5 2863.9a5 5 0 1 0 10 0a5 5 0 1 0 -10 0M1272 2864.1a5 5 0 1 0 10 0a5 5 0 1 0 -10 0M1275.5 2864.3a5 5 0 1 0 10 0a5 5 0 1 0 -10 0M1279 2864.4a5 5 0 1 0 10 0a5 5 0 1 0 -10 0M1282.5 2864.4a5 5 0 1 0 10 0a5 5 0 1 0 -10 0M1286 2864.5a5 5 0 1 0 10 0a5 5 0 1 0 -10 0M1289.5 2864.6a5 5 0 1 0 10 0a5 5 0 1 0 -10 0M1293 2864.7a5 5 0 1 0 10 0a5 5 0 1 0 -10 0M1296.5 2864.8a5 5 0 1 0 10 0a5 5 0 1 0 -10 0M1300 2864.9a5 5 0 1 0 10 0a5 5 0 1 0 -10 0M1303.5 2865a5 5 0 1 0 10 0a5 5 0 1 0 -10 0M1307 2865.1a5 5 0 1 0 10 0a5 5 0 1 0 -10 0M1310.5 2865.2a5 5 0 1 0 10 0a5 5 0 1 0 -10 0M1314 2865.3a5 5 0 1 0 10 0a5 5 0 1 0 -10 0M1317.5 2865.3a5 5 0 1 0 10 0a5 5 0 1 0 -10 0M1321 2865.4a5 5 0 1 0 10 0a5 5 0 1 0 -10 0M1324.5 2865.5a5 5 0 1 0 10 0a5 5 0 1 0 -10 0M1328 2865.6a5 5 0 1 0 10 0a5 5 0 1 0 -10 0M1331.5 2865.7a5 5 0 1 0 10 0a5 5 0 1 0 -10 0M1335 2865.8a5 5 0 1 0 10 0a5 5 0 1 0 -10 0M1338.5 2866a5 5 0 1 0 10 0a5 5 0 1 0 -10 0M1342 2866.2a5 5 0 1 0 10 0a5 5 0 1 0 -10 0M1345.5 2866.4a5 5 0 1 0 10 0a5 5 0 1 0 -10 0M1349 2866.6a5 5 0 1 0 10 0a5 5 0 1 0 -10 0M1352.5 2866.8a5 5 0 1 0 10 0a5 5 0 1 0 -10 0M1356 2867a5 5 0 1 0 10 0a5 5 0 1 0 -10 0M1359.5 2867.2a5 5 0 1 0 10 0a5 5 0 1 0 -10 0M1363 2867.4a5 5 0 1 0 10 0a5 5 0 1 0 -10 0M1366.5 2867.6a5 5 0 1 0 10 0a5 5 0 1 0 -10 0M1370 2867.8a5 5 0 1 0 10 0a5 5 0 1 0 -10 0M1373.5 2868a5 5 0 1 0 10 0a5 5 0 1 0 -10 0M1377 2868.2a5 5 0 1 0 10 0a5 5 0 1 0 -10 0M1380.5 2868.4a5 5 0 1 0 10 0a5 5 0 1 0 -10 0M1384 2868.6a5 5 0 1 0 10 0a5 5 0 1 0 -10 0M1387.5 2868.8a5 5 0 1 0 10 0a5 5 0 1 0 -10 0M1391 2869a5 5 0 1 0 10 0a5 5 0 1 0 -10 0M1394.5 2869.2a5 5 0 1 0 10 0a5 5 0 1 0 -10 0M1398 2869.4a5 5 0 1 0 10 0a5 5 0 1 0 -10 0M1401.5 2869.6a5 5 0 1 0 10 0a5 5 0 1 0 -10 0M1405 2869.8a5 5 0 1 0 10 0a5 5 0 1 0 -10 0M1408.5 2870a5 5 0 1 0 10 0a5 5 0 1 0 -10 0M1412 2870.2a5 5 0 1 0 10 0a5 5 0 1 0 -10 0M1415.5 2870.4a5 5 0 1 0 10 0a5 5 0 1 0 -10 0M1419 2870.6a5 5 0 1 0 10 0a5 5 0 1 0 -10 0M1422.5 2870.8a5 5 0 1 0 10 0a5 5 0 1 0 -10 0M1426 2871a5 5 0 1 0 10 0a5 5 0 1 0 -10 0M1429.5 2871.2a5 5 0 1 0 10 0a5 5 0 1 0 -10 0M1433 2871.4a5 5 0 1 0 10 0a5 5 0 1 0 -10 0M1436.5 2871.6a5 5 0 1 0 10 0a5 5 0 1 0 -10 0M1440 2871.8a5 5 0 1 0 10 0a5 5 0 1 0 -10 0M1443.5 2872a5 5 0 1 0 10 0a5 5 0 1 0 -10 0M1447 2872.2a5 5 0 1 0 10 0a5 5 0 1 0 -10 0M1450.5 2872.4a5 5 0 1 0 10 0a5 5 0 1 0 -10 0M1454 2872.6a5 5 0 1 0 10 0a5 5 0 1 0 -10 0M1457.5 2872.8a5 5 0 1 0 10 0a5 5 0 1 0 -10 0M1461 2873a5 5 0 1 0 10 0a5 5 0 1 0 -10 0M1464.5 2873.2a5 5 0 1 0 10 0a5 5 0 1 0 -10 0M1468 2873.4a5 5 0 1 0 10 0a5 5 0 1 0 -10 0M1471.5 2873.6a5 5 0 1 0 10 0a5 5 0 1 0 -10 0M1475 2873.8a5 5 0 1 0 10 0a5 5 0 1 0 -10 0M1478.5 2874.1a5 5 0 1 0 10 0a5 5 0 1 0 -10 0M1482 2874.3a5 5 0 1 0 10 0a5 5 0 1 0 -10 0M1485.5 2874.5a5 5 0 1 0 10 0a5 5 0 1 0 -10 0M1489 2874.7a5 5 0 1 0 10 0a5 5 0 1 0 -10 0M1492.5 2874.9a5 5 0 1 0 10 0a5 5 0 1 0 -10 0M1496 2875a5 5 0 1 0 10 0a5 5 0 1 0 -10 0M1499.5 2875.2a5 5 0 1 0 10 0a5 5 0 1 0 -10 0M1503 2875.4a5 5 0 1 0 10 0a5 5 0 1 0 -10 0M1506.5 2875.6a5 5 0 1 0 10 0a5 5 0 1 0 -10 0M1510 2875.7a5 5 0 1 0 10 0a5 5 0 1 0 -10 0M1513.5 2875.9a5 5 0 1 0 10 0a5 5 0 1 0 -10 0M1517 2876.1a5 5 0 1 0 10 0a5 5 0 1 0 -10 0M1520.5 2876.2a5 5 0 1 0 10 0a5 5 0 1 0 -10 0M1524 2876.4a5 5 0 1 0 10 0a5 5 0 1 0 -10 0M1527.5 2876.6a5 5 0 1 0 10 0a5 5 0 1 0 -10 0M1531 2876.7a5 5 0 1 0 10 0a5 5 0 1 0 -10 0M1534.5 2876.9a5 5 0 1 0 10 0a5 5 0 1 0 -10 0M1538 2877.1a5 5 0 1 0 10 0a5 5 0 1 0 -10 0M1541.5 2877.2a5 5 0 1 0 10 0a5 5 0 1 0 -10 0M1545 2877.4a5 5 0 1 0 10 0a5 5 0 1 0 -10 0M1548.5 2877.6a5 5 0 1 0 10 0a5 5 0 1 0 -10 0M1552 2877.7a5 5 0 1 0 10 0a5 5 0 1 0 -10 0M1555.5 2877.9a5 5 0 1 0 10 0a5 5 0 1 0 -10 0M1559 2878.1a5 5 0 1 0 10 0a5 5 0 1 0 -10 0M1562.5 2878.2a5 5 0 1 0 10 0a5 5 0 1 0 -10 0M1566 2878.4a5 5 0 1 0 10 0a5 5 0 1 0 -10 0M1569.5 2878.6a5 5 0 1 0 10 0a5 5 0 1 0 -10 0M1573 2878.7a5 5 0 1 0 10 0a5 5 0 1 0 -10 0M1576.5 2878.9a5 5 0 1 0 10 0a5 5 0 1 0 -10 0M1580 2879.1a5 5 0 1 0 10 0a5 5 0 1 0 -10 0M1583.5 2879.2a5 5 0 1 0 10 0a5 5 0 1 0 -10 0M1587 2879.4a5 5 0 1 0 10 0a5 5 0 1 0 -10 0M1590.5 2879.6a5 5 0 1 0 10 0a5 5 0 1 0 -10 0M1594 2879.7a5 5 0 1 0 10 0a5 5 0 1 0 -10 0M1597.5 2879.9a5 5 0 1 0 10 0a5 5 0 1 0 -10 0M1601 2880.1a5 5 0 1 0 10 0a5 5 0 1 0 -10 0M1604.5 2880.2a5 5 0 1 0 10 0a5 5 0 1 0 -10 0M1608 2880.4a5 5 0 1 0 10 0a5 5 0 1 0 -10 0M1611.5 2880.6a5 5 0 1 0 10 0a5 5 0 1 0 -10 0M1615 2880.8a5 5 0 1 0 10 0a5 5 0 1 0 -10 0M1618.5 2880.9a5 5 0 1 0 10 0a5 5 0 1 0 -10 0M1622 2881.1a5 5 0 1 0 10 0a5 5 0 1 0 -10 0M1625.5 2881.3a5 5 0 1 0 10 0a5 5 0 1 0 -10 0M1629 2881.4a5 5 0 1 0 10 0a5 5 0 1 0 -10 0M1632.5 2881.6a5 5 0 1 0 10 0a5 5 0 1 0 -10 0M1636 2881.8a5 5 0 1 0 10 0a5 5 0 1 0 -10 0" fill="#F14040" stroke="none"/>
<polyline points="211,2885 390,2885 404.7,2879.3 420.9,2875.3 430.6,2865.6 438.7,2846.1 443.5,2825.1 447.5,2800.9 451.6,2771.8 454.1,2750 458.2,2684.8 462.9,2617.4 467,2550 469.6,2484.8 473,2417.4 476,2350 478.4,2284.8 480.4,2230 483.8,2190 486.5,2140 489.5,2100 492.3,2140 493.2,2190 493.9,2244 494.6,2284.8 495.2,2350 495.9,2417.4 495.9,2484.8 495.9,2550 498.6,2617.4 499.3,2684.8 500.8,2735 502.5,2760.4 501.7,2791.2 517.9,2784.7 534.1,2779 548.6,2775.8 558.3,2779.8 566.4,2787.9 573.2,2798 586.2,2813.2 595.9,2827.8 610.4,2839.1 621.8,2835.8 634.7,2832.6 650.9,2835.8 667,2837.5 683.2,2827.8 699.4,2822.9 715.6,2813.2 731.7,2803.5 744.7,2787.3 756,2769.5 765.7,2751.8 773.8,2735.6 781.9,2721 796.4,2717.8 804.5,2711.3 810.3,2700.6 820,2690.9 830.9,2686.1 840.6,2676.4 850.6,2668.5 858.9,2650.8 865.4,2629.8 870.2,2613.6 878.3,2597.5 883.2,2578.1 886.4,2560.3 891.3,2540.9 896.1,2521.5 900,2505.3 902.6,2497.6 909.1,2481.5 914,2460.4 918.8,2436.2 921.7,2418.3 926.6,2397.3 937.9,2390.8 949.2,2377.9 954.1,2361.7 957.3,2337.5 962.2,2327.8 965.4,2338.6 968.6,2335.8 973.5,2322.4 984.3,2317 989.6,2327.8 1000.4,2317 1011.2,2319.7 1020.6,2319.7 1028.7,2314.3 1031.4,2327.8 1036.8,2348 1039.5,2375 1042.2,2395.2 1045,2420 1051.4,2439.4 1057.9,2462 1067.6,2460.4 1074.1,2450.7 1083.8,2444.3 1087,2468.5 1090.2,2500.9 1093.5,2533.2 1096.7,2565.6 1101.6,2597.9 1104.8,2630.2 1106.5,2652.3 1108.9,2684.7 1112.1,2717 1116.2,2749.4 1122.6,2781.7 1132.3,2802.8 1145.3,2822.2 1161.5,2836.7 1180.9,2846.4 1205.1,2852.9 1229.4,2861 1261.7,2869.1 1294.1,2873.9 1340,2877.1 1500,2881 1646,2883" stroke="#1A6FDF" stroke-width="6.7" />
<path d="M213 2879.1l5.8 9.8h-11.5zM216.5 2879.1l5.8 9.8h-11.5zM220 2879.1l5.8 9.8h-11.5zM223.5 2879.1l5.8 9.8h-11.5zM227 2879.1l5.8 9.8h-11.5zM230.5 2879.1l5.8 9.8h-11.5zM234 2879.1l5.8 9.8h-11.5zM237.5 2879.1l5.8 9.8h-11.5zM241 2879.1l5.8 9.8h-11.5zM244.5 2879.1l5.8 9.8h-11.5zM248 2879.1l5.8 9.8h-11.5zM251.5 2879.1l5.8 9.8h-11.5zM255 2879.1l5.8 9.8h-11.5zM258.5 2879.1l5.8 9.8h-11.5zM262 2879.1l5.8 9.8h-11.5zM265.5 2879.1l5.8 9.8h-11.5zM269 2879.1l5.8 9.8h-11.5zM272.5 2879.1l5.8 9.8h-11.5zM276 2879.1l5.8 9.8h-11.5zM279.5 2879.1l5.8 9.8h-11.5zM283 2879.1l5.8 9.8h-11.5zM286.5 2879.1l5.8 9.8h-11.5zM290 2879.1l5.8 9.8h-11.5zM293.5 2879.1l5.8 9.8h-11.5zM297 2879.1l5.8 9.8h-11.5zM300.5 2879.1l5.8 9.8h-11.5zM304 2879.1l5.8 9.8h-11.5zM307.5 2879.1l5.8 9.8h-11.5zM311 2879.1l5.8 9.8h-11.5zM314.5 2879.1l5.8 9.8h-11.5zM318 2879.1l5.8 9.8h-11.5zM321.5 2879.1l5.8 9.8h-11.5zM325 2879.1l5.8 9.8h-11.5zM328.5 2879.1l5.8 9.8h-11.5zM332 2879.1l5.8 9.8h-11.5zM335.5 2879.1l5.8 9.8h-11.5zM339 2879.1l5.8 9.8h-11.5zM342.5 2879.1l5.8 9.8h-11.5zM346 2879.1l5.8 9.8h-11.5zM349.5 2879.1l5.8 9.8h-11.5zM353 2879.1l5.8 9.8h-11.5zM356.5 2879.1l5.8 9.8h-11.5zM360 2879.1l5.8 9.8h-11.5zM363.5 2879.1l5.8 9.8h-11.5zM367 2879.1l5.8 9.8h-11.5zM370.5 2879.1l5.8 9.8h-11.5zM374 2879.1l5.8 9.8h-11.5zM377.5 2879.1l5.8 9.8h-11.5zM381 2879.1l5.8 9.8h-11.5zM384.5 2879.1l5.8 9.8h-11.5zM388 2879.1l5.8 9.8h-11.5zM391.5 2878.6l5.8 9.8h-11.5zM395 2877.2l5.8 9.8h-11.5zM398.5 2875.8l5.8 9.8h-11.5zM402 2874.5l5.8 9.8h-11.5zM405.5 2873.2l5.8 9.8h-11.5zM409 2872.4l5.8 9.8h-11.5zM412.5 2871.5l5.8 9.8h-11.5zM416 2870.6l5.8 9.8h-11.5zM419.5 2869.8l5.8 9.8h-11.5zM423 2867.3l5.8 9.8h-11.5zM426.5 2863.8l5.8 9.8h-11.5zM430 2860.3l5.8 9.8h-11.5zM433.5 2852.8l5.8 9.8h-11.5zM437 2844.3l5.8 9.8h-11.5zM440.5 2832.4l5.8 9.8h-11.5zM444 2816.2l5.8 9.8h-11.5zM447.5 2795l5.8 9.8h-11.5zM451 2770.2l5.8 9.8h-11.5zM454.5 2737.8l5.8 9.8h-11.5zM458 2682.1l5.8 9.8h-11.5zM461.5 2631.6l5.8 9.8h-11.5zM465 2577l5.8 9.8h-11.5zM468.5 2506.5l5.8 9.8h-11.5zM472 2431.4l5.8 9.8h-11.5zM475.5 2355.4l5.8 9.8h-11.5zM479 2262.5l5.8 9.8h-11.5zM482.5 2199.4l5.8 9.8h-11.5zM486 2143.4l5.8 9.8h-11.5zM489.5 2094.1l5.8 9.8h-11.5zM493 2173l5.8 9.8h-11.5zM496.5 2559.1l5.8 9.8h-11.5zM500 2702.4l5.8 9.8h-11.5zM503.5 2784.6l5.8 9.8h-11.5zM507 2783.2l5.8 9.8h-11.5zM510.5 2781.8l5.8 9.8h-11.5zM514 2780.4l5.8 9.8h-11.5zM517.5 2779l5.8 9.8h-11.5zM521 2777.7l5.8 9.8h-11.5zM524.5 2776.5l5.8 9.8h-11.5zM528 2775.3l5.8 9.8h-11.5zM531.5 2774l5.8 9.8h-11.5zM535 2772.9l5.8 9.8h-11.5zM538.5 2772.2l5.8 9.8h-11.5zM542 2771.4l5.8 9.8h-11.5zM545.5 2770.6l5.8 9.8h-11.5zM549 2770.1l5.8 9.8h-11.5zM552.5 2771.5l5.8 9.8h-11.5zM556 2773l5.8 9.8h-11.5zM559.5 2775.1l5.8 9.8h-11.5zM563 2778.6l5.8 9.8h-11.5zM566.5 2782.2l5.8 9.8h-11.5zM570 2787.4l5.8 9.8h-11.5zM573.5 2792.5l5.8 9.8h-11.5zM577 2796.6l5.8 9.8h-11.5zM580.5 2800.7l5.8 9.8h-11.5zM584 2804.8l5.8 9.8h-11.5zM587.5 2809.3l5.8 9.8h-11.5zM591 2814.6l5.8 9.8h-11.5zM594.5 2819.8l5.8 9.8h-11.5zM598 2823.6l5.8 9.8h-11.5zM601.5 2826.3l5.8 9.8h-11.5zM605 2829l5.8 9.8h-11.5zM608.5 2831.8l5.8 9.8h-11.5zM612 2832.8l5.8 9.8h-11.5zM615.5 2831.8l5.8 9.8h-11.5zM619 2830.7l5.8 9.8h-11.5zM622.5 2829.8l5.8 9.8h-11.5zM626 2828.9l5.8 9.8h-11.5zM629.5 2828l5.8 9.8h-11.5zM633 2827.2l5.8 9.8h-11.5zM636.5 2827.1l5.8 9.8h-11.5zM640 2827.8l5.8 9.8h-11.5zM643.5 2828.5l5.8 9.8h-11.5zM647 2829.2l5.8 9.8h-11.5zM650.5 2829.9l5.8 9.8h-11.5zM654 2830.3l5.8 9.8h-11.5zM657.5 2830.6l5.8 9.8h-11.5zM661 2831l5.8 9.8h-11.5zM664.5 2831.4l5.8 9.8h-11.5zM668 2831l5.8 9.8h-11.5zM671.5 2828.9l5.8 9.8h-11.5zM675 2826.8l5.8 9.8h-11.5zM678.5 2824.7l5.8 9.8h-11.5zM682 2822.7l5.8 9.8h-11.5zM685.5 2821.2l5.8 9.8h-11.5zM689 2820.2l5.8 9.8h-11.5zM692.5 2819.1l5.8 9.8h-11.5zM696 2818.1l5.8 9.8h-11.5zM699.5 2817l5.8 9.8h-11.5zM703 2814.9l5.8 9.8h-11.5zM706.5 2812.8l5.8 9.8h-11.5zM710 2810.7l5.8 9.8h-11.5zM713.5 2808.6l5.8 9.8h-11.5zM717 2806.5l5.8 9.8h-11.5zM720.5 2804.4l5.8 9.8h-11.5zM724 2802.3l5.8 9.8h-11.5zM727.5 2800.2l5.8 9.8h-11.5zM731 2798.1l5.8 9.8h-11.5zM734.5 2794.1l5.8 9.8h-11.5zM738 2789.8l5.8 9.8h-11.5zM741.5 2785.4l5.8 9.8h-11.5zM745 2781l5.8 9.8h-11.5zM748.5 2775.4l5.8 9.8h-11.5zM752 2769.9l5.8 9.8h-11.5zM755.5 2764.4l5.8 9.8h-11.5zM759 2758.2l5.8 9.8h-11.5zM762.5 2751.8l5.8 9.8h-11.5zM766 2745.3l5.8 9.8h-11.5zM769.5 2738.3l5.8 9.8h-11.5zM773 2731.3l5.8 9.8h-11.5zM776.5 2724.9l5.8 9.8h-11.5zM780 2718.6l5.8 9.8h-11.5zM783.5 2714.8l5.8 9.8h-11.5zM787 2714l5.8 9.8h-11.5zM790.5 2713.2l5.8 9.8h-11.5zM794 2712.5l5.8 9.8h-11.5zM797.5 2711.1l5.8 9.8h-11.5zM801 2708.2l5.8 9.8h-11.5zM804.5 2705.4l5.8 9.8h-11.5zM808 2699l5.8 9.8h-11.5zM811.5 2693.5l5.8 9.8h-11.5zM815 2690l5.8 9.8h-11.5zM818.5 2686.5l5.8 9.8h-11.5zM822 2684.2l5.8 9.8h-11.5zM825.5 2682.6l5.8 9.8h-11.5zM829 2681.1l5.8 9.8h-11.5zM832.5 2678.6l5.8 9.8h-11.5zM836 2675.1l5.8 9.8h-11.5zM839.5 2671.6l5.8 9.8h-11.5zM843 2668.6l5.8 9.8h-11.5zM846.5 2665.9l5.8 9.8h-11.5zM850 2663.1l5.8 9.8h-11.5zM853.5 2656.5l5.8 9.8h-11.5zM857 2649l5.8 9.8h-11.5zM860.5 2639.8l5.8 9.8h-11.5zM864 2628.5l5.8 9.8h-11.5zM867.5 2616.8l5.8 9.8h-11.5zM871 2606.1l5.8 9.8h-11.5zM874.5 2599.2l5.8 9.8h-11.5zM878 2592.2l5.8 9.8h-11.5zM881.5 2579l5.8 9.8h-11.5zM885 2562.2l5.8 9.8h-11.5zM888.5 2546.1l5.8 9.8h-11.5zM892 2532.2l5.8 9.8h-11.5zM895.5 2518.1l5.8 9.8h-11.5zM899 2503.6l5.8 9.8h-11.5zM902.5 2492l5.8 9.8h-11.5zM906 2483.3l5.8 9.8h-11.5zM909.5 2473.9l5.8 9.8h-11.5zM913 2458.8l5.8 9.8h-11.5zM916.5 2441.9l5.8 9.8h-11.5zM920 2422.9l5.8 9.8h-11.5zM923.5 2404.7l5.8 9.8h-11.5zM927 2391.2l5.8 9.8h-11.5zM930.5 2389.2l5.8 9.8h-11.5zM934 2387.2l5.8 9.8h-11.5zM937.5 2385.2l5.8 9.8h-11.5zM941 2381.4l5.8 9.8h-11.5zM944.5 2377.4l5.8 9.8h-11.5zM948 2373.4l5.8 9.8h-11.5zM951.5 2364.4l5.8 9.8h-11.5zM955 2349l5.8 9.8h-11.5zM958.5 2329.3l5.8 9.8h-11.5zM962 2322.3l5.8 9.8h-11.5zM965.5 2332.6l5.8 9.8h-11.5zM969 2328.8l5.8 9.8h-11.5zM972.5 2319.3l5.8 9.8h-11.5zM976 2315.3l5.8 9.8h-11.5zM979.5 2313.5l5.8 9.8h-11.5zM983 2311.8l5.8 9.8h-11.5zM986.5 2315.6l5.8 9.8h-11.5zM990 2321.5l5.8 9.8h-11.5zM993.5 2318l5.8 9.8h-11.5zM997 2314.5l5.8 9.8h-11.5zM1000.5 2311.2l5.8 9.8h-11.5zM1004 2312l5.8 9.8h-11.5zM1007.5 2312.9l5.8 9.8h-11.5zM1011 2313.8l5.8 9.8h-11.5zM1014.5 2313.8l5.8 9.8h-11.5zM1018 2313.8l5.8 9.8h-11.5zM1021.5 2313.2l5.8 9.8h-11.5zM1025 2310.9l5.8 9.8h-11.5zM1028.5 2308.6l5.8 9.8h-11.5zM1032 2324.2l5.8 9.8h-11.5zM1035.5 2337.3l5.8 9.8h-11.5zM1039 2364.1l5.8 9.8h-11.5zM1042.5 2392l5.8 9.8h-11.5zM1046 2417.2l5.8 9.8h-11.5zM1049.5 2427.8l5.8 9.8h-11.5zM1053 2439.1l5.8 9.8h-11.5zM1056.5 2451.3l5.8 9.8h-11.5zM1060 2455.8l5.8 9.8h-11.5zM1063.5 2455.2l5.8 9.8h-11.5zM1067 2454.6l5.8 9.8h-11.5zM1070.5 2450.2l5.8 9.8h-11.5zM1074 2445l5.8 9.8h-11.5zM1077.5 2442.6l5.8 9.8h-11.5zM1081 2440.3l5.8 9.8h-11.5zM1084.5 2443.7l5.8 9.8h-11.5zM1088 2472.8l5.8 9.8h-11.5zM1091.5 2507.8l5.8 9.8h-11.5zM1095 2542.5l5.8 9.8h-11.5zM1098.5 2571.6l5.8 9.8h-11.5zM1102 2596.1l5.8 9.8h-11.5zM1105.5 2633.4l5.8 9.8h-11.5zM1109 2679.8l5.8 9.8h-11.5zM1112.5 2714.3l5.8 9.8h-11.5zM1116 2742l5.8 9.8h-11.5zM1119.5 2760.2l5.8 9.8h-11.5zM1123 2776.7l5.8 9.8h-11.5zM1126.5 2784.3l5.8 9.8h-11.5zM1130 2791.9l5.8 9.8h-11.5zM1133.5 2798.7l5.8 9.8h-11.5zM1137 2803.9l5.8 9.8h-11.5zM1140.5 2809.2l5.8 9.8h-11.5zM1144 2814.4l5.8 9.8h-11.5zM1147.5 2818.3l5.8 9.8h-11.5zM1151 2821.4l5.8 9.8h-11.5zM1154.5 2824.6l5.8 9.8h-11.5zM1158 2827.7l5.8 9.8h-11.5zM1161.5 2830.8l5.8 9.8h-11.5zM1165 2832.6l5.8 9.8h-11.5zM1168.5 2834.3l5.8 9.8h-11.5zM1172 2836.1l5.8 9.8h-11.5zM1175.5 2837.8l5.8 9.8h-11.5zM1179 2839.6l5.8 9.8h-11.5zM1182.5 2841l5.8 9.8h-11.5zM1186 2841.9l5.8 9.8h-11.5zM1189.5 2842.8l5.8 9.8h-11.5zM1193 2843.8l5.8 9.8h-11.5zM1196.5 2844.7l5.8 9.8h-11.5zM1200 2845.7l5.8 9.8h-11.5zM1203.5 2846.6l5.8 9.8h-11.5zM1207 2847.7l5.8 9.8h-11.5zM1210.5 2848.8l5.8 9.8h-11.5zM1214 2850l5.8 9.8h-11.5zM1217.5 2851.2l5.8 9.8h-11.5zM1221 2852.3l5.8 9.8h-11.5zM1224.5 2853.5l5.8 9.8h-11.5zM1228 2854.7l5.8 9.8h-11.5zM1231.5 2855.7l5.8 9.8h-11.5zM1235 2856.5l5.8 9.8h-11.5zM1238.5 2857.4l5.8 9.8h-11.5zM1242 2858.3l5.8 9.8h-11.5zM1245.5 2859.2l5.8 9.8h-11.5zM1249 2860.1l5.8 9.8h-11.5zM1252.5 2860.9l5.8 9.8h-11.5zM1256 2861.8l5.8 9.8h-11.5zM1259.5 2862.7l5.8 9.8h-11.5zM1263 2863.4l5.8 9.8h-11.5zM1266.5 2863.9l5.8 9.8h-11.5zM1270 2864.5l5.8 9.8h-11.5zM1273.5 2865l5.8 9.8h-11.5zM1277 2865.5l5.8 9.8h-11.5zM1280.5 2866l5.8 9.8h-11.5zM1284 2866.5l5.8 9.8h-11.5zM1287.5 2867.1l5.8 9.8h-11.5zM1291 2867.6l5.8 9.8h-11.5zM1294.5 2868.1l5.8 9.8h-11.5zM1298 2868.3l5.8 9.8h-11.5zM1301.5 2868.6l5.8 9.8h-11.5zM1305 2868.8l5.8 9.8h-11.5zM1308.5 2869l5.8 9.8h-11.5zM1312 2869.3l5.8 9.8h-11.5zM1315.5 2869.5l5.8 9.8h-11.5zM1319 2869.8l5.8 9.8h-11.5zM1322.5 2870l5.8 9.8h-11.5zM1326 2870.3l5.8 9.8h-11.5zM1329.5 2870.5l5.8 9.8h-11.5zM1333 2870.7l5.8 9.8h-11.5zM1336.5 2871l5.8 9.8h-11.5zM1340 2871.2l5.8 9.8h-11.5zM1343.5 2871.3l5.8 9.8h-11.5zM1347 2871.4l5.8 9.8h-11.5zM1350.5 2871.5l5.8 9.8h-11.5zM1354 2871.6l5.8 9.8h-11.5zM1357.5 2871.7l5.8 9.8h-11.5zM1361 2871.7l5.8 9.8h-11.5zM1364.5 2871.8l5.8 9.8h-11.5zM1368 2871.9l5.8 9.8h-11.5zM1371.5 2872l5.8 9.8h-11.5zM1375 2872.1l5.8 9.8h-11.5zM1378.5 2872.2l5.8 9.8h-11.5zM1382 2872.3l5.8 9.8h-11.5zM1385.5 2872.3l5.8 9.8h-11.5zM1389 2872.4l5.8 9.8h-11.5zM1392.5 2872.5l5.8 9.8h-11.5zM1396 2872.6l5.8 9.8h-11.5zM1399.5 2872.7l5.8 9.8h-11.5zM1403 2872.8l5.8 9.8h-11.5zM1406.5 2872.9l5.8 9.8h-11.5zM1410 2872.9l5.8 9.8h-11.5zM1413.5 2873l5.8 9.8h-11.5zM1417 2873.1l5.8 9.8h-11.5zM1420.5 2873.2l5.8 9.8h-11.5zM1424 2873.3l5.8 9.8h-11.5zM1427.5 2873.4l5.8 9.8h-11.5zM1431 2873.5l5.8 9.8h-11.5zM1434.5 2873.5l5.8 9.8h-11.5zM1438 2873.6l5.8 9.8h-11.5zM1441.5 2873.7l5.8 9.8h-11.5zM1445 2873.8l5.8 9.8h-11.5zM1448.5 2873.9l5.8 9.8h-11.5zM1452 2874l5.8 9.8h-11.5zM1455.5 2874.1l5.8 9.8h-11.5zM1459 2874.1l5.8 9.8h-11.5zM1462.5 2874.2l5.8 9.8h-11.5zM1466 2874.3l5.8 9.8h-11.5zM1469.5 2874.4l5.8 9.8h-11.5zM1473 2874.5l5.8 9.8h-11.5zM1476.5 2874.6l5.8 9.8h-11.5zM1480 2874.6l5.8 9.8h-11.5zM1483.5 2874.7l5.8 9.8h-11.5zM1487 2874.8l5.8 9.8h-11.5zM1490.5 2874.9l5.8 9.8h-11.5zM1494 2875l5.8 9.8h-11.5zM1497.5 2875.1l5.8 9.8h-11.5zM1501 2875.1l5.8 9.8h-11.5zM1504.5 2875.2l5.8 9.8h-11.5zM1508 2875.2l5.8 9.8h-11.5zM1511.5 2875.3l5.8 9.8h-11.5zM1515 2875.3l5.8 9.8h-11.5zM1518.5 2875.4l5.8 9.8h-11.5zM1522 2875.4l5.8 9.8h-11.5zM1525.5 2875.5l5.8 9.8h-11.5zM1529 2875.5l5.8 9.8h-11.5zM1532.5 2875.6l5.8 9.8h-11.5zM1536 2875.6l5.8 9.8h-11.5zM1539.5 2875.7l5.8 9.8h-11.5zM1543 2875.7l5.8 9.8h-11.5zM1546.5 2875.8l5.8 9.8h-11.5zM1550 2875.8l5.8 9.8h-11.5zM1553.5 2875.9l5.8 9.8h-11.5zM1557 2875.9l5.8 9.8h-11.5zM1560.5 2876l5.8 9.8h-11.5zM1564 2876l5.8 9.8h-11.5zM1567.5 2876.1l5.8 9.8h-11.5zM1571 2876.1l5.8 9.8h-11.5zM1574.5 2876.2l5.8 9.8h-11.5zM1578 2876.2l5.8 9.8h-11.5zM1581.5 2876.3l5.8 9.8h-11.5zM1585 2876.3l5.8 9.8h-11.5zM1588.5 2876.3l5.8 9.8h-11.5zM1592 2876.4l5.8 9.8h-11.5zM1595.5 2876.4l5.8 9.8h-11.5zM1599 2876.5l5.8 9.8h-11.5zM1602.5 2876.5l5.8 9.8h-11.5zM1606 2876.6l5.8 9.8h-11.5zM1609.5 2876.6l5.8 9.8h-11.5zM1613 2876.7l5.8 9.8h-11.5zM1616.5 2876.7l5.8 9.8h-11.5zM1620 2876.8l5.8 9.8h-11.5zM1623.5 2876.8l5.8 9.8h-11.5zM1627 2876.9l5.8 9.8h-11.5zM1630.5 2876.9l5.8 9.8h-11.5zM1634 2877l5.8 9.8h-11.5zM1637.5 2877l5.8 9.8h-11.5zM1641 2877.1l5.8 9.8h-11.5z" fill="#1A6FDF" stroke="none"/>
<polyline points="211,2887 410,2887 429,2879.3 445.1,2875.3 456.4,2865.6 464.5,2849.4 471,2825.1 475.8,2800.9 479.1,2776.6 482.3,2752.3 486.2,2720 489.8,2684.8 495.2,2617.4 499.3,2550 502,2484.8 505.3,2444.3 508,2390.4 514,2370 520.2,2350 520.8,2284.8 524,2250 530.3,2222.5 530.8,2244 531.6,2284.8 532.6,2350 533.6,2417.4 534.3,2484.8 534.6,2550 535,2617.4 535.7,2684.8 536,2720 536.5,2752.3 537.3,2787.9 542.2,2800.9 550.2,2807.3 563.2,2802.5 572.9,2796 580,2794.4 586.2,2790.6 602.3,2784.9 618.5,2784.9 634.7,2789 644.4,2797 650.9,2808.4 660.6,2822.9 670.3,2834.2 683.2,2842.3 699.4,2843.1 715.6,2835.8 731.7,2829.4 747.9,2824.5 764.1,2819.7 780.1,2808 789.7,2795.3 801.8,2779.5 811.5,2763.7 818.8,2746.7 828.5,2732.2 835.8,2728.5 845.5,2734.6 855.2,2724.9 864.9,2710.4 874.6,2692.2 883.1,2676.4 891.6,2658.2 900.1,2643.6 904.3,2630.2 914,2606 920.4,2581.7 925.3,2557.5 930.1,2533.2 936.6,2510.6 944.7,2497.6 947.9,2476.6 951,2442 957.3,2410.2 963.8,2386 968.6,2358.5 973.5,2339 978,2317 983.2,2297 989.6,2277.6 994.8,2256.5 1003.1,2245.6 1011.2,2240.2 1016.6,2238.3 1022,2242.9 1026,2257.7 1028.7,2268.5 1035.5,2260.4 1040.9,2271.2 1046.3,2278 1054.3,2276.6 1062.4,2269.9 1070.5,2278 1078.6,2282 1085.3,2273.9 1092.1,2276.6 1094.8,2300.9 1098.8,2338.6 1101.5,2368.2 1104.2,2395.2 1105.5,2420 1106.1,2434.3 1108.1,2470 1110.8,2515.2 1113.5,2560 1116.5,2600 1118.6,2620 1121,2652.3 1124.3,2684.7 1129.1,2717 1135.6,2749.4 1145.3,2778.5 1158.2,2799.5 1172.8,2815.7 1190.6,2827 1213.2,2836.7 1237.5,2844.8 1261.7,2852.9 1294.1,2857.7 1340,2861 1441,2864.5 1530,2870 1552,2873.4 1646,2879" stroke="#37AD6B" stroke-width="6.7" />
<path d="M213 2892.9l5.8 -9.8h-11.5zM216.5 2892.9l5.8 -9.8h-11.5zM220 2892.9l5.8 -9.8h-11.5zM223.5 2892.9l5.8 -9.8h-11.5zM227 2892.9l5.8 -9.8h-11.5zM230.5 2892.9l5.8 -9.8h-11.5zM234 2892.9l5.8 -9.8h-11.5zM237.5 2892.9l5.8 -9.8h-11.5zM241 2892.9l5.8 -9.8h-11.5zM244.5 2892.9l5.8 -9.8h-11.5zM248 2892.9l5.8 -9.8h-11.5zM251.5 2892.9l5.8 -9.8h-11.5zM255 2892.9l5.8 -9.8h-11.5zM258.5 2892.9l5.8 -9.8h-11.5zM262 2892.9l5.8 -9.8h-11.5zM265.5 2892.9l5.8 -9.8h-11.5zM269 2892.9l5.8 -9.8h-11.5zM272.5 2892.9l5.8 -9.8h-11.5zM276 2892.9l5.8 -9.8h-11.5zM279.5 2892.9l5.8 -9.8h-11.5zM283 2892.9l5.8 -9.8h-11.5zM286.5 2892.9l5.8 -9.8h-11.5zM290 2892.9l5.8 -9.8h-11.5zM293.5 2892.9l5.8 -9.8h-11.5zM297 2892.9l5.8 -9.8h-11.5zM300.5 2892.9l5.8 -9.8h-11.5zM304 2892.9l5.8 -9.8h-11.5zM307.5 2892.9l5.8 -9.8h-11.5zM311 2892.9l5.8 -9.8h-11.5zM314.5 2892.9l5.8 -9.8h-11.5zM318 2892.9l5.8 -9.8h-11.5zM321.5 2892.9l5.8 -9.8h-11.5zM325 2892.9l5.8 -9.8h-11.5zM328.5 2892.9l5.8 -9.8h-11.5zM332 2892.9l5.8 -9.8h-11.5zM335.5 2892.9l5.8 -9.8h-11.5zM339 2892.9l5.8 -9.8h-11.5zM342.5 2892.9l5.8 -9.8h-11.5zM346 2892.9l5.8 -9.8h-11.5zM349.5 2892.9l5.8 -9.8h-11.5zM353 2892.9l5.8 -9.8h-11.5zM356.5 2892.9l5.8 -9.8h-11.5zM360 2892.9l5.8 -9.8h-11.5zM363.5 2892.9l5.8 -9.8h-11.5zM367 2892.9l5.8 -9.8h-11.5zM370.5 2892.9l5.8 -9.8h-11.5zM374 2892.9l5.8 -9.8h-11.5zM377.5 2892.9l5.8 -9.8h-11.5zM381 2892.9l5.8 -9.8h-11.5zM384.5 2892.9l5.8 -9.8h-11.5zM388 2892.9l5.8 -9.8h-11.5zM391.5 2892.9l5.8 -9.8h-11.5zM395 2892.9l5.8 -9.8h-11.5zM398.5 2892.9l5.8 -9.8h-11.5zM402 2892.9l5.8 -9.8h-11.5zM405.5 2892.9l5.8 -9.8h-11.5zM409 2892.9l5.8 -9.8h-11.5zM412.5 2891.9l5.8 -9.8h-11.5zM416 2890.4l5.8 -9.8h-11.5zM419.5 2889l5.8 -9.8h-11.5zM423 2887.6l5.8 -9.8h-11.5zM426.5 2886.2l5.8 -9.8h-11.5zM430 2884.9l5.8 -9.8h-11.5zM433.5 2884l5.8 -9.8h-11.5zM437 2883.2l5.8 -9.8h-11.5zM440.5 2882.3l5.8 -9.8h-11.5zM444 2881.4l5.8 -9.8h-11.5zM447.5 2879.1l5.8 -9.8h-11.5zM451 2876.1l5.8 -9.8h-11.5zM454.5 2873.1l5.8 -9.8h-11.5zM458 2868.3l5.8 -9.8h-11.5zM461.5 2861.3l5.8 -9.8h-11.5zM465 2853.4l5.8 -9.8h-11.5zM468.5 2840.3l5.8 -9.8h-11.5zM472 2825.9l5.8 -9.8h-11.5zM475.5 2808.3l5.8 -9.8h-11.5zM479 2783.2l5.8 -9.8h-11.5zM482.5 2756.5l5.8 -9.8h-11.5zM486 2727.5l5.8 -9.8h-11.5zM489.5 2693.6l5.8 -9.8h-11.5zM493 2650.7l5.8 -9.8h-11.5zM496.5 2601.9l5.8 -9.8h-11.5zM500 2539l5.8 -9.8h-11.5zM503.5 2472.3l5.8 -9.8h-11.5zM507 2416.2l5.8 -9.8h-11.5zM510.5 2387.8l5.8 -9.8h-11.5zM514 2375.9l5.8 -9.8h-11.5zM517.5 2364.6l5.8 -9.8h-11.5zM521 2288.5l5.8 -9.8h-11.5zM524.5 2253.7l5.8 -9.8h-11.5zM528 2238.4l5.8 -9.8h-11.5zM531.5 2285.6l5.8 -9.8h-11.5zM535 2623.3l5.8 -9.8h-11.5zM538.5 2796.9l5.8 -9.8h-11.5zM542 2806.2l5.8 -9.8h-11.5zM545.5 2809.4l5.8 -9.8h-11.5zM549 2812.2l5.8 -9.8h-11.5zM552.5 2812.3l5.8 -9.8h-11.5zM556 2811l5.8 -9.8h-11.5zM559.5 2809.7l5.8 -9.8h-11.5zM563 2808.4l5.8 -9.8h-11.5zM566.5 2806.2l5.8 -9.8h-11.5zM570 2803.8l5.8 -9.8h-11.5zM573.5 2801.7l5.8 -9.8h-11.5zM577 2800.9l5.8 -9.8h-11.5zM580.5 2800l5.8 -9.8h-11.5zM584 2797.8l5.8 -9.8h-11.5zM587.5 2796l5.8 -9.8h-11.5zM591 2794.8l5.8 -9.8h-11.5zM594.5 2793.5l5.8 -9.8h-11.5zM598 2792.3l5.8 -9.8h-11.5zM601.5 2791l5.8 -9.8h-11.5zM605 2790.8l5.8 -9.8h-11.5zM608.5 2790.8l5.8 -9.8h-11.5zM612 2790.8l5.8 -9.8h-11.5zM615.5 2790.8l5.8 -9.8h-11.5zM619 2790.9l5.8 -9.8h-11.5zM622.5 2791.8l5.8 -9.8h-11.5zM626 2792.7l5.8 -9.8h-11.5zM629.5 2793.5l5.8 -9.8h-11.5zM633 2794.4l5.8 -9.8h-11.5zM636.5 2796.3l5.8 -9.8h-11.5zM640 2799.2l5.8 -9.8h-11.5zM643.5 2802.1l5.8 -9.8h-11.5zM647 2807.4l5.8 -9.8h-11.5zM650.5 2813.6l5.8 -9.8h-11.5zM654 2818.9l5.8 -9.8h-11.5zM657.5 2824.1l5.8 -9.8h-11.5zM661 2829.2l5.8 -9.8h-11.5zM664.5 2833.3l5.8 -9.8h-11.5zM668 2837.4l5.8 -9.8h-11.5zM671.5 2840.8l5.8 -9.8h-11.5zM675 2843l5.8 -9.8h-11.5zM678.5 2845.2l5.8 -9.8h-11.5zM682 2847.4l5.8 -9.8h-11.5zM685.5 2848.3l5.8 -9.8h-11.5zM689 2848.5l5.8 -9.8h-11.5zM692.5 2848.6l5.8 -9.8h-11.5zM696 2848.8l5.8 -9.8h-11.5zM699.5 2848.9l5.8 -9.8h-11.5zM703 2847.3l5.8 -9.8h-11.5zM706.5 2845.8l5.8 -9.8h-11.5zM710 2844.2l5.8 -9.8h-11.5zM713.5 2842.6l5.8 -9.8h-11.5zM717 2841.1l5.8 -9.8h-11.5zM720.5 2839.7l5.8 -9.8h-11.5zM724 2838.3l5.8 -9.8h-11.5zM727.5 2836.9l5.8 -9.8h-11.5zM731 2835.5l5.8 -9.8h-11.5zM734.5 2834.4l5.8 -9.8h-11.5zM738 2833.4l5.8 -9.8h-11.5zM741.5 2832.3l5.8 -9.8h-11.5zM745 2831.2l5.8 -9.8h-11.5zM748.5 2830.2l5.8 -9.8h-11.5zM752 2829.2l5.8 -9.8h-11.5zM755.5 2828.1l5.8 -9.8h-11.5zM759 2827.1l5.8 -9.8h-11.5zM762.5 2826l5.8 -9.8h-11.5zM766 2824.2l5.8 -9.8h-11.5zM769.5 2821.6l5.8 -9.8h-11.5zM773 2819.1l5.8 -9.8h-11.5zM776.5 2816.5l5.8 -9.8h-11.5zM780 2813.9l5.8 -9.8h-11.5zM783.5 2809.4l5.8 -9.8h-11.5zM787 2804.7l5.8 -9.8h-11.5zM790.5 2800.1l5.8 -9.8h-11.5zM794 2795.6l5.8 -9.8h-11.5zM797.5 2791l5.8 -9.8h-11.5zM801 2786.4l5.8 -9.8h-11.5zM804.5 2781l5.8 -9.8h-11.5zM808 2775.3l5.8 -9.8h-11.5zM811.5 2769.6l5.8 -9.8h-11.5zM815 2761.4l5.8 -9.8h-11.5zM818.5 2753.3l5.8 -9.8h-11.5zM822 2747.8l5.8 -9.8h-11.5zM825.5 2742.5l5.8 -9.8h-11.5zM829 2737.8l5.8 -9.8h-11.5zM832.5 2736l5.8 -9.8h-11.5zM836 2734.5l5.8 -9.8h-11.5zM839.5 2736.7l5.8 -9.8h-11.5zM843 2738.9l5.8 -9.8h-11.5zM846.5 2739.5l5.8 -9.8h-11.5zM850 2736l5.8 -9.8h-11.5zM853.5 2732.5l5.8 -9.8h-11.5zM857 2728.1l5.8 -9.8h-11.5zM860.5 2722.8l5.8 -9.8h-11.5zM864 2717.6l5.8 -9.8h-11.5zM867.5 2711.4l5.8 -9.8h-11.5zM871 2704.8l5.8 -9.8h-11.5zM874.5 2698.3l5.8 -9.8h-11.5zM878 2691.7l5.8 -9.8h-11.5zM881.5 2685.2l5.8 -9.8h-11.5zM885 2678.2l5.8 -9.8h-11.5zM888.5 2670.7l5.8 -9.8h-11.5zM892 2663.4l5.8 -9.8h-11.5zM895.5 2657.4l5.8 -9.8h-11.5zM899 2651.4l5.8 -9.8h-11.5zM902.5 2641.8l5.8 -9.8h-11.5zM906 2631.8l5.8 -9.8h-11.5zM909.5 2623.1l5.8 -9.8h-11.5zM913 2614.4l5.8 -9.8h-11.5zM916.5 2602.4l5.8 -9.8h-11.5zM920 2589.1l5.8 -9.8h-11.5zM923.5 2572.3l5.8 -9.8h-11.5zM927 2554.8l5.8 -9.8h-11.5zM930.5 2537.7l5.8 -9.8h-11.5zM934 2525.5l5.8 -9.8h-11.5zM937.5 2515l5.8 -9.8h-11.5zM941 2509.4l5.8 -9.8h-11.5zM944.5 2503.8l5.8 -9.8h-11.5zM948 2481.3l5.8 -9.8h-11.5zM951.5 2445.3l5.8 -9.8h-11.5zM955 2427.7l5.8 -9.8h-11.5zM958.5 2411.6l5.8 -9.8h-11.5zM962 2398.6l5.8 -9.8h-11.5zM965.5 2382.1l5.8 -9.8h-11.5zM969 2362.8l5.8 -9.8h-11.5zM972.5 2348.8l5.8 -9.8h-11.5zM976 2332.6l5.8 -9.8h-11.5zM979.5 2317.1l5.8 -9.8h-11.5zM983 2303.6l5.8 -9.8h-11.5zM986.5 2292.9l5.8 -9.8h-11.5zM990 2281.8l5.8 -9.8h-11.5zM993.5 2267.6l5.8 -9.8h-11.5zM997 2259.5l5.8 -9.8h-11.5zM1000.5 2254.9l5.8 -9.8h-11.5zM1004 2250.9l5.8 -9.8h-11.5zM1007.5 2248.5l5.8 -9.8h-11.5zM1011 2246.2l5.8 -9.8h-11.5zM1014.5 2244.9l5.8 -9.8h-11.5zM1018 2245.4l5.8 -9.8h-11.5zM1021.5 2248.3l5.8 -9.8h-11.5zM1025 2259.9l5.8 -9.8h-11.5zM1028.5 2273.6l5.8 -9.8h-11.5zM1032 2270.4l5.8 -9.8h-11.5zM1035.5 2266.3l5.8 -9.8h-11.5zM1039 2273.3l5.8 -9.8h-11.5zM1042.5 2279.1l5.8 -9.8h-11.5zM1046 2283.5l5.8 -9.8h-11.5zM1049.5 2283.3l5.8 -9.8h-11.5zM1053 2282.7l5.8 -9.8h-11.5zM1056.5 2280.6l5.8 -9.8h-11.5zM1060 2277.8l5.8 -9.8h-11.5zM1063.5 2276.9l5.8 -9.8h-11.5zM1067 2280.4l5.8 -9.8h-11.5zM1070.5 2283.9l5.8 -9.8h-11.5zM1074 2285.6l5.8 -9.8h-11.5zM1077.5 2287.3l5.8 -9.8h-11.5zM1081 2285l5.8 -9.8h-11.5zM1084.5 2280.7l5.8 -9.8h-11.5zM1088 2280.8l5.8 -9.8h-11.5zM1091.5 2282.2l5.8 -9.8h-11.5zM1095 2308.7l5.8 -9.8h-11.5zM1098.5 2341.6l5.8 -9.8h-11.5zM1102 2379.1l5.8 -9.8h-11.5zM1105.5 2425.9l5.8 -9.8h-11.5zM1109 2490.9l5.8 -9.8h-11.5zM1112.5 2549.3l5.8 -9.8h-11.5zM1116 2599.2l5.8 -9.8h-11.5zM1119.5 2638l5.8 -9.8h-11.5zM1123 2677.8l5.8 -9.8h-11.5zM1126.5 2705.4l5.8 -9.8h-11.5zM1130 2727.4l5.8 -9.8h-11.5zM1133.5 2744.8l5.8 -9.8h-11.5zM1137 2759.5l5.8 -9.8h-11.5zM1140.5 2770l5.8 -9.8h-11.5zM1144 2780.5l5.8 -9.8h-11.5zM1147.5 2787.9l5.8 -9.8h-11.5zM1151 2793.6l5.8 -9.8h-11.5zM1154.5 2799.3l5.8 -9.8h-11.5zM1158 2805l5.8 -9.8h-11.5zM1161.5 2809l5.8 -9.8h-11.5zM1165 2812.9l5.8 -9.8h-11.5zM1168.5 2816.8l5.8 -9.8h-11.5zM1172 2820.7l5.8 -9.8h-11.5zM1175.5 2823.3l5.8 -9.8h-11.5zM1179 2825.5l5.8 -9.8h-11.5zM1182.5 2827.7l5.8 -9.8h-11.5zM1186 2829.9l5.8 -9.8h-11.5zM1189.5 2832.2l5.8 -9.8h-11.5zM1193 2833.9l5.8 -9.8h-11.5zM1196.5 2835.4l5.8 -9.8h-11.5zM1200 2836.9l5.8 -9.8h-11.5zM1203.5 2838.4l5.8 -9.8h-11.5zM1207 2839.9l5.8 -9.8h-11.5zM1210.5 2841.4l5.8 -9.8h-11.5zM1214 2842.8l5.8 -9.8h-11.5zM1217.5 2844l5.8 -9.8h-11.5zM1221 2845.2l5.8 -9.8h-11.5zM1224.5 2846.3l5.8 -9.8h-11.5zM1228 2847.5l5.8 -9.8h-11.5zM1231.5 2848.7l5.8 -9.8h-11.5zM1235 2849.8l5.8 -9.8h-11.5zM1238.5 2851l5.8 -9.8h-11.5zM1242 2852.2l5.8 -9.8h-11.5zM1245.5 2853.3l5.8 -9.8h-11.5zM1249 2854.5l5.8 -9.8h-11.5zM1252.5 2855.7l5.8 -9.8h-11.5zM1256 2856.9l5.8 -9.8h-11.5zM1259.5 2858l5.8 -9.8h-11.5zM1263 2859l5.8 -9.8h-11.5zM1266.5 2859.5l5.8 -9.8h-11.5zM1270 2860l5.8 -9.8h-11.5zM1273.5 2860.5l5.8 -9.8h-11.5zM1277 2861l5.8 -9.8h-11.5zM1280.5 2861.6l5.8 -9.8h-11.5zM1284 2862.1l5.8 -9.8h-11.5zM1287.5 2862.6l5.8 -9.8h-11.5zM1291 2863.1l5.8 -9.8h-11.5zM1294.5 2863.6l5.8 -9.8h-11.5zM1298 2863.8l5.8 -9.8h-11.5zM1301.5 2864.1l5.8 -9.8h-11.5zM1305 2864.3l5.8 -9.8h-11.5zM1308.5 2864.6l5.8 -9.8h-11.5zM1312 2864.9l5.8 -9.8h-11.5zM1315.5 2865.1l5.8 -9.8h-11.5zM1319 2865.4l5.8 -9.8h-11.5zM1322.5 2865.6l5.8 -9.8h-11.5zM1326 2865.9l5.8 -9.8h-11.5zM1329.5 2866.1l5.8 -9.8h-11.5zM1333 2866.4l5.8 -9.8h-11.5zM1336.5 2866.6l5.8 -9.8h-11.5zM1340 2866.9l5.8 -9.8h-11.5zM1343.5 2867l5.8 -9.8h-11.5zM1347 2867.1l5.8 -9.8h-11.5zM1350.5 2867.2l5.8 -9.8h-11.5zM1354 2867.4l5.8 -9.8h-11.5zM1357.5 2867.5l5.8 -9.8h-11.5zM1361 2867.6l5.8 -9.8h-11.5zM1364.5 2867.7l5.8 -9.8h-11.5zM1368 2867.8l5.8 -9.8h-11.5zM1371.5 2868l5.8 -9.8h-11.5zM1375 2868.1l5.8 -9.8h-11.5zM1378.5 2868.2l5.8 -9.8h-11.5zM1382 2868.3l5.8 -9.8h-11.5zM1385.5 2868.4l5.8 -9.8h-11.5zM1389 2868.6l5.8 -9.8h-11.5zM1392.5 2868.7l5.8 -9.8h-11.5zM1396 2868.8l5.8 -9.8h-11.5zM1399.5 2868.9l5.8 -9.8h-11.5zM1403 2869l5.8 -9.8h-11.5zM1406.5 2869.2l5.8 -9.8h-11.5zM1410 2869.3l5.8 -9.8h-11.5zM1413.5 2869.4l5.8 -9.8h-11.5zM1417 2869.5l5.8 -9.8h-11.5zM1420.5 2869.7l5.8 -9.8h-11.5zM1424 2869.8l5.8 -9.8h-11.5zM1427.5 2869.9l5.8 -9.8h-11.5zM1431 2870l5.8 -9.8h-11.5zM1434.5 2870.1l5.8 -9.8h-11.5zM1438 2870.3l5.8 -9.8h-11.5zM1441.5 2870.4l5.8 -9.8h-11.5zM1445 2870.6l5.8 -9.8h-11.5zM1448.5 2870.8l5.8 -9.8h-11.5zM1452 2871l5.8 -9.8h-11.5zM1455.5 2871.3l5.8 -9.8h-11.5zM1459 2871.5l5.8 -9.8h-11.5zM1462.5 2871.7l5.8 -9.8h-11.5zM1466 2871.9l5.8 -9.8h-11.5zM1469.5 2872.1l5.8 -9.8h-11.5zM1473 2872.3l5.8 -9.8h-11.5zM1476.5 2872.6l5.8 -9.8h-11.5zM1480 2872.8l5.8 -9.8h-11.5zM1483.5 2873l5.8 -9.8h-11.5zM1487 2873.2l5.8 -9.8h-11.5zM1490.5 2873.4l5.8 -9.8h-11.5zM1494 2873.6l5.8 -9.8h-11.5zM1497.5 2873.9l5.8 -9.8h-11.5zM1501 2874.1l5.8 -9.8h-11.5zM1504.5 2874.3l5.8 -9.8h-11.5zM1508 2874.5l5.8 -9.8h-11.5zM1511.5 2874.7l5.8 -9.8h-11.5zM1515 2874.9l5.8 -9.8h-11.5zM1518.5 2875.2l5.8 -9.8h-11.5zM1522 2875.4l5.8 -9.8h-11.5zM1525.5 2875.6l5.8 -9.8h-11.5zM1529 2875.8l5.8 -9.8h-11.5zM1532.5 2876.3l5.8 -9.8h-11.5zM1536 2876.8l5.8 -9.8h-11.5zM1539.5 2877.3l5.8 -9.8h-11.5zM1543 2877.9l5.8 -9.8h-11.5zM1546.5 2878.4l5.8 -9.8h-11.5zM1550 2879l5.8 -9.8h-11.5zM1553.5 2879.4l5.8 -9.8h-11.5zM1557 2879.6l5.8 -9.8h-11.5zM1560.5 2879.8l5.8 -9.8h-11.5zM1564 2880l5.8 -9.8h-11.5zM1567.5 2880.2l5.8 -9.8h-11.5zM1571 2880.4l5.8 -9.8h-11.5zM1574.5 2880.6l5.8 -9.8h-11.5zM1578 2880.8l5.8 -9.8h-11.5zM1581.5 2881l5.8 -9.8h-11.5zM1585 2881.2l5.8 -9.8h-11.5zM1588.5 2881.4l5.8 -9.8h-11.5zM1592 2881.6l5.8 -9.8h-11.5zM1595.5 2881.9l5.8 -9.8h-11.5zM1599 2882.1l5.8 -9.8h-11.5zM1602.5 2882.3l5.8 -9.8h-11.5zM1606 2882.5l5.8 -9.8h-11.5zM1609.5 2882.7l5.8 -9.8h-11.5zM1613 2882.9l5.8 -9.8h-11.5zM1616.5 2883.1l5.8 -9.8h-11.5zM1620 2883.3l5.8 -9.8h-11.5zM1623.5 2883.5l5.8 -9.8h-11.5zM1627 2883.7l5.8 -9.8h-11.5zM1630.5 2883.9l5.8 -9.8h-11.5zM1634 2884.2l5.8 -9.8h-11.5zM1637.5 2884.4l5.8 -9.8h-11.5zM1641 2884.6l5.8 -9.8h-11.5z" fill="#37AD6B" stroke="none"/>
<polyline points="211,2886.2 440,2886.2 453.2,2883.3 469.4,2880.1 480.7,2872 490.4,2860.7 496.9,2847.8 500.1,2833.2 503.3,2817 506.6,2792.8 509,2768.5 510.3,2740 511.4,2684.8 512.1,2617.4 513.4,2550 513.8,2450 514.1,2350 514.8,2284.8 515.4,2217.4 517.5,2150 520.2,2106 522.9,2217.4 525.6,2284.8 526.9,2350 527.6,2417.4 529,2424 555,2424 556,2350 558.5,2290 561.3,2272 560.6,2350 561.9,2450 561.9,2550 562.4,2720 563.2,2752.3 564.8,2787.9 569.6,2805.7 574.9,2818.1 586.2,2827.8 602.3,2824.5 618.5,2821.3 634.7,2819.7 650.9,2822.9 667,2827.8 683.2,2832.6 699.4,2837.5 715.6,2835.8 731.7,2834.2 747.9,2831 764.1,2829.4 780,2829 804.3,2825.6 828.5,2817.1 846.7,2806.2 864.9,2790.4 883.1,2773.4 901.3,2751.6 913.4,2732.2 925.6,2712.8 937.7,2688.5 949.8,2664.3 960,2646.1 964.1,2638.3 973.8,2614.1 978.7,2589.8 985.1,2565.6 993.2,2544.5 999.7,2517 1004.5,2492.8 1009.4,2468.5 1012.6,2444.3 1016,2420 1019.3,2395.2 1023.3,2375 1027.4,2354.8 1031.4,2334.6 1036.8,2317 1042.2,2300.9 1047.6,2283.3 1054.3,2267.2 1062.4,2253.7 1070.5,2248.5 1078.6,2251 1089.4,2255 1100.2,2265.8 1106.9,2280.6 1112.3,2295.5 1117.7,2311.6 1121.7,2325.1 1125.8,2341.3 1128,2355 1132.3,2367 1139.1,2384.5 1145.8,2389.9 1151.2,2389.9 1158,2376.4 1164.7,2360.2 1170.1,2356 1175.5,2360.2 1178.2,2373.7 1180.9,2393.9 1183.6,2420.9 1186.3,2447.8 1187.6,2474.8 1190.3,2508.5 1191.6,2540 1196.2,2620 1197.8,2652.3 1200.3,2684.7 1203.5,2717 1206.7,2749.4 1212.1,2780 1214.6,2792.1 1217.8,2804.3 1223.4,2814 1230.7,2823.7 1240.4,2835 1252.6,2844.7 1264.7,2852.8 1276.8,2859.2 1288.9,2864.9 1305.1,2869.8 1320,2873 1340,2875.5 1380,2878.5 1441,2880.5 1552,2881.5 1646,2882.3" stroke="#B177DE" stroke-width="6.7" />
<path d="M213 2879.7l6.5 6.5l-6.5 6.5l-6.5 -6.5zM216.5 2879.7l6.5 6.5l-6.5 6.5l-6.5 -6.5zM220 2879.7l6.5 6.5l-6.5 6.5l-6.5 -6.5zM223.5 2879.7l6.5 6.5l-6.5 6.5l-6.5 -6.5zM227 2879.7l6.5 6.5l-6.5 6.5l-6.5 -6.5zM230.5 2879.7l6.5 6.5l-6.5 6.5l-6.5 -6.5zM234 2879.7l6.5 6.5l-6.5 6.5l-6.5 -6.5zM237.5 2879.7l6.5 6.5l-6.5 6.5l-6.5 -6.5zM241 2879.7l6.5 6.5l-6.5 6.5l-6.5 -6.5zM244.5 2879.7l6.5 6.5l-6.5 6.5l-6.5 -6.5zM248 2879.7l6.5 6.5l-6.5 6.5l-6.5 -6.5zM251.5 2879.7l6.5 6.5l-6.5 6.5l-6.5 -6.5zM255 2879.7l6.5 6.5l-6.5 6.5l-6.5 -6.5zM258.5 2879.7l6.5 6.5l-6.5 6.5l-6.5 -6.5zM262 2879.7l6.5 6.5l-6.5 6.5l-6.5 -6.5zM265.5 2879.7l6.5 6.5l-6.5 6.5l-6.5 -6.5zM269 2879.7l6.5 6.5l-6.5 6.5l-6.5 -6.5zM272.5 2879.7l6.5 6.5l-6.5 6.5l-6.5 -6.5zM276 2879.7l6.5 6.5l-6.5 6.5l-6.5 -6.5zM279.5 2879.7l6.5 6.5l-6.5 6.5l-6.5 -6.5zM283 2879.7l6.5 6.5l-6.5 6.5l-6.5 -6.5zM286.5 2879.7l6.5 6.5l-6.5 6.5l-6.5 -6.5zM290 2879.7l6.5 6.5l-6.5 6.5l-6.5 -6.5zM293.5 2879.7l6.5 6.5l-6.5 6.5l-6.5 -6.5zM297 2879.7l6.5 6.5l-6.5 6.5l-6.5 -6.5zM300.5 2879.7l6.5 6.5l-6.5 6.5l-6.5 -6.5zM304 2879.7l6.5 6.5l-6.5 6.5l-6.5 -6.5zM307.5 2879.7l6.5 6.5l-6.5 6.5l-6.5 -6.5zM311 2879.7l6.5 6.5l-6.5 6.5l-6.5 -6.5zM314.5 2879.7l6.5 6.5l-6.5 6.5l-6.5 -6.5zM318 2879.7l6.5 6.5l-6.5 6.5l-6.5 -6.5zM321.5 2879.7l6.5 6.5l-6.5 6.5l-6.5 -6.5zM325 2879.7l6.5 6.5l-6.5 6.5l-6.5 -6.5zM328.5 2879.7l6.5 6.5l-6.5 6.5l-6.5 -6.5zM332 2879.7l6.5 6.5l-6.5 6.5l-6.5 -6.5zM335.5 2879.7l6.5 6.5l-6.5 6.5l-6.5 -6.5zM339 2879.7l6.5 6.5l-6.5 6.5l-6.5 -6.5zM342.5 2879.7l6.5 6.5l-6.5 6.5l-6.5 -6.5zM346 2879.7l6.5 6.5l-6.5 6.5l-6.5 -6.5zM349.5 2879.7l6.5 6.5l-6.5 6.5l-6.5 -6.5zM353 2879.7l6.5 6.5l-6.5 6.5l-6.5 -6.5zM356.5 2879.7l6.5 6.5l-6.5 6.5l-6.5 -6.5zM360 2879.7l6.5 6.5l-6.5 6.5l-6.5 -6.5zM363.5 2879.7l6.5 6.5l-6.5 6.5l-6.5 -6.5zM367 2879.7l6.5 6.5l-6.5 6.5l-6.5 -6.5zM370.5 2879.7l6.5 6.5l-6.5 6.5l-6.5 -6.5zM374 2879.7l6.5 6.5l-6.5 6.5l-6.5 -6.5zM377.5 2879.7l6.5 6.5l-6.5 6.5l-6.5 -6.5zM381 2879.7l6.5 6.5l-6.5 6.5l-6.5 -6.5zM384.5 2879.7l6.5 6.5l-6.5 6.5l-6.5 -6.5zM388 2879.7l6.5 6.5l-6.5 6.5l-6.5 -6.5zM391.5 2879.7l6.5 6.5l-6.5 6.5l-6.5 -6.5zM395 2879.7l6.5 6.5l-6.5 6.5l-6.5 -6.5zM398.5 2879.7l6.5 6.5l-6.5 6.5l-6.5 -6.5zM402 2879.7l6.5 6.5l-6.5 6.5l-6.5 -6.5zM405.5 2879.7l6.5 6.5l-6.5 6.5l-6.5 -6.5zM409 2879.7l6.5 6.5l-6.5 6.5l-6.5 -6.5zM412.5 2879.7l6.5 6.5l-6.5 6.5l-6.5 -6.5zM416 2879.7l6.5 6.5l-6.5 6.5l-6.5 -6.5zM419.5 2879.7l6.5 6.5l-6.5 6.5l-6.5 -6.5zM423 2879.7l6.5 6.5l-6.5 6.5l-6.5 -6.5zM426.5 2879.7l6.5 6.5l-6.5 6.5l-6.5 -6.5zM430 2879.7l6.5 6.5l-6.5 6.5l-6.5 -6.5zM433.5 2879.7l6.5 6.5l-6.5 6.5l-6.5 -6.5zM437 2879.7l6.5 6.5l-6.5 6.5l-6.5 -6.5zM440.5 2879.6l6.5 6.5l-6.5 6.5l-6.5 -6.5zM444 2878.8l6.5 6.5l-6.5 6.5l-6.5 -6.5zM447.5 2878.1l6.5 6.5l-6.5 6.5l-6.5 -6.5zM451 2877.3l6.5 6.5l-6.5 6.5l-6.5 -6.5zM454.5 2876.5l6.5 6.5l-6.5 6.5l-6.5 -6.5zM458 2875.9l6.5 6.5l-6.5 6.5l-6.5 -6.5zM461.5 2875.2l6.5 6.5l-6.5 6.5l-6.5 -6.5zM465 2874.5l6.5 6.5l-6.5 6.5l-6.5 -6.5zM468.5 2873.8l6.5 6.5l-6.5 6.5l-6.5 -6.5zM472 2871.7l6.5 6.5l-6.5 6.5l-6.5 -6.5zM475.5 2869.2l6.5 6.5l-6.5 6.5l-6.5 -6.5zM479 2866.7l6.5 6.5l-6.5 6.5l-6.5 -6.5zM482.5 2863.4l6.5 6.5l-6.5 6.5l-6.5 -6.5zM486 2859.3l6.5 6.5l-6.5 6.5l-6.5 -6.5zM489.5 2855.2l6.5 6.5l-6.5 6.5l-6.5 -6.5zM493 2849l6.5 6.5l-6.5 6.5l-6.5 -6.5zM496.5 2842.1l6.5 6.5l-6.5 6.5l-6.5 -6.5zM500 2827.2l6.5 6.5l-6.5 6.5l-6.5 -6.5zM503.5 2809l6.5 6.5l-6.5 6.5l-6.5 -6.5zM507 2782.3l6.5 6.5l-6.5 6.5l-6.5 -6.5zM510.5 2723.5l6.5 6.5l-6.5 6.5l-6.5 -6.5zM514 2376.8l6.5 6.5l-6.5 6.5l-6.5 -6.5zM517.5 2143.5l6.5 6.5l-6.5 6.5l-6.5 -6.5zM521 2132.5l6.5 6.5l-6.5 6.5l-6.5 -6.5zM524.5 2250.8l6.5 6.5l-6.5 6.5l-6.5 -6.5zM528 2412.8l6.5 6.5l-6.5 6.5l-6.5 -6.5zM531.5 2417.5l6.5 6.5l-6.5 6.5l-6.5 -6.5zM535 2417.5l6.5 6.5l-6.5 6.5l-6.5 -6.5zM538.5 2417.5l6.5 6.5l-6.5 6.5l-6.5 -6.5zM542 2417.5l6.5 6.5l-6.5 6.5l-6.5 -6.5zM545.5 2417.5l6.5 6.5l-6.5 6.5l-6.5 -6.5zM549 2417.5l6.5 6.5l-6.5 6.5l-6.5 -6.5zM552.5 2417.5l6.5 6.5l-6.5 6.5l-6.5 -6.5zM556 2343.5l6.5 6.5l-6.5 6.5l-6.5 -6.5zM559.5 2277.1l6.5 6.5l-6.5 6.5l-6.5 -6.5zM563 2737.7l6.5 6.5l-6.5 6.5l-6.5 -6.5zM566.5 2787.7l6.5 6.5l-6.5 6.5l-6.5 -6.5zM570 2800.1l6.5 6.5l-6.5 6.5l-6.5 -6.5zM573.5 2808.3l6.5 6.5l-6.5 6.5l-6.5 -6.5zM577 2813.4l6.5 6.5l-6.5 6.5l-6.5 -6.5zM580.5 2816.4l6.5 6.5l-6.5 6.5l-6.5 -6.5zM584 2819.4l6.5 6.5l-6.5 6.5l-6.5 -6.5zM587.5 2821l6.5 6.5l-6.5 6.5l-6.5 -6.5zM591 2820.3l6.5 6.5l-6.5 6.5l-6.5 -6.5zM594.5 2819.6l6.5 6.5l-6.5 6.5l-6.5 -6.5zM598 2818.9l6.5 6.5l-6.5 6.5l-6.5 -6.5zM601.5 2818.2l6.5 6.5l-6.5 6.5l-6.5 -6.5zM605 2817.5l6.5 6.5l-6.5 6.5l-6.5 -6.5zM608.5 2816.8l6.5 6.5l-6.5 6.5l-6.5 -6.5zM612 2816.1l6.5 6.5l-6.5 6.5l-6.5 -6.5zM615.5 2815.4l6.5 6.5l-6.5 6.5l-6.5 -6.5zM619 2814.8l6.5 6.5l-6.5 6.5l-6.5 -6.5zM622.5 2814.4l6.5 6.5l-6.5 6.5l-6.5 -6.5zM626 2814.1l6.5 6.5l-6.5 6.5l-6.5 -6.5zM629.5 2813.7l6.5 6.5l-6.5 6.5l-6.5 -6.5zM633 2813.4l6.5 6.5l-6.5 6.5l-6.5 -6.5zM636.5 2813.6l6.5 6.5l-6.5 6.5l-6.5 -6.5zM640 2814.2l6.5 6.5l-6.5 6.5l-6.5 -6.5zM643.5 2814.9l6.5 6.5l-6.5 6.5l-6.5 -6.5zM647 2815.6l6.5 6.5l-6.5 6.5l-6.5 -6.5zM650.5 2816.3l6.5 6.5l-6.5 6.5l-6.5 -6.5zM654 2817.3l6.5 6.5l-6.5 6.5l-6.5 -6.5zM657.5 2818.4l6.5 6.5l-6.5 6.5l-6.5 -6.5zM661 2819.5l6.5 6.5l-6.5 6.5l-6.5 -6.5zM664.5 2820.5l6.5 6.5l-6.5 6.5l-6.5 -6.5zM668 2821.6l6.5 6.5l-6.5 6.5l-6.5 -6.5zM671.5 2822.6l6.5 6.5l-6.5 6.5l-6.5 -6.5zM675 2823.7l6.5 6.5l-6.5 6.5l-6.5 -6.5zM678.5 2824.7l6.5 6.5l-6.5 6.5l-6.5 -6.5zM682 2825.7l6.5 6.5l-6.5 6.5l-6.5 -6.5zM685.5 2826.8l6.5 6.5l-6.5 6.5l-6.5 -6.5zM689 2827.9l6.5 6.5l-6.5 6.5l-6.5 -6.5zM692.5 2828.9l6.5 6.5l-6.5 6.5l-6.5 -6.5zM696 2830l6.5 6.5l-6.5 6.5l-6.5 -6.5zM699.5 2831l6.5 6.5l-6.5 6.5l-6.5 -6.5zM703 2830.6l6.5 6.5l-6.5 6.5l-6.5 -6.5zM706.5 2830.3l6.5 6.5l-6.5 6.5l-6.5 -6.5zM710 2829.9l6.5 6.5l-6.5 6.5l-6.5 -6.5zM713.5 2829.5l6.5 6.5l-6.5 6.5l-6.5 -6.5zM717 2829.2l6.5 6.5l-6.5 6.5l-6.5 -6.5zM720.5 2828.8l6.5 6.5l-6.5 6.5l-6.5 -6.5zM724 2828.5l6.5 6.5l-6.5 6.5l-6.5 -6.5zM727.5 2828.1l6.5 6.5l-6.5 6.5l-6.5 -6.5zM731 2827.8l6.5 6.5l-6.5 6.5l-6.5 -6.5zM734.5 2827.1l6.5 6.5l-6.5 6.5l-6.5 -6.5zM738 2826.5l6.5 6.5l-6.5 6.5l-6.5 -6.5zM741.5 2825.8l6.5 6.5l-6.5 6.5l-6.5 -6.5zM745 2825.1l6.5 6.5l-6.5 6.5l-6.5 -6.5zM748.5 2824.4l6.5 6.5l-6.5 6.5l-6.5 -6.5zM752 2824.1l6.5 6.5l-6.5 6.5l-6.5 -6.5zM755.5 2823.7l6.5 6.5l-6.5 6.5l-6.5 -6.5zM759 2823.4l6.5 6.5l-6.5 6.5l-6.5 -6.5zM762.5 2823.1l6.5 6.5l-6.5 6.5l-6.5 -6.5zM766 2822.9l6.5 6.5l-6.5 6.5l-6.5 -6.5zM769.5 2822.8l6.5 6.5l-6.5 6.5l-6.5 -6.5zM773 2822.7l6.5 6.5l-6.5 6.5l-6.5 -6.5zM776.5 2822.6l6.5 6.5l-6.5 6.5l-6.5 -6.5zM780 2822.5l6.5 6.5l-6.5 6.5l-6.5 -6.5zM783.5 2822l6.5 6.5l-6.5 6.5l-6.5 -6.5zM787 2821.5l6.5 6.5l-6.5 6.5l-6.5 -6.5zM790.5 2821l6.5 6.5l-6.5 6.5l-6.5 -6.5zM794 2820.5l6.5 6.5l-6.5 6.5l-6.5 -6.5zM797.5 2820.1l6.5 6.5l-6.5 6.5l-6.5 -6.5zM801 2819.6l6.5 6.5l-6.5 6.5l-6.5 -6.5zM804.5 2819l6.5 6.5l-6.5 6.5l-6.5 -6.5zM808 2817.8l6.5 6.5l-6.5 6.5l-6.5 -6.5zM811.5 2816.6l6.5 6.5l-6.5 6.5l-6.5 -6.5zM815 2815.3l6.5 6.5l-6.5 6.5l-6.5 -6.5zM818.5 2814.1l6.5 6.5l-6.5 6.5l-6.5 -6.5zM822 2812.9l6.5 6.5l-6.5 6.5l-6.5 -6.5zM825.5 2811.7l6.5 6.5l-6.5 6.5l-6.5 -6.5zM829 2810.3l6.5 6.5l-6.5 6.5l-6.5 -6.5zM832.5 2808.2l6.5 6.5l-6.5 6.5l-6.5 -6.5zM836 2806.1l6.5 6.5l-6.5 6.5l-6.5 -6.5zM839.5 2804l6.5 6.5l-6.5 6.5l-6.5 -6.5zM843 2801.9l6.5 6.5l-6.5 6.5l-6.5 -6.5zM846.5 2799.8l6.5 6.5l-6.5 6.5l-6.5 -6.5zM850 2796.8l6.5 6.5l-6.5 6.5l-6.5 -6.5zM853.5 2793.8l6.5 6.5l-6.5 6.5l-6.5 -6.5zM857 2790.8l6.5 6.5l-6.5 6.5l-6.5 -6.5zM860.5 2787.7l6.5 6.5l-6.5 6.5l-6.5 -6.5zM864 2784.7l6.5 6.5l-6.5 6.5l-6.5 -6.5zM867.5 2781.5l6.5 6.5l-6.5 6.5l-6.5 -6.5zM871 2778.2l6.5 6.5l-6.5 6.5l-6.5 -6.5zM874.5 2774.9l6.5 6.5l-6.5 6.5l-6.5 -6.5zM878 2771.7l6.5 6.5l-6.5 6.5l-6.5 -6.5zM881.5 2768.4l6.5 6.5l-6.5 6.5l-6.5 -6.5zM885 2764.6l6.5 6.5l-6.5 6.5l-6.5 -6.5zM888.5 2760.4l6.5 6.5l-6.5 6.5l-6.5 -6.5zM892 2756.2l6.5 6.5l-6.5 6.5l-6.5 -6.5zM895.5 2752l6.5 6.5l-6.5 6.5l-6.5 -6.5zM899 2747.9l6.5 6.5l-6.5 6.5l-6.5 -6.5zM902.5 2743.2l6.5 6.5l-6.5 6.5l-6.5 -6.5zM906 2737.6l6.5 6.5l-6.5 6.5l-6.5 -6.5zM909.5 2732l6.5 6.5l-6.5 6.5l-6.5 -6.5zM913 2726.3l6.5 6.5l-6.5 6.5l-6.5 -6.5zM916.5 2720.8l6.5 6.5l-6.5 6.5l-6.5 -6.5zM920 2715.2l6.5 6.5l-6.5 6.5l-6.5 -6.5zM923.5 2709.6l6.5 6.5l-6.5 6.5l-6.5 -6.5zM927 2703.5l6.5 6.5l-6.5 6.5l-6.5 -6.5zM930.5 2696.5l6.5 6.5l-6.5 6.5l-6.5 -6.5zM934 2689.4l6.5 6.5l-6.5 6.5l-6.5 -6.5zM937.5 2682.4l6.5 6.5l-6.5 6.5l-6.5 -6.5zM941 2675.4l6.5 6.5l-6.5 6.5l-6.5 -6.5zM944.5 2668.4l6.5 6.5l-6.5 6.5l-6.5 -6.5zM948 2661.4l6.5 6.5l-6.5 6.5l-6.5 -6.5zM951.5 2654.8l6.5 6.5l-6.5 6.5l-6.5 -6.5zM955 2648.5l6.5 6.5l-6.5 6.5l-6.5 -6.5zM958.5 2642.3l6.5 6.5l-6.5 6.5l-6.5 -6.5zM962 2635.8l6.5 6.5l-6.5 6.5l-6.5 -6.5zM965.5 2628.3l6.5 6.5l-6.5 6.5l-6.5 -6.5zM969 2619.6l6.5 6.5l-6.5 6.5l-6.5 -6.5zM972.5 2610.8l6.5 6.5l-6.5 6.5l-6.5 -6.5zM976 2596.7l6.5 6.5l-6.5 6.5l-6.5 -6.5zM979.5 2580.3l6.5 6.5l-6.5 6.5l-6.5 -6.5zM983 2567l6.5 6.5l-6.5 6.5l-6.5 -6.5zM986.5 2555.5l6.5 6.5l-6.5 6.5l-6.5 -6.5zM990 2546.3l6.5 6.5l-6.5 6.5l-6.5 -6.5zM993.5 2536.7l6.5 6.5l-6.5 6.5l-6.5 -6.5zM997 2521.9l6.5 6.5l-6.5 6.5l-6.5 -6.5zM1000.5 2506.5l6.5 6.5l-6.5 6.5l-6.5 -6.5zM1004 2488.8l6.5 6.5l-6.5 6.5l-6.5 -6.5zM1007.5 2471.4l6.5 6.5l-6.5 6.5l-6.5 -6.5zM1011 2449.9l6.5 6.5l-6.5 6.5l-6.5 -6.5zM1014.5 2424.2l6.5 6.5l-6.5 6.5l-6.5 -6.5zM1018 2398.5l6.5 6.5l-6.5 6.5l-6.5 -6.5zM1021.5 2377.6l6.5 6.5l-6.5 6.5l-6.5 -6.5zM1025 2360.1l6.5 6.5l-6.5 6.5l-6.5 -6.5zM1028.5 2342.7l6.5 6.5l-6.5 6.5l-6.5 -6.5zM1032 2326.1l6.5 6.5l-6.5 6.5l-6.5 -6.5zM1035.5 2314.7l6.5 6.5l-6.5 6.5l-6.5 -6.5zM1039 2303.9l6.5 6.5l-6.5 6.5l-6.5 -6.5zM1042.5 2293.4l6.5 6.5l-6.5 6.5l-6.5 -6.5zM1046 2282l6.5 6.5l-6.5 6.5l-6.5 -6.5zM1049.5 2272.2l6.5 6.5l-6.5 6.5l-6.5 -6.5zM1053 2263.8l6.5 6.5l-6.5 6.5l-6.5 -6.5zM1056.5 2257l6.5 6.5l-6.5 6.5l-6.5 -6.5zM1060 2251.2l6.5 6.5l-6.5 6.5l-6.5 -6.5zM1063.5 2246.5l6.5 6.5l-6.5 6.5l-6.5 -6.5zM1067 2244.2l6.5 6.5l-6.5 6.5l-6.5 -6.5zM1070.5 2242l6.5 6.5l-6.5 6.5l-6.5 -6.5zM1074 2243.1l6.5 6.5l-6.5 6.5l-6.5 -6.5zM1077.5 2244.2l6.5 6.5l-6.5 6.5l-6.5 -6.5zM1081 2245.4l6.5 6.5l-6.5 6.5l-6.5 -6.5zM1084.5 2246.7l6.5 6.5l-6.5 6.5l-6.5 -6.5zM1088 2248l6.5 6.5l-6.5 6.5l-6.5 -6.5zM1091.5 2250.6l6.5 6.5l-6.5 6.5l-6.5 -6.5zM1095 2254.1l6.5 6.5l-6.5 6.5l-6.5 -6.5zM1098.5 2257.6l6.5 6.5l-6.5 6.5l-6.5 -6.5zM1102 2263.3l6.5 6.5l-6.5 6.5l-6.5 -6.5zM1105.5 2271l6.5 6.5l-6.5 6.5l-6.5 -6.5zM1109 2279.9l6.5 6.5l-6.5 6.5l-6.5 -6.5zM1112.5 2289.6l6.5 6.5l-6.5 6.5l-6.5 -6.5zM1116 2300l6.5 6.5l-6.5 6.5l-6.5 -6.5zM1119.5 2311.2l6.5 6.5l-6.5 6.5l-6.5 -6.5zM1123 2323.7l6.5 6.5l-6.5 6.5l-6.5 -6.5zM1126.5 2339.2l6.5 6.5l-6.5 6.5l-6.5 -6.5zM1130 2354.1l6.5 6.5l-6.5 6.5l-6.5 -6.5zM1133.5 2363.6l6.5 6.5l-6.5 6.5l-6.5 -6.5zM1137 2372.6l6.5 6.5l-6.5 6.5l-6.5 -6.5zM1140.5 2379.1l6.5 6.5l-6.5 6.5l-6.5 -6.5zM1144 2381.9l6.5 6.5l-6.5 6.5l-6.5 -6.5zM1147.5 2383.4l6.5 6.5l-6.5 6.5l-6.5 -6.5zM1151 2383.4l6.5 6.5l-6.5 6.5l-6.5 -6.5zM1154.5 2376.8l6.5 6.5l-6.5 6.5l-6.5 -6.5zM1158 2369.9l6.5 6.5l-6.5 6.5l-6.5 -6.5zM1161.5 2361.4l6.5 6.5l-6.5 6.5l-6.5 -6.5zM1165 2353.5l6.5 6.5l-6.5 6.5l-6.5 -6.5zM1168.5 2350.7l6.5 6.5l-6.5 6.5l-6.5 -6.5zM1172 2351l6.5 6.5l-6.5 6.5l-6.5 -6.5zM1175.5 2353.7l6.5 6.5l-6.5 6.5l-6.5 -6.5zM1179 2373.2l6.5 6.5l-6.5 6.5l-6.5 -6.5zM1182.5 2403.4l6.5 6.5l-6.5 6.5l-6.5 -6.5zM1186 2438.3l6.5 6.5l-6.5 6.5l-6.5 -6.5zM1189.5 2492l6.5 6.5l-6.5 6.5l-6.5 -6.5zM1193 2557.8l6.5 6.5l-6.5 6.5l-6.5 -6.5zM1196.5 2619.6l6.5 6.5l-6.5 6.5l-6.5 -6.5zM1200 2674.3l6.5 6.5l-6.5 6.5l-6.5 -6.5zM1203.5 2710.5l6.5 6.5l-6.5 6.5l-6.5 -6.5zM1207 2744.6l6.5 6.5l-6.5 6.5l-6.5 -6.5zM1210.5 2764.4l6.5 6.5l-6.5 6.5l-6.5 -6.5zM1214 2782.7l6.5 6.5l-6.5 6.5l-6.5 -6.5zM1217.5 2796.7l6.5 6.5l-6.5 6.5l-6.5 -6.5zM1221 2803.3l6.5 6.5l-6.5 6.5l-6.5 -6.5zM1224.5 2809l6.5 6.5l-6.5 6.5l-6.5 -6.5zM1228 2813.6l6.5 6.5l-6.5 6.5l-6.5 -6.5zM1231.5 2818.1l6.5 6.5l-6.5 6.5l-6.5 -6.5zM1235 2822.2l6.5 6.5l-6.5 6.5l-6.5 -6.5zM1238.5 2826.3l6.5 6.5l-6.5 6.5l-6.5 -6.5zM1242 2829.8l6.5 6.5l-6.5 6.5l-6.5 -6.5zM1245.5 2832.6l6.5 6.5l-6.5 6.5l-6.5 -6.5zM1249 2835.3l6.5 6.5l-6.5 6.5l-6.5 -6.5zM1252.5 2838.1l6.5 6.5l-6.5 6.5l-6.5 -6.5zM1256 2840.5l6.5 6.5l-6.5 6.5l-6.5 -6.5zM1259.5 2842.8l6.5 6.5l-6.5 6.5l-6.5 -6.5zM1263 2845.2l6.5 6.5l-6.5 6.5l-6.5 -6.5zM1266.5 2847.3l6.5 6.5l-6.5 6.5l-6.5 -6.5zM1270 2849.1l6.5 6.5l-6.5 6.5l-6.5 -6.5zM1273.5 2851l6.5 6.5l-6.5 6.5l-6.5 -6.5zM1277 2852.8l6.5 6.5l-6.5 6.5l-6.5 -6.5zM1280.5 2854.4l6.5 6.5l-6.5 6.5l-6.5 -6.5zM1284 2856.1l6.5 6.5l-6.5 6.5l-6.5 -6.5zM1287.5 2857.7l6.5 6.5l-6.5 6.5l-6.5 -6.5zM1291 2859l6.5 6.5l-6.5 6.5l-6.5 -6.5zM1294.5 2860.1l6.5 6.5l-6.5 6.5l-6.5 -6.5zM1298 2861.2l6.5 6.5l-6.5 6.5l-6.5 -6.5zM1301.5 2862.2l6.5 6.5l-6.5 6.5l-6.5 -6.5zM1305 2863.3l6.5 6.5l-6.5 6.5l-6.5 -6.5zM1308.5 2864l6.5 6.5l-6.5 6.5l-6.5 -6.5zM1312 2864.8l6.5 6.5l-6.5 6.5l-6.5 -6.5zM1315.5 2865.5l6.5 6.5l-6.5 6.5l-6.5 -6.5zM1319 2866.3l6.5 6.5l-6.5 6.5l-6.5 -6.5zM1322.5 2866.8l6.5 6.5l-6.5 6.5l-6.5 -6.5zM1326 2867.2l6.5 6.5l-6.5 6.5l-6.5 -6.5zM1329.5 2867.7l6.5 6.5l-6.5 6.5l-6.5 -6.5zM1333 2868.1l6.5 6.5l-6.5 6.5l-6.5 -6.5zM1336.5 2868.6l6.5 6.5l-6.5 6.5l-6.5 -6.5zM1340 2869l6.5 6.5l-6.5 6.5l-6.5 -6.5zM1343.5 2869.3l6.5 6.5l-6.5 6.5l-6.5 -6.5zM1347 2869.5l6.5 6.5l-6.5 6.5l-6.5 -6.5zM1350.5 2869.8l6.5 6.5l-6.5 6.5l-6.5 -6.5zM1354 2870.1l6.5 6.5l-6.5 6.5l-6.5 -6.5zM1357.5 2870.3l6.5 6.5l-6.5 6.5l-6.5 -6.5zM1361 2870.6l6.5 6.5l-6.5 6.5l-6.5 -6.5zM1364.5 2870.8l6.5 6.5l-6.5 6.5l-6.5 -6.5zM1368 2871.1l6.5 6.5l-6.5 6.5l-6.5 -6.5zM1371.5 2871.4l6.5 6.5l-6.5 6.5l-6.5 -6.5zM1375 2871.6l6.5 6.5l-6.5 6.5l-6.5 -6.5zM1378.5 2871.9l6.5 6.5l-6.5 6.5l-6.5 -6.5zM1382 2872.1l6.5 6.5l-6.5 6.5l-6.5 -6.5zM1385.5 2872.2l6.5 6.5l-6.5 6.5l-6.5 -6.5zM1389 2872.3l6.5 6.5l-6.5 6.5l-6.5 -6.5zM1392.5 2872.4l6.5 6.5l-6.5 6.5l-6.5 -6.5zM1396 2872.5l6.5 6.5l-6.5 6.5l-6.5 -6.5zM1399.5 2872.6l6.5 6.5l-6.5 6.5l-6.5 -6.5zM1403 2872.8l6.5 6.5l-6.5 6.5l-6.5 -6.5zM1406.5 2872.9l6.5 6.5l-6.5 6.5l-6.5 -6.5zM1410 2873l6.5 6.5l-6.5 6.5l-6.5 -6.5zM1413.5 2873.1l6.5 6.5l-6.5 6.5l-6.5 -6.5zM1417 2873.2l6.5 6.5l-6.5 6.5l-6.5 -6.5zM1420.5 2873.3l6.5 6.5l-6.5 6.5l-6.5 -6.5zM1424 2873.4l6.5 6.5l-6.5 6.5l-6.5 -6.5zM1427.5 2873.6l6.5 6.5l-6.5 6.5l-6.5 -6.5zM1431 2873.7l6.5 6.5l-6.5 6.5l-6.5 -6.5zM1434.5 2873.8l6.5 6.5l-6.5 6.5l-6.5 -6.5zM1438 2873.9l6.5 6.5l-6.5 6.5l-6.5 -6.5zM1441.5 2874l6.5 6.5l-6.5 6.5l-6.5 -6.5zM1445 2874l6.5 6.5l-6.5 6.5l-6.5 -6.5zM1448.5 2874.1l6.5 6.5l-6.5 6.5l-6.5 -6.5zM1452 2874.1l6.5 6.5l-6.5 6.5l-6.5 -6.5zM1455.5 2874.1l6.5 6.5l-6.5 6.5l-6.5 -6.5zM1459 2874.2l6.5 6.5l-6.5 6.5l-6.5 -6.5zM1462.5 2874.2l6.5 6.5l-6.5 6.5l-6.5 -6.5zM1466 2874.2l6.5 6.5l-6.5 6.5l-6.5 -6.5zM1469.5 2874.3l6.5 6.5l-6.5 6.5l-6.5 -6.5zM1473 2874.3l6.5 6.5l-6.5 6.5l-6.5 -6.5zM1476.5 2874.3l6.5 6.5l-6.5 6.5l-6.5 -6.5zM1480 2874.4l6.5 6.5l-6.5 6.5l-6.5 -6.5zM1483.5 2874.4l6.5 6.5l-6.5 6.5l-6.5 -6.5zM1487 2874.4l6.5 6.5l-6.5 6.5l-6.5 -6.5zM1490.5 2874.4l6.5 6.5l-6.5 6.5l-6.5 -6.5zM1494 2874.5l6.5 6.5l-6.5 6.5l-6.5 -6.5zM1497.5 2874.5l6.5 6.5l-6.5 6.5l-6.5 -6.5zM1501 2874.5l6.5 6.5l-6.5 6.5l-6.5 -6.5zM1504.5 2874.6l6.5 6.5l-6.5 6.5l-6.5 -6.5zM1508 2874.6l6.5 6.5l-6.5 6.5l-6.5 -6.5zM1511.5 2874.6l6.5 6.5l-6.5 6.5l-6.5 -6.5zM1515 2874.7l6.5 6.5l-6.5 6.5l-6.5 -6.5zM1518.5 2874.7l6.5 6.5l-6.5 6.5l-6.5 -6.5zM1522 2874.7l6.5 6.5l-6.5 6.5l-6.5 -6.5zM1525.5 2874.8l6.5 6.5l-6.5 6.5l-6.5 -6.5zM1529 2874.8l6.5 6.5l-6.5 6.5l-6.5 -6.5zM1532.5 2874.8l6.5 6.5l-6.5 6.5l-6.5 -6.5zM1536 2874.9l6.5 6.5l-6.5 6.5l-6.5 -6.5zM1539.5 2874.9l6.5 6.5l-6.5 6.5l-6.5 -6.5zM1543 2874.9l6.5 6.5l-6.5 6.5l-6.5 -6.5zM1546.5 2875l6.5 6.5l-6.5 6.5l-6.5 -6.5zM1550 2875l6.5 6.5l-6.5 6.5l-6.5 -6.5zM1553.5 2875l6.5 6.5l-6.5 6.5l-6.5 -6.5zM1557 2875l6.5 6.5l-6.5 6.5l-6.5 -6.5zM1560.5 2875.1l6.5 6.5l-6.5 6.5l-6.5 -6.5zM1564 2875.1l6.5 6.5l-6.5 6.5l-6.5 -6.5zM1567.5 2875.1l6.5 6.5l-6.5 6.5l-6.5 -6.5zM1571 2875.2l6.5 6.5l-6.5 6.5l-6.5 -6.5zM1574.5 2875.2l6.5 6.5l-6.5 6.5l-6.5 -6.5zM1578 2875.2l6.5 6.5l-6.5 6.5l-6.5 -6.5zM1581.5 2875.3l6.5 6.5l-6.5 6.5l-6.5 -6.5zM1585 2875.3l6.5 6.5l-6.5 6.5l-6.5 -6.5zM1588.5 2875.3l6.5 6.5l-6.5 6.5l-6.5 -6.5zM1592 2875.3l6.5 6.5l-6.5 6.5l-6.5 -6.5zM1595.5 2875.4l6.5 6.5l-6.5 6.5l-6.5 -6.5zM1599 2875.4l6.5 6.5l-6.5 6.5l-6.5 -6.5zM1602.5 2875.4l6.5 6.5l-6.5 6.5l-6.5 -6.5zM1606 2875.5l6.5 6.5l-6.5 6.5l-6.5 -6.5zM1609.5 2875.5l6.5 6.5l-6.5 6.5l-6.5 -6.5zM1613 2875.5l6.5 6.5l-6.5 6.5l-6.5 -6.5zM1616.5 2875.5l6.5 6.5l-6.5 6.5l-6.5 -6.5zM1620 2875.6l6.5 6.5l-6.5 6.5l-6.5 -6.5zM1623.5 2875.6l6.5 6.5l-6.5 6.5l-6.5 -6.5zM1627 2875.6l6.5 6.5l-6.5 6.5l-6.5 -6.5zM1630.5 2875.7l6.5 6.5l-6.5 6.5l-6.5 -6.5zM1634 2875.7l6.5 6.5l-6.5 6.5l-6.5 -6.5zM1637.5 2875.7l6.5 6.5l-6.5 6.5l-6.5 -6.5zM1641 2875.8l6.5 6.5l-6.5 6.5l-6.5 -6.5z" fill="#B177DE" stroke="none"/>
</g>
<g font-family="Liberation Serif, 'Times New Roman', serif" font-size="50" fill="#000">
<text x="173" y="2902.6" text-anchor="end">0.0</text>
<text x="173" y="2686.8" text-anchor="end">0.5</text>
<text x="173" y="2471.0" text-anchor="end">1.0</text>
<text x="173" y="2255.2" text-anchor="end">1.5</text>
<text x="173" y="2039.4" text-anchor="end">2.0</text>
<text x="173" y="1823.6" text-anchor="end">2.5</text>
<text x="647.3" y="3051" text-anchor="middle">200</text>
<text x="1571.7" y="3051" text-anchor="middle">400</text>
</g>
<text font-family="Liberation Serif, 'Times New Roman', serif" font-size="64" transform="translate(718.5,3135.1) scale(0.948,1)">Temperature (°C)</text>
<text font-family="Liberation Serif, 'Times New Roman', serif" font-size="61" transform="translate(89,2650) rotate(-90)">Mass loss rate (%/min)</text>
<text font-family="Liberation Serif, 'Times New Roman', serif" font-size="64" fill="#0000FF" transform="translate(345.5,1798.5) scale(0.935,1)">Stage 1</text>
<text font-family="Liberation Serif, 'Times New Roman', serif" font-size="64" fill="#FF0000" transform="translate(944.8,2075.4) scale(0.947,1)">Stage 2</text>
<text font-family="Liberation Serif, 'Times New Roman', serif" font-size="64" fill="#000" transform="translate(1219.5,2307.6) scale(0.931,1)">Stage 3</text>
<g fill="none" stroke-width="3">
<path d="M420.6,1807.9 C484.2,1863.8 513.4,1948.9 522.5,2031" stroke="#0000FF"/>
<path d="M1002.5,2113 C1032.1,2137.8 1056.9,2170.8 1066.9,2209" stroke="#FF0000"/>
<path d="M1287.1,2328.1 C1275.7,2350.2 1261.3,2372 1238,2387" stroke="#000"/>
</g>
<polygon points="515.1,2030.6 531.9,2030.6 522.8,2060.8" fill="#0000FF"/>
<polygon points="1060.1,2209.6 1075.8,2207.4 1071.5,2238.7" fill="#FF0000"/>
<polygon points="1235,2379 1242.3,2394.4 1211,2399.3" fill="#000"/>
<rect x="1267.1" y="1735.5" width="450.5" height="453" fill="#fff" stroke="#000" stroke-width="2.6"/>
<line x1="1274" y1="1787.7" x2="1418" y2="1787.7" stroke="#515151" stroke-width="6.5" stroke-linecap="round"/>
<path d="M1341.3 1783.2h9v9h-9z" fill="#515151"/>
<text font-family="Liberation Serif, 'Times New Roman', serif" font-size="66" transform="translate(1433.8,1810.2) scale(0.933,1)">0.5</text>
<text font-family="Liberation Serif, 'Times New Roman', serif" font-size="44" x="1529.5" y="1783.0">o</text>
<text font-family="Liberation Serif, 'Times New Roman', serif" font-size="66" transform="translate(1549.5,1810.2) scale(0.9725,1)">C/min</text>
<line x1="1274" y1="1877.5" x2="1418" y2="1877.5" stroke="#F14040" stroke-width="6.5" stroke-linecap="round"/>
<path d="M1341 1877.5a4.8 4.8 0 1 0 9.5 0a4.8 4.8 0 1 0 -9.5 0" fill="#F14040"/>
<text font-family="Liberation Serif, 'Times New Roman', serif" font-size="66" transform="translate(1433.8,1900.0) scale(0.933,1)">1.0</text>
<text font-family="Liberation Serif, 'Times New Roman', serif" font-size="44" x="1529.5" y="1872.8">o</text>
<text font-family="Liberation Serif, 'Times New Roman', serif" font-size="66" transform="translate(1549.5,1900.0) scale(0.9725,1)">C/min</text>
<line x1="1274" y1="1966.0" x2="1418" y2="1966.0" stroke="#1A6FDF" stroke-width="6.5" stroke-linecap="round"/>
<path d="M1345.8 1961.4l4.5 7.6h-9z" fill="#1A6FDF"/>
<text font-family="Liberation Serif, 'Times New Roman', serif" font-size="66" transform="translate(1433.8,1988.5) scale(0.933,1)">2.0</text>
<text font-family="Liberation Serif, 'Times New Roman', serif" font-size="44" x="1529.5" y="1961.3">o</text>
<text font-family="Liberation Serif, 'Times New Roman', serif" font-size="66" transform="translate(1549.5,1988.5) scale(0.9725,1)">C/min</text>
<line x1="1274" y1="2056.1" x2="1418" y2="2056.1" stroke="#37AD6B" stroke-width="6.5" stroke-linecap="round"/>
<path d="M1345.8 2061.2l5 -8.5h-10z" fill="#37AD6B"/>
<text font-family="Liberation Serif, 'Times New Roman', serif" font-size="66" transform="translate(1433.8,2078.6) scale(0.933,1)">4.0</text>
<text font-family="Liberation Serif, 'Times New Roman', serif" font-size="44" x="1529.5" y="2051.4">o</text>
<text font-family="Liberation Serif, 'Times New Roman', serif" font-size="66" transform="translate(1549.5,2078.6) scale(0.9725,1)">C/min</text>
<line x1="1274" y1="2146.0" x2="1418" y2="2146.0" stroke="#B177DE" stroke-width="6.5" stroke-linecap="round"/>
<path d="M1345.8 2140.5l5.5 5.5l-5.5 5.5l-5.5 -5.5z" fill="#B177DE"/>
<text font-family="Liberation Serif, 'Times New Roman', serif" font-size="66" transform="translate(1433.8,2168.5) scale(0.933,1)">8.0</text>
<text font-family="Liberation Serif, 'Times New Roman', serif" font-size="44" x="1529.5" y="2141.3">o</text>
<text font-family="Liberation Serif, 'Times New Roman', serif" font-size="66" transform="translate(1549.5,2168.5) scale(0.9725,1)">C/min</text>
</svg></body></html>
